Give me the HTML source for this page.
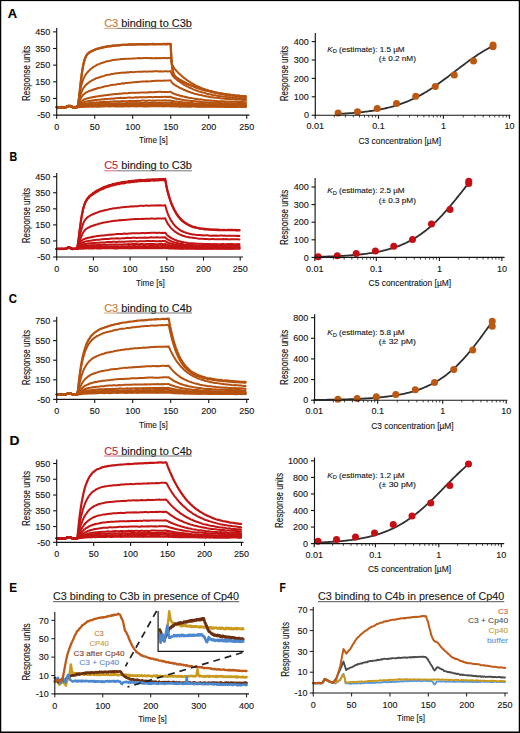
<!DOCTYPE html>
<html><head><meta charset="utf-8"><style>
html,body{margin:0;padding:0;background:#fff;}
body{width:520px;height:733px;overflow:hidden;font-family:"Liberation Sans", sans-serif;}
svg{display:block;}
text{stroke-width:0.12px;}
</style></head><body>
<svg width="520" height="733" viewBox="0 0 520 733" font-family='"Liberation Sans", sans-serif'>
<rect x="0" y="0" width="520" height="733" fill="#fff"/>
<path d="M56.70,107.21 L58.22,107.15 L59.74,107.33 L61.26,107.12 L62.78,107.29 L64.30,107.23 L65.82,107.12 L66.20,107.05 L66.58,106.66 L66.96,106.60 L67.34,106.28 L67.72,106.13 L68.10,106.12 L68.48,106.17 L68.86,105.86 L69.24,105.88 L69.62,106.04 L70.00,106.21 L70.38,106.18 L70.76,106.24 L71.14,106.61 L71.52,106.46 L71.90,106.96 L72.28,106.97 L72.66,107.15 L73.04,107.14 L73.42,107.21 L74.94,107.39 L76.46,107.16 L77.98,105.89 L78.36,103.58 L78.74,100.59 L79.12,97.41 L79.50,93.79 L79.88,90.26 L80.26,86.80 L80.64,83.54 L81.02,80.16 L81.40,77.02 L81.78,74.23 L82.16,71.52 L82.54,69.05 L82.92,67.04 L83.30,65.04 L83.68,63.13 L84.06,61.71 L84.44,60.33 L84.82,59.27 L85.20,58.18 L85.58,57.11 L85.96,56.57 L86.34,55.56 L86.72,55.06 L87.10,54.65 L87.48,53.96 L87.86,53.67 L88.24,53.13 L88.62,53.02 L89.00,52.75 L89.38,52.40 L89.76,52.25 L90.14,51.81 L90.52,51.72 L90.90,51.47 L91.28,51.26 L91.66,51.02 L92.04,50.98 L92.42,50.84 L92.80,50.50 L93.18,50.40 L93.56,50.02 L93.94,50.10 L94.32,49.92 L94.70,49.90 L95.08,49.70 L95.46,49.36 L95.84,49.27 L96.22,49.24 L96.60,48.87 L98.12,48.55 L99.64,48.00 L101.16,47.59 L102.68,47.21 L104.20,47.14 L105.72,46.62 L107.24,46.40 L108.76,46.21 L110.28,46.16 L111.80,45.68 L113.32,45.64 L114.84,45.51 L116.36,45.49 L117.88,45.33 L119.40,45.23 L120.92,44.91 L122.44,44.86 L123.96,44.75 L125.48,44.86 L127.00,44.82 L128.52,44.46 L130.04,44.41 L131.56,44.38 L133.08,44.33 L134.60,44.38 L136.12,44.38 L137.64,44.22 L139.16,44.10 L140.68,44.22 L142.20,44.17 L143.72,44.22 L145.24,44.34 L146.76,44.22 L148.28,44.14 L149.80,44.16 L151.32,44.17 L152.84,43.93 L154.36,44.22 L155.88,44.17 L157.40,44.19 L158.92,44.16 L160.44,44.00 L161.96,44.00 L163.48,43.89 L165.00,44.07 L166.52,43.86 L168.04,43.86 L169.56,43.90 L169.94,43.89 L170.32,43.95 L170.70,43.84 L171.08,52.79 L171.46,59.28 L171.84,63.90 L172.22,67.35 L172.60,69.70 L172.98,71.82 L173.36,73.10 L173.74,73.98 L174.12,74.83 L174.50,75.52 L174.88,76.06 L175.26,76.42 L175.64,77.08 L176.02,77.48 L176.40,77.61 L176.78,77.91 L177.16,78.04 L177.54,78.31 L177.92,78.66 L178.30,78.87 L178.68,79.32 L179.06,79.31 L179.44,79.50 L179.82,80.06 L180.20,80.13 L180.58,80.21 L180.96,80.57 L181.34,80.60 L181.72,80.99 L182.10,81.37 L182.48,81.53 L182.86,81.68 L183.24,81.72 L183.62,81.96 L184.00,82.09 L184.38,82.50 L184.76,82.60 L185.14,82.88 L185.52,82.91 L185.90,83.06 L186.28,83.46 L186.66,83.70 L187.04,83.83 L187.42,83.99 L187.80,84.17 L188.18,84.32 L188.56,84.31 L188.94,84.58 L189.32,84.69 L189.70,84.74 L191.22,85.39 L192.74,86.09 L194.26,86.68 L195.78,87.40 L197.30,88.03 L198.82,88.36 L200.34,89.02 L201.86,89.51 L203.38,89.95 L204.90,90.16 L206.42,90.52 L207.94,90.91 L209.46,91.27 L210.98,91.63 L212.50,92.12 L214.02,92.54 L215.54,92.83 L217.06,93.00 L218.58,93.34 L220.10,93.66 L221.62,93.66 L223.14,94.12 L224.66,94.44 L226.18,94.62 L227.70,94.82 L229.22,94.93 L230.74,95.02 L232.26,95.42 L233.78,95.44 L235.30,95.78 L236.82,96.00 L238.34,95.95 L239.86,96.10 L241.38,96.44 L242.90,96.49 L244.42,96.42 L245.94,96.53" fill="none" stroke="#b5520f" stroke-width="2.2" stroke-linejoin="round" stroke-linecap="round"/>
<path d="M56.70,106.82 L58.22,107.09 L59.74,107.05 L61.26,106.81 L62.78,107.06 L64.30,107.11 L65.82,107.00 L66.20,106.66 L66.58,106.51 L66.96,106.16 L67.34,105.93 L67.72,106.12 L68.10,105.87 L68.48,105.73 L68.86,105.82 L69.24,105.62 L69.62,105.80 L70.00,105.84 L70.38,105.71 L70.76,105.86 L71.14,106.03 L71.52,106.20 L71.90,106.53 L72.28,106.63 L72.66,106.91 L73.04,106.81 L73.42,107.09 L74.94,106.89 L76.46,106.93 L77.98,105.57 L78.36,103.37 L78.74,100.33 L79.12,97.29 L79.50,93.72 L79.88,90.23 L80.26,86.74 L80.64,83.16 L81.02,80.05 L81.40,76.88 L81.78,73.95 L82.16,71.60 L82.54,68.97 L82.92,66.91 L83.30,65.05 L83.68,63.26 L84.06,61.65 L84.44,60.37 L84.82,59.20 L85.20,58.25 L85.58,57.11 L85.96,56.48 L86.34,55.68 L86.72,55.09 L87.10,54.74 L87.48,54.18 L87.86,53.78 L88.24,53.48 L88.62,53.20 L89.00,52.73 L89.38,52.51 L89.76,52.22 L90.14,51.98 L90.52,51.82 L90.90,51.52 L91.28,51.35 L91.66,51.14 L92.04,51.12 L92.42,50.86 L92.80,50.76 L93.18,50.61 L93.56,50.21 L93.94,50.16 L94.32,50.15 L94.70,49.97 L95.08,49.57 L95.46,49.43 L95.84,49.41 L96.22,49.15 L96.60,49.08 L98.12,48.54 L99.64,48.32 L101.16,47.97 L102.68,47.65 L104.20,47.06 L105.72,46.98 L107.24,46.69 L108.76,46.27 L110.28,46.32 L111.80,46.15 L113.32,45.71 L114.84,45.81 L116.36,45.47 L117.88,45.37 L119.40,45.43 L120.92,45.27 L122.44,44.93 L123.96,44.94 L125.48,44.89 L127.00,44.76 L128.52,44.64 L130.04,44.63 L131.56,44.72 L133.08,44.42 L134.60,44.57 L136.12,44.49 L137.64,44.30 L139.16,44.38 L140.68,44.45 L142.20,44.39 L143.72,44.20 L145.24,44.51 L146.76,44.42 L148.28,44.47 L149.80,44.14 L151.32,44.19 L152.84,44.09 L154.36,44.35 L155.88,44.15 L157.40,44.09 L158.92,44.19 L160.44,44.36 L161.96,44.32 L163.48,44.11 L165.00,44.06 L166.52,44.33 L168.04,44.20 L169.56,44.25 L169.94,44.03 L170.32,44.01 L170.70,44.24 L171.08,53.04 L171.46,59.30 L171.84,64.21 L172.22,67.45 L172.60,69.95 L172.98,71.50 L173.36,73.14 L173.74,73.90 L174.12,75.00 L174.50,75.50 L174.88,75.99 L175.26,76.52 L175.64,77.05 L176.02,77.16 L176.40,77.43 L176.78,77.87 L177.16,78.04 L177.54,78.26 L177.92,78.54 L178.30,78.74 L178.68,79.04 L179.06,79.32 L179.44,79.54 L179.82,79.94 L180.20,79.99 L180.58,80.29 L180.96,80.39 L181.34,80.67 L181.72,80.76 L182.10,81.06 L182.48,81.18 L182.86,81.64 L183.24,81.78 L183.62,81.85 L184.00,82.15 L184.38,82.51 L184.76,82.41 L185.14,82.85 L185.52,82.90 L185.90,83.11 L186.28,83.42 L186.66,83.45 L187.04,83.67 L187.42,83.91 L187.80,84.19 L188.18,84.14 L188.56,84.49 L188.94,84.61 L189.32,84.75 L189.70,84.84 L191.22,85.47 L192.74,85.98 L194.26,86.60 L195.78,87.14 L197.30,87.92 L198.82,88.26 L200.34,88.72 L201.86,89.16 L203.38,89.88 L204.90,90.32 L206.42,90.66 L207.94,90.91 L209.46,91.27 L210.98,91.64 L212.50,92.04 L214.02,92.26 L215.54,92.67 L217.06,92.90 L218.58,93.44 L220.10,93.71 L221.62,93.82 L223.14,93.95 L224.66,94.45 L226.18,94.44 L227.70,94.67 L229.22,94.75 L230.74,95.08 L232.26,95.30 L233.78,95.49 L235.30,95.55 L236.82,95.82 L238.34,95.80 L239.86,96.04 L241.38,96.12 L242.90,96.37 L244.42,96.37 L245.94,96.48" fill="none" stroke="#b5520f" stroke-width="2.2" stroke-linejoin="round" stroke-linecap="round"/>
<path d="M56.70,107.20 L58.22,107.18 L59.74,107.31 L61.26,107.29 L62.78,107.37 L64.30,107.33 L65.82,107.35 L66.20,107.19 L66.58,106.79 L66.96,106.56 L67.34,106.61 L67.72,106.15 L68.10,106.23 L68.48,106.10 L68.86,105.83 L69.24,106.10 L69.62,106.14 L70.00,106.10 L70.38,106.23 L70.76,106.39 L71.14,106.31 L71.52,106.63 L71.90,106.83 L72.28,107.17 L72.66,107.38 L73.04,107.39 L73.42,107.31 L74.94,107.42 L76.46,107.34 L77.98,104.93 L78.36,102.07 L78.74,99.35 L79.12,96.85 L79.50,94.56 L79.88,92.27 L80.26,90.51 L80.64,88.55 L81.02,86.88 L81.40,85.34 L81.78,83.94 L82.16,82.59 L82.54,81.24 L82.92,80.45 L83.30,79.45 L83.68,78.46 L84.06,77.64 L84.44,76.92 L84.82,75.99 L85.20,75.57 L85.58,74.78 L85.96,74.14 L86.34,73.66 L86.72,73.32 L87.10,72.64 L87.48,72.37 L87.86,72.02 L88.24,71.43 L88.62,70.99 L89.00,70.64 L89.38,70.35 L89.76,70.02 L90.14,69.63 L90.52,69.31 L90.90,68.79 L91.28,68.51 L91.66,68.25 L92.04,68.14 L92.42,67.70 L92.80,67.52 L93.18,67.06 L93.56,66.82 L93.94,66.65 L94.32,66.56 L94.70,66.33 L95.08,66.10 L95.46,65.74 L95.84,65.61 L96.22,65.38 L96.60,65.18 L98.12,64.30 L99.64,63.90 L101.16,63.05 L102.68,62.79 L104.20,62.29 L105.72,61.52 L107.24,61.29 L108.76,61.07 L110.28,60.81 L111.80,60.35 L113.32,60.03 L114.84,59.78 L116.36,59.85 L117.88,59.40 L119.40,59.38 L120.92,59.07 L122.44,59.08 L123.96,59.12 L125.48,58.72 L127.00,58.87 L128.52,58.68 L130.04,58.74 L131.56,58.61 L133.08,58.38 L134.60,58.56 L136.12,58.37 L137.64,58.16 L139.16,58.11 L140.68,58.25 L142.20,58.21 L143.72,58.12 L145.24,58.04 L146.76,58.09 L148.28,58.06 L149.80,58.23 L151.32,57.92 L152.84,58.17 L154.36,58.19 L155.88,57.92 L157.40,58.20 L158.92,58.11 L160.44,58.17 L161.96,57.95 L163.48,57.97 L165.00,57.97 L166.52,58.18 L168.04,58.03 L169.56,57.94 L169.94,57.97 L170.32,57.91 L170.70,57.83 L171.08,60.10 L171.46,62.09 L171.84,63.25 L172.22,64.59 L172.60,65.25 L172.98,66.03 L173.36,66.80 L173.74,67.30 L174.12,67.92 L174.50,68.65 L174.88,69.12 L175.26,69.56 L175.64,69.95 L176.02,70.49 L176.40,70.93 L176.78,71.20 L177.16,71.67 L177.54,71.83 L177.92,72.47 L178.30,72.75 L178.68,73.24 L179.06,73.57 L179.44,73.81 L179.82,74.08 L180.20,74.76 L180.58,74.82 L180.96,75.29 L181.34,75.58 L181.72,75.90 L182.10,76.39 L182.48,76.80 L182.86,76.86 L183.24,77.32 L183.62,77.50 L184.00,77.90 L184.38,78.14 L184.76,78.36 L185.14,78.65 L185.52,78.95 L185.90,79.49 L186.28,79.62 L186.66,79.80 L187.04,80.31 L187.42,80.61 L187.80,80.68 L188.18,80.83 L188.56,81.10 L188.94,81.32 L189.32,81.66 L189.70,81.81 L191.22,82.80 L192.74,83.70 L194.26,84.64 L195.78,85.54 L197.30,86.24 L198.82,86.81 L200.34,87.47 L201.86,88.13 L203.38,88.66 L204.90,89.19 L206.42,89.61 L207.94,90.17 L209.46,90.88 L210.98,91.01 L212.50,91.55 L214.02,91.98 L215.54,92.42 L217.06,92.53 L218.58,92.87 L220.10,93.16 L221.62,93.50 L223.14,93.78 L224.66,94.22 L226.18,94.41 L227.70,94.65 L229.22,94.55 L230.74,94.75 L232.26,95.18 L233.78,95.42 L235.30,95.44 L236.82,95.63 L238.34,95.57 L239.86,95.85 L241.38,96.17 L242.90,96.26 L244.42,96.38 L245.94,96.53" fill="none" stroke="#b5520f" stroke-width="2.0" stroke-linejoin="round" stroke-linecap="round"/>
<path d="M56.70,107.18 L58.22,107.13 L59.74,107.15 L61.26,107.28 L62.78,107.34 L64.30,107.43 L65.82,107.35 L66.20,107.10 L66.58,106.93 L66.96,106.61 L67.34,106.46 L67.72,106.11 L68.10,106.25 L68.48,105.96 L68.86,106.15 L69.24,106.03 L69.62,105.92 L70.00,105.92 L70.38,106.06 L70.76,106.33 L71.14,106.51 L71.52,106.49 L71.90,106.68 L72.28,107.06 L72.66,107.30 L73.04,107.23 L73.42,107.18 L74.94,107.31 L76.46,107.10 L77.98,105.58 L78.36,103.82 L78.74,102.20 L79.12,100.38 L79.50,98.85 L79.88,97.22 L80.26,95.76 L80.64,94.51 L81.02,93.61 L81.40,92.47 L81.78,91.37 L82.16,90.40 L82.54,89.77 L82.92,89.11 L83.30,88.35 L83.68,87.68 L84.06,87.26 L84.44,86.83 L84.82,86.09 L85.20,85.56 L85.58,85.25 L85.96,84.88 L86.34,84.60 L86.72,84.06 L87.10,83.94 L87.48,83.60 L87.86,83.20 L88.24,82.80 L88.62,82.79 L89.00,82.28 L89.38,82.20 L89.76,81.73 L90.14,81.48 L90.52,81.43 L90.90,81.03 L91.28,81.04 L91.66,80.66 L92.04,80.33 L92.42,80.14 L92.80,80.00 L93.18,79.89 L93.56,79.80 L93.94,79.32 L94.32,79.23 L94.70,78.98 L95.08,79.08 L95.46,78.61 L95.84,78.41 L96.22,78.25 L96.60,78.21 L98.12,77.79 L99.64,77.23 L101.16,76.67 L102.68,76.30 L104.20,75.86 L105.72,75.25 L107.24,74.85 L108.76,74.80 L110.28,74.44 L111.80,73.91 L113.32,73.89 L114.84,73.56 L116.36,73.36 L117.88,73.16 L119.40,72.93 L120.92,72.71 L122.44,72.67 L123.96,72.56 L125.48,72.66 L127.00,72.25 L128.52,72.45 L130.04,72.09 L131.56,72.06 L133.08,72.15 L134.60,72.08 L136.12,71.88 L137.64,71.68 L139.16,71.78 L140.68,71.69 L142.20,71.85 L143.72,71.54 L145.24,71.57 L146.76,71.73 L148.28,71.38 L149.80,71.49 L151.32,71.61 L152.84,71.57 L154.36,71.29 L155.88,71.27 L157.40,71.26 L158.92,71.55 L160.44,71.30 L161.96,71.46 L163.48,71.50 L165.00,71.29 L166.52,71.25 L168.04,71.49 L169.56,71.36 L169.94,71.23 L170.32,71.39 L170.70,71.24 L171.08,72.46 L171.46,73.33 L171.84,74.39 L172.22,75.11 L172.60,75.58 L172.98,76.19 L173.36,76.32 L173.74,76.81 L174.12,77.29 L174.50,77.83 L174.88,78.18 L175.26,78.32 L175.64,78.60 L176.02,78.99 L176.40,79.33 L176.78,79.79 L177.16,79.83 L177.54,80.35 L177.92,80.62 L178.30,80.94 L178.68,81.20 L179.06,81.42 L179.44,81.59 L179.82,81.86 L180.20,82.14 L180.58,82.55 L180.96,82.56 L181.34,82.86 L181.72,83.31 L182.10,83.37 L182.48,83.55 L182.86,83.78 L183.24,84.20 L183.62,84.35 L184.00,84.81 L184.38,85.01 L184.76,85.27 L185.14,85.22 L185.52,85.37 L185.90,85.59 L186.28,85.94 L186.66,86.23 L187.04,86.33 L187.42,86.46 L187.80,86.72 L188.18,86.99 L188.56,87.20 L188.94,87.41 L189.32,87.63 L189.70,87.75 L191.22,88.26 L192.74,89.18 L194.26,89.61 L195.78,90.30 L197.30,90.78 L198.82,91.43 L200.34,91.73 L201.86,92.21 L203.38,92.65 L204.90,93.02 L206.42,93.67 L207.94,93.93 L209.46,94.18 L210.98,94.53 L212.50,95.04 L214.02,95.16 L215.54,95.33 L217.06,95.79 L218.58,95.97 L220.10,96.32 L221.62,96.21 L223.14,96.54 L224.66,96.86 L226.18,97.04 L227.70,97.23 L229.22,97.08 L230.74,97.32 L232.26,97.39 L233.78,97.55 L235.30,97.95 L236.82,97.93 L238.34,98.16 L239.86,98.07 L241.38,98.34 L242.90,98.28 L244.42,98.30 L245.94,98.57" fill="none" stroke="#b5520f" stroke-width="2.0" stroke-linejoin="round" stroke-linecap="round"/>
<path d="M56.70,107.44 L58.22,107.13 L59.74,107.31 L61.26,107.32 L62.78,107.17 L64.30,107.23 L65.82,107.15 L66.20,106.94 L66.58,106.74 L66.96,106.66 L67.34,106.49 L67.72,106.17 L68.10,105.97 L68.48,105.99 L68.86,106.06 L69.24,105.86 L69.62,105.93 L70.00,105.95 L70.38,106.26 L70.76,106.30 L71.14,106.28 L71.52,106.48 L71.90,106.79 L72.28,107.07 L72.66,107.33 L73.04,107.13 L73.42,107.15 L74.94,107.35 L76.46,107.24 L77.98,106.12 L78.36,104.89 L78.74,103.90 L79.12,102.51 L79.50,101.51 L79.88,100.43 L80.26,99.53 L80.64,98.86 L81.02,98.15 L81.40,97.23 L81.78,96.56 L82.16,96.19 L82.54,95.49 L82.92,94.97 L83.30,94.87 L83.68,94.32 L84.06,94.12 L84.44,93.66 L84.82,93.54 L85.20,93.12 L85.58,92.76 L85.96,92.47 L86.34,92.44 L86.72,92.27 L87.10,92.17 L87.48,91.68 L87.86,91.70 L88.24,91.43 L88.62,91.31 L89.00,91.02 L89.38,90.92 L89.76,90.85 L90.14,90.85 L90.52,90.41 L90.90,90.41 L91.28,90.38 L91.66,90.30 L92.04,89.89 L92.42,89.74 L92.80,89.90 L93.18,89.79 L93.56,89.48 L93.94,89.21 L94.32,89.40 L94.70,89.09 L95.08,89.16 L95.46,88.94 L95.84,88.90 L96.22,88.54 L96.60,88.66 L98.12,88.02 L99.64,87.68 L101.16,87.44 L102.68,87.07 L104.20,86.48 L105.72,86.15 L107.24,85.90 L108.76,85.64 L110.28,85.30 L111.80,84.93 L113.32,84.71 L114.84,84.64 L116.36,84.46 L117.88,83.93 L119.40,83.90 L120.92,83.77 L122.44,83.31 L123.96,83.42 L125.48,82.98 L127.00,82.99 L128.52,82.81 L130.04,82.69 L131.56,82.43 L133.08,82.33 L134.60,82.26 L136.12,82.08 L137.64,82.05 L139.16,81.86 L140.68,81.75 L142.20,81.50 L143.72,81.62 L145.24,81.48 L146.76,81.30 L148.28,81.41 L149.80,81.33 L151.32,81.14 L152.84,80.97 L154.36,81.01 L155.88,80.81 L157.40,80.76 L158.92,80.81 L160.44,80.63 L161.96,80.71 L163.48,80.68 L165.00,80.46 L166.52,80.63 L168.04,80.39 L169.56,80.58 L169.94,80.59 L170.32,80.48 L170.70,80.31 L171.08,81.22 L171.46,81.79 L171.84,82.50 L172.22,82.65 L172.60,83.29 L172.98,83.68 L173.36,83.90 L173.74,84.23 L174.12,84.28 L174.50,84.83 L174.88,84.91 L175.26,85.33 L175.64,85.55 L176.02,85.52 L176.40,85.97 L176.78,86.25 L177.16,86.16 L177.54,86.49 L177.92,86.85 L178.30,86.84 L178.68,87.32 L179.06,87.30 L179.44,87.70 L179.82,87.65 L180.20,87.98 L180.58,88.32 L180.96,88.26 L181.34,88.46 L181.72,88.74 L182.10,88.85 L182.48,88.93 L182.86,89.16 L183.24,89.32 L183.62,89.77 L184.00,89.85 L184.38,90.09 L184.76,90.00 L185.14,90.38 L185.52,90.30 L185.90,90.60 L186.28,90.79 L186.66,90.85 L187.04,91.18 L187.42,91.21 L187.80,91.37 L188.18,91.62 L188.56,91.48 L188.94,91.94 L189.32,91.95 L189.70,92.00 L191.22,92.66 L192.74,92.96 L194.26,93.68 L195.78,93.96 L197.30,94.29 L198.82,94.82 L200.34,95.07 L201.86,95.32 L203.38,95.84 L204.90,95.89 L206.42,96.46 L207.94,96.52 L209.46,96.91 L210.98,97.27 L212.50,97.35 L214.02,97.59 L215.54,97.67 L217.06,97.74 L218.58,97.93 L220.10,98.14 L221.62,98.46 L223.14,98.54 L224.66,98.71 L226.18,98.98 L227.70,98.83 L229.22,98.98 L230.74,99.24 L232.26,99.11 L233.78,99.20 L235.30,99.42 L236.82,99.42 L238.34,99.59 L239.86,99.62 L241.38,99.82 L242.90,99.89 L244.42,99.81 L245.94,100.02" fill="none" stroke="#b5520f" stroke-width="2.0" stroke-linejoin="round" stroke-linecap="round"/>
<path d="M56.70,107.27 L58.22,107.14 L59.74,107.43 L61.26,107.18 L62.78,107.15 L64.30,107.13 L65.82,107.32 L66.20,107.18 L66.58,106.93 L66.96,106.59 L67.34,106.35 L67.72,106.10 L68.10,106.20 L68.48,106.08 L68.86,105.94 L69.24,106.03 L69.62,105.97 L70.00,106.21 L70.38,106.23 L70.76,106.19 L71.14,106.58 L71.52,106.46 L71.90,106.84 L72.28,107.02 L72.66,107.18 L73.04,107.12 L73.42,107.38 L74.94,107.10 L76.46,107.29 L77.98,106.81 L78.36,105.81 L78.74,105.12 L79.12,104.60 L79.50,103.93 L79.88,103.40 L80.26,102.93 L80.64,102.22 L81.02,101.83 L81.40,101.43 L81.78,100.98 L82.16,100.96 L82.54,100.63 L82.92,100.35 L83.30,99.85 L83.68,99.93 L84.06,99.70 L84.44,99.42 L84.82,99.35 L85.20,99.09 L85.58,98.86 L85.96,98.68 L86.34,98.60 L86.72,98.41 L87.10,98.40 L87.48,98.44 L87.86,98.32 L88.24,98.27 L88.62,98.13 L89.00,97.88 L89.38,97.89 L89.76,97.76 L90.14,97.80 L90.52,97.62 L90.90,97.45 L91.28,97.50 L91.66,97.54 L92.04,97.20 L92.42,97.36 L92.80,96.97 L93.18,96.99 L93.56,96.91 L93.94,97.02 L94.32,97.02 L94.70,96.88 L95.08,96.66 L95.46,96.79 L95.84,96.53 L96.22,96.43 L96.60,96.61 L98.12,96.26 L99.64,96.04 L101.16,95.81 L102.68,95.70 L104.20,95.32 L105.72,95.26 L107.24,95.02 L108.76,94.90 L110.28,94.58 L111.80,94.53 L113.32,94.32 L114.84,94.08 L116.36,93.91 L117.88,93.93 L119.40,93.61 L120.92,93.79 L122.44,93.40 L123.96,93.25 L125.48,93.18 L127.00,93.38 L128.52,93.08 L130.04,92.92 L131.56,92.79 L133.08,92.72 L134.60,92.88 L136.12,92.79 L137.64,92.74 L139.16,92.69 L140.68,92.39 L142.20,92.52 L143.72,92.38 L145.24,92.49 L146.76,92.44 L148.28,92.42 L149.80,92.08 L151.32,92.32 L152.84,92.30 L154.36,92.27 L155.88,91.93 L157.40,91.93 L158.92,91.86 L160.44,91.80 L161.96,92.06 L163.48,92.02 L165.00,91.93 L166.52,91.97 L168.04,91.88 L169.56,91.73 L169.94,91.66 L170.32,91.65 L170.70,91.88 L171.08,92.06 L171.46,92.41 L171.84,92.71 L172.22,92.79 L172.60,93.07 L172.98,93.26 L173.36,93.58 L173.74,93.61 L174.12,93.74 L174.50,94.11 L174.88,94.08 L175.26,94.33 L175.64,94.38 L176.02,94.29 L176.40,94.55 L176.78,94.68 L177.16,94.92 L177.54,94.89 L177.92,95.13 L178.30,95.18 L178.68,95.18 L179.06,95.52 L179.44,95.35 L179.82,95.72 L180.20,95.59 L180.58,95.63 L180.96,95.80 L181.34,96.11 L181.72,96.28 L182.10,96.03 L182.48,96.30 L182.86,96.39 L183.24,96.59 L183.62,96.47 L184.00,96.67 L184.38,96.70 L184.76,96.96 L185.14,96.84 L185.52,97.17 L185.90,97.02 L186.28,97.08 L186.66,97.33 L187.04,97.34 L187.42,97.28 L187.80,97.55 L188.18,97.42 L188.56,97.75 L188.94,97.79 L189.32,97.90 L189.70,97.91 L191.22,98.09 L192.74,98.37 L194.26,98.61 L195.78,99.02 L197.30,98.95 L198.82,99.44 L200.34,99.32 L201.86,99.57 L203.38,99.76 L204.90,100.15 L206.42,100.16 L207.94,100.26 L209.46,100.58 L210.98,100.47 L212.50,100.67 L214.02,100.81 L215.54,100.99 L217.06,101.09 L218.58,101.15 L220.10,101.13 L221.62,101.20 L223.14,101.22 L224.66,101.54 L226.18,101.55 L227.70,101.64 L229.22,101.50 L230.74,101.65 L232.26,101.83 L233.78,101.81 L235.30,101.69 L236.82,101.86 L238.34,102.06 L239.86,101.86 L241.38,101.88 L242.90,101.96 L244.42,102.14 L245.94,102.22" fill="none" stroke="#b5520f" stroke-width="2.0" stroke-linejoin="round" stroke-linecap="round"/>
<path d="M56.70,107.15 L58.22,107.15 L59.74,107.18 L61.26,107.21 L62.78,107.28 L64.30,107.15 L65.82,107.21 L66.20,106.94 L66.58,107.00 L66.96,106.71 L67.34,106.30 L67.72,106.45 L68.10,106.01 L68.48,106.01 L68.86,106.17 L69.24,106.08 L69.62,106.08 L70.00,106.03 L70.38,106.04 L70.76,106.33 L71.14,106.30 L71.52,106.52 L71.90,106.79 L72.28,106.88 L72.66,107.24 L73.04,107.38 L73.42,107.34 L74.94,107.28 L76.46,107.32 L77.98,106.67 L78.36,106.03 L78.74,105.72 L79.12,105.23 L79.50,104.96 L79.88,104.68 L80.26,104.19 L80.64,103.96 L81.02,103.76 L81.40,103.41 L81.78,103.12 L82.16,103.10 L82.54,102.97 L82.92,102.77 L83.30,102.59 L83.68,102.50 L84.06,102.30 L84.44,102.16 L84.82,101.97 L85.20,101.81 L85.58,101.82 L85.96,101.53 L86.34,101.55 L86.72,101.60 L87.10,101.49 L87.48,101.38 L87.86,101.16 L88.24,101.15 L88.62,101.09 L89.00,101.08 L89.38,100.93 L89.76,100.97 L90.14,100.99 L90.52,100.66 L90.90,100.77 L91.28,100.76 L91.66,100.56 L92.04,100.54 L92.42,100.66 L92.80,100.27 L93.18,100.40 L93.56,100.21 L93.94,100.39 L94.32,100.39 L94.70,100.19 L95.08,100.00 L95.46,100.12 L95.84,100.06 L96.22,100.08 L96.60,99.96 L98.12,99.83 L99.64,99.74 L101.16,99.48 L102.68,99.29 L104.20,99.34 L105.72,98.95 L107.24,98.99 L108.76,98.77 L110.28,98.79 L111.80,98.45 L113.32,98.66 L114.84,98.33 L116.36,98.13 L117.88,98.12 L119.40,98.08 L120.92,97.86 L122.44,97.93 L123.96,97.86 L125.48,97.89 L127.00,97.70 L128.52,97.61 L130.04,97.54 L131.56,97.67 L133.08,97.68 L134.60,97.49 L136.12,97.33 L137.64,97.49 L139.16,97.30 L140.68,97.19 L142.20,97.12 L143.72,97.32 L145.24,97.29 L146.76,97.20 L148.28,97.10 L149.80,97.11 L151.32,96.96 L152.84,97.19 L154.36,96.95 L155.88,97.03 L157.40,97.07 L158.92,97.04 L160.44,96.90 L161.96,96.81 L163.48,96.88 L165.00,96.71 L166.52,96.95 L168.04,96.76 L169.56,96.92 L169.94,96.71 L170.32,96.74 L170.70,96.70 L171.08,97.01 L171.46,97.13 L171.84,97.24 L172.22,97.65 L172.60,97.62 L172.98,97.72 L173.36,97.85 L173.74,98.02 L174.12,98.10 L174.50,98.27 L174.88,98.37 L175.26,98.35 L175.64,98.63 L176.02,98.69 L176.40,98.48 L176.78,98.84 L177.16,98.95 L177.54,98.98 L177.92,98.83 L178.30,99.15 L178.68,99.15 L179.06,99.00 L179.44,99.07 L179.82,99.48 L180.20,99.44 L180.58,99.36 L180.96,99.38 L181.34,99.46 L181.72,99.55 L182.10,99.81 L182.48,99.72 L182.86,99.71 L183.24,100.05 L183.62,100.07 L184.00,99.90 L184.38,100.22 L184.76,100.18 L185.14,100.29 L185.52,100.31 L185.90,100.45 L186.28,100.46 L186.66,100.53 L187.04,100.35 L187.42,100.59 L187.80,100.58 L188.18,100.70 L188.56,100.64 L188.94,100.85 L189.32,100.78 L189.70,100.73 L191.22,100.90 L192.74,101.04 L194.26,101.32 L195.78,101.32 L197.30,101.61 L198.82,101.63 L200.34,101.88 L201.86,102.00 L203.38,102.13 L204.90,102.36 L206.42,102.15 L207.94,102.54 L209.46,102.50 L210.98,102.61 L212.50,102.73 L214.02,102.87 L215.54,102.77 L217.06,102.85 L218.58,103.11 L220.10,102.85 L221.62,103.11 L223.14,103.16 L224.66,102.99 L226.18,103.24 L227.70,103.31 L229.22,103.44 L230.74,103.26 L232.26,103.53 L233.78,103.40 L235.30,103.42 L236.82,103.60 L238.34,103.32 L239.86,103.59 L241.38,103.58 L242.90,103.50 L244.42,103.71 L245.94,103.56" fill="none" stroke="#b5520f" stroke-width="2.0" stroke-linejoin="round" stroke-linecap="round"/>
<path d="M56.70,107.27 L58.22,107.28 L59.74,107.37 L61.26,107.17 L62.78,107.25 L64.30,107.25 L65.82,107.29 L66.20,107.17 L66.58,106.76 L66.96,106.74 L67.34,106.40 L67.72,106.28 L68.10,106.07 L68.48,106.06 L68.86,106.17 L69.24,106.03 L69.62,106.10 L70.00,105.99 L70.38,106.08 L70.76,106.21 L71.14,106.47 L71.52,106.67 L71.90,106.93 L72.28,106.88 L72.66,107.36 L73.04,107.41 L73.42,107.29 L74.94,107.11 L76.46,107.20 L77.98,106.71 L78.36,106.44 L78.74,106.39 L79.12,106.00 L79.50,105.77 L79.88,105.59 L80.26,105.43 L80.64,105.14 L81.02,104.97 L81.40,104.82 L81.78,104.71 L82.16,104.54 L82.54,104.45 L82.92,104.17 L83.30,104.24 L83.68,104.07 L84.06,104.09 L84.44,103.77 L84.82,103.72 L85.20,103.60 L85.58,103.79 L85.96,103.78 L86.34,103.63 L86.72,103.47 L87.10,103.57 L87.48,103.51 L87.86,103.38 L88.24,103.22 L88.62,103.19 L89.00,103.19 L89.38,103.10 L89.76,103.10 L90.14,103.14 L90.52,103.20 L90.90,102.85 L91.28,102.99 L91.66,102.77 L92.04,102.76 L92.42,102.97 L92.80,102.85 L93.18,102.94 L93.56,102.74 L93.94,102.55 L94.32,102.65 L94.70,102.70 L95.08,102.79 L95.46,102.77 L95.84,102.56 L96.22,102.51 L96.60,102.37 L98.12,102.45 L99.64,102.19 L101.16,102.07 L102.68,101.92 L104.20,101.83 L105.72,101.99 L107.24,101.70 L108.76,101.93 L110.28,101.54 L111.80,101.75 L113.32,101.42 L114.84,101.32 L116.36,101.51 L117.88,101.28 L119.40,101.40 L120.92,101.15 L122.44,101.05 L123.96,101.27 L125.48,101.20 L127.00,101.21 L128.52,101.12 L130.04,100.85 L131.56,101.01 L133.08,101.01 L134.60,100.88 L136.12,101.02 L137.64,100.75 L139.16,100.97 L140.68,100.86 L142.20,100.58 L143.72,100.56 L145.24,100.76 L146.76,100.80 L148.28,100.51 L149.80,100.58 L151.32,100.71 L152.84,100.49 L154.36,100.72 L155.88,100.57 L157.40,100.40 L158.92,100.49 L160.44,100.55 L161.96,100.49 L163.48,100.57 L165.00,100.36 L166.52,100.58 L168.04,100.42 L169.56,100.51 L169.94,100.50 L170.32,100.42 L170.70,100.41 L171.08,100.71 L171.46,100.90 L171.84,100.96 L172.22,100.97 L172.60,100.96 L172.98,100.95 L173.36,101.34 L173.74,101.31 L174.12,101.42 L174.50,101.30 L174.88,101.45 L175.26,101.64 L175.64,101.64 L176.02,101.61 L176.40,101.56 L176.78,101.65 L177.16,101.86 L177.54,101.73 L177.92,101.89 L178.30,101.90 L178.68,102.05 L179.06,102.07 L179.44,101.92 L179.82,101.87 L180.20,102.00 L180.58,102.10 L180.96,102.20 L181.34,102.33 L181.72,102.39 L182.10,102.13 L182.48,102.45 L182.86,102.49 L183.24,102.54 L183.62,102.48 L184.00,102.41 L184.38,102.65 L184.76,102.67 L185.14,102.66 L185.52,102.78 L185.90,102.61 L186.28,102.55 L186.66,102.75 L187.04,102.87 L187.42,102.69 L187.80,102.92 L188.18,103.02 L188.56,102.80 L188.94,102.96 L189.32,103.02 L189.70,102.97 L191.22,102.99 L192.74,103.12 L194.26,103.40 L195.78,103.51 L197.30,103.48 L198.82,103.43 L200.34,103.77 L201.86,103.83 L203.38,103.70 L204.90,103.90 L206.42,104.07 L207.94,104.13 L209.46,104.05 L210.98,104.09 L212.50,104.18 L214.02,104.08 L215.54,104.13 L217.06,104.16 L218.58,104.39 L220.10,104.30 L221.62,104.41 L223.14,104.38 L224.66,104.46 L226.18,104.35 L227.70,104.34 L229.22,104.71 L230.74,104.51 L232.26,104.44 L233.78,104.65 L235.30,104.72 L236.82,104.51 L238.34,104.69 L239.86,104.62 L241.38,104.70 L242.90,104.53 L244.42,104.55 L245.94,104.91" fill="none" stroke="#b5520f" stroke-width="2.0" stroke-linejoin="round" stroke-linecap="round"/>
<path d="M56.70,107.41 L58.22,107.27 L59.74,107.30 L61.26,107.19 L62.78,107.38 L64.30,107.25 L65.82,107.44 L66.20,107.15 L66.58,106.95 L66.96,106.79 L67.34,106.35 L67.72,106.11 L68.10,106.04 L68.48,105.94 L68.86,105.84 L69.24,105.81 L69.62,106.02 L70.00,106.19 L70.38,106.13 L70.76,106.44 L71.14,106.59 L71.52,106.47 L71.90,106.87 L72.28,107.01 L72.66,107.14 L73.04,107.44 L73.42,107.19 L74.94,107.30 L76.46,107.33 L77.98,107.19 L78.36,106.86 L78.74,106.56 L79.12,106.39 L79.50,106.12 L79.88,106.27 L80.26,106.14 L80.64,105.74 L81.02,105.56 L81.40,105.54 L81.78,105.48 L82.16,105.60 L82.54,105.52 L82.92,105.42 L83.30,105.07 L83.68,105.28 L84.06,105.19 L84.44,105.11 L84.82,105.19 L85.20,104.80 L85.58,104.79 L85.96,104.97 L86.34,104.99 L86.72,104.86 L87.10,104.69 L87.48,104.76 L87.86,104.79 L88.24,104.52 L88.62,104.57 L89.00,104.51 L89.38,104.44 L89.76,104.54 L90.14,104.40 L90.52,104.40 L90.90,104.34 L91.28,104.50 L91.66,104.24 L92.04,104.47 L92.42,104.26 L92.80,104.18 L93.18,104.48 L93.56,104.20 L93.94,104.44 L94.32,104.39 L94.70,104.38 L95.08,104.09 L95.46,104.18 L95.84,104.03 L96.22,104.31 L96.60,104.26 L98.12,104.11 L99.64,103.98 L101.16,103.87 L102.68,103.98 L104.20,103.80 L105.72,103.80 L107.24,103.57 L108.76,103.55 L110.28,103.44 L111.80,103.63 L113.32,103.53 L114.84,103.34 L116.36,103.56 L117.88,103.30 L119.40,103.32 L120.92,103.19 L122.44,103.20 L123.96,103.38 L125.48,103.16 L127.00,103.08 L128.52,103.17 L130.04,103.08 L131.56,103.27 L133.08,102.96 L134.60,103.25 L136.12,102.90 L137.64,103.18 L139.16,103.08 L140.68,102.89 L142.20,102.97 L143.72,102.89 L145.24,102.86 L146.76,102.83 L148.28,102.87 L149.80,103.08 L151.32,103.07 L152.84,103.04 L154.36,102.73 L155.88,102.79 L157.40,102.99 L158.92,102.68 L160.44,102.91 L161.96,102.75 L163.48,102.99 L165.00,102.63 L166.52,102.91 L168.04,102.73 L169.56,102.65 L169.94,102.60 L170.32,102.90 L170.70,102.79 L171.08,102.77 L171.46,102.95 L171.84,103.19 L172.22,103.00 L172.60,103.18 L172.98,103.07 L173.36,103.13 L173.74,103.38 L174.12,103.40 L174.50,103.25 L174.88,103.24 L175.26,103.28 L175.64,103.50 L176.02,103.49 L176.40,103.45 L176.78,103.45 L177.16,103.63 L177.54,103.70 L177.92,103.76 L178.30,103.71 L178.68,103.60 L179.06,103.58 L179.44,103.85 L179.82,103.76 L180.20,103.90 L180.58,103.69 L180.96,103.98 L181.34,103.84 L181.72,104.05 L182.10,104.08 L182.48,103.97 L182.86,103.82 L183.24,104.17 L183.62,104.04 L184.00,104.20 L184.38,104.01 L184.76,104.00 L185.14,104.26 L185.52,104.11 L185.90,104.06 L186.28,104.15 L186.66,104.26 L187.04,104.06 L187.42,104.27 L187.80,104.26 L188.18,104.31 L188.56,104.19 L188.94,104.42 L189.32,104.47 L189.70,104.51 L191.22,104.39 L192.74,104.59 L194.26,104.54 L195.78,104.73 L197.30,104.54 L198.82,104.89 L200.34,104.96 L201.86,104.85 L203.38,104.90 L204.90,104.95 L206.42,104.99 L207.94,104.84 L209.46,105.21 L210.98,104.98 L212.50,105.00 L214.02,105.00 L215.54,105.08 L217.06,105.31 L218.58,105.05 L220.10,105.09 L221.62,105.33 L223.14,105.17 L224.66,105.13 L226.18,105.35 L227.70,105.36 L229.22,105.36 L230.74,105.44 L232.26,105.24 L233.78,105.53 L235.30,105.48 L236.82,105.25 L238.34,105.29 L239.86,105.44 L241.38,105.45 L242.90,105.38 L244.42,105.33 L245.94,105.44" fill="none" stroke="#b5520f" stroke-width="2.0" stroke-linejoin="round" stroke-linecap="round"/>
<path d="M56.70,107.14 L58.22,107.31 L59.74,107.40 L61.26,107.15 L62.78,107.30 L64.30,107.36 L65.82,107.15 L66.20,107.17 L66.58,106.99 L66.96,106.58 L67.34,106.41 L67.72,106.40 L68.10,106.16 L68.48,106.02 L68.86,106.15 L69.24,106.07 L69.62,105.94 L70.00,105.96 L70.38,106.09 L70.76,106.26 L71.14,106.61 L71.52,106.73 L71.90,106.98 L72.28,107.16 L72.66,107.40 L73.04,107.11 L73.42,107.28 L74.94,107.44 L76.46,107.43 L77.98,107.02 L78.36,106.93 L78.74,106.87 L79.12,106.65 L79.50,106.60 L79.88,106.34 L80.26,106.38 L80.64,106.32 L81.02,106.07 L81.40,106.05 L81.78,106.28 L82.16,106.16 L82.54,106.16 L82.92,106.01 L83.30,106.03 L83.68,106.01 L84.06,105.97 L84.44,105.63 L84.82,105.82 L85.20,105.65 L85.58,105.77 L85.96,105.59 L86.34,105.66 L86.72,105.78 L87.10,105.64 L87.48,105.49 L87.86,105.56 L88.24,105.51 L88.62,105.67 L89.00,105.42 L89.38,105.40 L89.76,105.51 L90.14,105.30 L90.52,105.45 L90.90,105.57 L91.28,105.39 L91.66,105.29 L92.04,105.34 L92.42,105.35 L92.80,105.20 L93.18,105.17 L93.56,105.16 L93.94,105.20 L94.32,105.23 L94.70,105.17 L95.08,105.14 L95.46,105.07 L95.84,105.23 L96.22,105.32 L96.60,105.22 L98.12,105.16 L99.64,105.14 L101.16,104.94 L102.68,105.08 L104.20,104.95 L105.72,104.94 L107.24,104.93 L108.76,104.84 L110.28,104.75 L111.80,104.70 L113.32,104.66 L114.84,104.74 L116.36,104.67 L117.88,104.71 L119.40,104.48 L120.92,104.58 L122.44,104.75 L123.96,104.50 L125.48,104.59 L127.00,104.55 L128.52,104.46 L130.04,104.70 L131.56,104.43 L133.08,104.59 L134.60,104.35 L136.12,104.31 L137.64,104.58 L139.16,104.41 L140.68,104.27 L142.20,104.37 L143.72,104.38 L145.24,104.48 L146.76,104.24 L148.28,104.27 L149.80,104.53 L151.32,104.44 L152.84,104.22 L154.36,104.28 L155.88,104.28 L157.40,104.39 L158.92,104.36 L160.44,104.44 L161.96,104.42 L163.48,104.31 L165.00,104.38 L166.52,104.38 L168.04,104.38 L169.56,104.27 L169.94,104.38 L170.32,104.35 L170.70,104.43 L171.08,104.21 L171.46,104.54 L171.84,104.27 L172.22,104.58 L172.60,104.55 L172.98,104.55 L173.36,104.75 L173.74,104.63 L174.12,104.60 L174.50,104.76 L174.88,104.81 L175.26,104.74 L175.64,104.68 L176.02,104.73 L176.40,104.75 L176.78,104.87 L177.16,104.73 L177.54,104.79 L177.92,104.86 L178.30,104.82 L178.68,104.82 L179.06,105.00 L179.44,105.04 L179.82,104.94 L180.20,104.93 L180.58,104.86 L180.96,104.92 L181.34,104.88 L181.72,105.05 L182.10,105.07 L182.48,104.90 L182.86,105.22 L183.24,105.02 L183.62,105.22 L184.00,105.24 L184.38,105.29 L184.76,105.04 L185.14,105.13 L185.52,105.32 L185.90,105.01 L186.28,105.04 L186.66,105.24 L187.04,105.23 L187.42,105.39 L187.80,105.35 L188.18,105.28 L188.56,105.46 L188.94,105.30 L189.32,105.31 L189.70,105.38 L191.22,105.32 L192.74,105.35 L194.26,105.48 L195.78,105.43 L197.30,105.68 L198.82,105.62 L200.34,105.60 L201.86,105.47 L203.38,105.60 L204.90,105.64 L206.42,105.72 L207.94,105.75 L209.46,105.88 L210.98,105.93 L212.50,105.78 L214.02,105.78 L215.54,105.87 L217.06,106.02 L218.58,105.80 L220.10,105.88 L221.62,106.00 L223.14,105.78 L224.66,105.84 L226.18,106.09 L227.70,106.05 L229.22,105.95 L230.74,105.81 L232.26,106.10 L233.78,106.04 L235.30,106.09 L236.82,106.16 L238.34,106.13 L239.86,105.97 L241.38,105.88 L242.90,105.94 L244.42,106.02 L245.94,106.02" fill="none" stroke="#b5520f" stroke-width="2.0" stroke-linejoin="round" stroke-linecap="round"/>
<path d="M56.70,107.16 L58.22,107.16 L59.74,107.32 L61.26,107.31 L62.78,107.22 L64.30,107.45 L65.82,107.32 L66.20,106.88 L66.58,106.80 L66.96,106.73 L67.34,106.37 L67.72,106.35 L68.10,105.97 L68.48,105.98 L68.86,106.12 L69.24,106.01 L69.62,106.06 L70.00,105.94 L70.38,106.15 L70.76,106.30 L71.14,106.36 L71.52,106.68 L71.90,106.84 L72.28,107.23 L72.66,107.30 L73.04,107.24 L73.42,107.14 L74.94,107.15 L76.46,107.37 L77.98,107.03 L78.36,106.94 L78.74,106.88 L79.12,106.93 L79.50,106.97 L79.88,106.84 L80.26,106.85 L80.64,106.53 L81.02,106.47 L81.40,106.70 L81.78,106.50 L82.16,106.61 L82.54,106.45 L82.92,106.35 L83.30,106.36 L83.68,106.27 L84.06,106.54 L84.44,106.40 L84.82,106.30 L85.20,106.31 L85.58,106.27 L85.96,106.14 L86.34,106.42 L86.72,106.30 L87.10,106.42 L87.48,106.22 L87.86,106.27 L88.24,106.12 L88.62,106.03 L89.00,106.34 L89.38,106.30 L89.76,106.10 L90.14,106.29 L90.52,106.25 L90.90,106.06 L91.28,106.16 L91.66,106.28 L92.04,106.10 L92.42,106.25 L92.80,105.99 L93.18,106.03 L93.56,106.14 L93.94,105.95 L94.32,105.98 L94.70,106.17 L95.08,106.02 L95.46,106.13 L95.84,105.92 L96.22,105.89 L96.60,105.95 L98.12,105.85 L99.64,106.11 L101.16,105.84 L102.68,105.91 L104.20,105.72 L105.72,105.85 L107.24,105.78 L108.76,105.76 L110.28,105.62 L111.80,105.62 L113.32,105.86 L114.84,105.67 L116.36,105.61 L117.88,105.58 L119.40,105.60 L120.92,105.57 L122.44,105.48 L123.96,105.70 L125.48,105.57 L127.00,105.49 L128.52,105.68 L130.04,105.45 L131.56,105.50 L133.08,105.69 L134.60,105.43 L136.12,105.54 L137.64,105.67 L139.16,105.65 L140.68,105.41 L142.20,105.47 L143.72,105.60 L145.24,105.47 L146.76,105.67 L148.28,105.40 L149.80,105.66 L151.32,105.49 L152.84,105.39 L154.36,105.46 L155.88,105.34 L157.40,105.55 L158.92,105.38 L160.44,105.61 L161.96,105.49 L163.48,105.41 L165.00,105.36 L166.52,105.49 L168.04,105.34 L169.56,105.58 L169.94,105.31 L170.32,105.45 L170.70,105.46 L171.08,105.40 L171.46,105.62 L171.84,105.51 L172.22,105.63 L172.60,105.62 L172.98,105.55 L173.36,105.59 L173.74,105.50 L174.12,105.55 L174.50,105.81 L174.88,105.63 L175.26,105.77 L175.64,105.58 L176.02,105.76 L176.40,105.70 L176.78,105.76 L177.16,105.70 L177.54,105.63 L177.92,105.73 L178.30,105.71 L178.68,105.69 L179.06,105.91 L179.44,105.77 L179.82,105.82 L180.20,106.02 L180.58,105.98 L180.96,106.03 L181.34,106.03 L181.72,105.78 L182.10,105.84 L182.48,105.77 L182.86,106.01 L183.24,106.01 L183.62,105.91 L184.00,105.94 L184.38,106.04 L184.76,106.06 L185.14,105.91 L185.52,106.14 L185.90,105.97 L186.28,106.07 L186.66,105.92 L187.04,105.91 L187.42,106.20 L187.80,106.15 L188.18,106.15 L188.56,105.91 L188.94,105.92 L189.32,105.97 L189.70,105.99 L191.22,106.06 L192.74,106.12 L194.26,106.02 L195.78,106.14 L197.30,106.28 L198.82,106.14 L200.34,106.40 L201.86,106.32 L203.38,106.39 L204.90,106.24 L206.42,106.32 L207.94,106.43 L209.46,106.32 L210.98,106.21 L212.50,106.52 L214.02,106.51 L215.54,106.35 L217.06,106.27 L218.58,106.57 L220.10,106.49 L221.62,106.30 L223.14,106.38 L224.66,106.34 L226.18,106.59 L227.70,106.39 L229.22,106.65 L230.74,106.60 L232.26,106.37 L233.78,106.59 L235.30,106.49 L236.82,106.62 L238.34,106.65 L239.86,106.46 L241.38,106.40 L242.90,106.71 L244.42,106.52 L245.94,106.71" fill="none" stroke="#b5520f" stroke-width="2.0" stroke-linejoin="round" stroke-linecap="round"/>
<path d="M56.70,107.34 L58.22,107.36 L59.74,107.39 L61.26,107.32 L62.78,107.26 L64.30,107.11 L65.82,107.35 L66.20,107.02 L66.58,106.83 L66.96,106.78 L67.34,106.31 L67.72,106.37 L68.10,105.98 L68.48,106.13 L68.86,106.10 L69.24,105.89 L69.62,106.01 L70.00,106.22 L70.38,106.20 L70.76,106.29 L71.14,106.35 L71.52,106.47 L71.90,106.78 L72.28,107.02 L72.66,107.17 L73.04,107.21 L73.42,107.14 L74.94,107.35 L76.46,107.34 L77.98,107.12 L78.36,107.08 L78.74,107.13 L79.12,107.06 L79.50,107.20 L79.88,106.96 L80.26,106.91 L80.64,107.09 L81.02,106.80 L81.40,106.93 L81.78,106.83 L82.16,106.98 L82.54,106.87 L82.92,106.93 L83.30,106.70 L83.68,106.87 L84.06,106.83 L84.44,106.77 L84.82,106.87 L85.20,106.88 L85.58,106.61 L85.96,106.67 L86.34,106.68 L86.72,106.62 L87.10,106.56 L87.48,106.63 L87.86,106.59 L88.24,106.77 L88.62,106.67 L89.00,106.54 L89.38,106.61 L89.76,106.66 L90.14,106.61 L90.52,106.54 L90.90,106.50 L91.28,106.47 L91.66,106.82 L92.04,106.72 L92.42,106.48 L92.80,106.70 L93.18,106.79 L93.56,106.64 L93.94,106.47 L94.32,106.60 L94.70,106.58 L95.08,106.48 L95.46,106.61 L95.84,106.41 L96.22,106.73 L96.60,106.63 L98.12,106.61 L99.64,106.70 L101.16,106.59 L102.68,106.43 L104.20,106.41 L105.72,106.36 L107.24,106.31 L108.76,106.57 L110.28,106.58 L111.80,106.37 L113.32,106.32 L114.84,106.48 L116.36,106.54 L117.88,106.56 L119.40,106.28 L120.92,106.50 L122.44,106.51 L123.96,106.47 L125.48,106.31 L127.00,106.26 L128.52,106.48 L130.04,106.29 L131.56,106.30 L133.08,106.36 L134.60,106.29 L136.12,106.46 L137.64,106.24 L139.16,106.16 L140.68,106.35 L142.20,106.37 L143.72,106.43 L145.24,106.39 L146.76,106.46 L148.28,106.47 L149.80,106.30 L151.32,106.30 L152.84,106.18 L154.36,106.22 L155.88,106.32 L157.40,106.14 L158.92,106.36 L160.44,106.17 L161.96,106.27 L163.48,106.45 L165.00,106.13 L166.52,106.11 L168.04,106.26 L169.56,106.17 L169.94,106.36 L170.32,106.10 L170.70,106.40 L171.08,106.43 L171.46,106.42 L171.84,106.31 L172.22,106.27 L172.60,106.42 L172.98,106.38 L173.36,106.35 L173.74,106.33 L174.12,106.38 L174.50,106.47 L174.88,106.54 L175.26,106.57 L175.64,106.31 L176.02,106.37 L176.40,106.43 L176.78,106.48 L177.16,106.41 L177.54,106.36 L177.92,106.33 L178.30,106.42 L178.68,106.48 L179.06,106.67 L179.44,106.65 L179.82,106.64 L180.20,106.69 L180.58,106.69 L180.96,106.57 L181.34,106.65 L181.72,106.38 L182.10,106.61 L182.48,106.59 L182.86,106.49 L183.24,106.59 L183.62,106.74 L184.00,106.57 L184.38,106.64 L184.76,106.52 L185.14,106.54 L185.52,106.74 L185.90,106.43 L186.28,106.50 L186.66,106.68 L187.04,106.60 L187.42,106.47 L187.80,106.69 L188.18,106.59 L188.56,106.67 L188.94,106.61 L189.32,106.66 L189.70,106.67 L191.22,106.63 L192.74,106.55 L194.26,106.58 L195.78,106.85 L197.30,106.74 L198.82,106.60 L200.34,106.88 L201.86,106.67 L203.38,106.63 L204.90,106.79 L206.42,106.70 L207.94,106.80 L209.46,106.83 L210.98,106.72 L212.50,106.85 L214.02,106.69 L215.54,106.84 L217.06,106.88 L218.58,106.70 L220.10,106.82 L221.62,106.71 L223.14,106.84 L224.66,107.00 L226.18,106.89 L227.70,106.95 L229.22,106.97 L230.74,106.75 L232.26,107.06 L233.78,106.97 L235.30,106.75 L236.82,107.02 L238.34,106.86 L239.86,106.78 L241.38,107.07 L242.90,106.93 L244.42,107.01 L245.94,106.78" fill="none" stroke="#b5520f" stroke-width="2.0" stroke-linejoin="round" stroke-linecap="round"/>
<line x1="56.70" y1="28.00" x2="56.70" y2="115.70" stroke="#151515" stroke-width="1.15"/>
<line x1="56.10" y1="115.10" x2="249.50" y2="115.10" stroke="#151515" stroke-width="1.15"/>
<line x1="53.10" y1="115.10" x2="56.70" y2="115.10" stroke="#151515" stroke-width="1.1"/>
<text x="50.30" y="118.30" font-size="9.0" fill="#151515" stroke="#151515" text-anchor="end">-50</text>
<line x1="53.10" y1="98.45" x2="56.70" y2="98.45" stroke="#151515" stroke-width="1.1"/>
<text x="50.30" y="101.65" font-size="9.0" fill="#151515" stroke="#151515" text-anchor="end">50</text>
<line x1="53.10" y1="81.80" x2="56.70" y2="81.80" stroke="#151515" stroke-width="1.1"/>
<text x="50.30" y="85.00" font-size="9.0" fill="#151515" stroke="#151515" text-anchor="end">150</text>
<line x1="53.10" y1="65.15" x2="56.70" y2="65.15" stroke="#151515" stroke-width="1.1"/>
<text x="50.30" y="68.35" font-size="9.0" fill="#151515" stroke="#151515" text-anchor="end">250</text>
<line x1="53.10" y1="48.50" x2="56.70" y2="48.50" stroke="#151515" stroke-width="1.1"/>
<text x="50.30" y="51.70" font-size="9.0" fill="#151515" stroke="#151515" text-anchor="end">350</text>
<line x1="53.10" y1="31.85" x2="56.70" y2="31.85" stroke="#151515" stroke-width="1.1"/>
<text x="50.30" y="35.05" font-size="9.0" fill="#151515" stroke="#151515" text-anchor="end">450</text>
<line x1="56.70" y1="115.10" x2="56.70" y2="118.70" stroke="#151515" stroke-width="1.1"/>
<text x="56.70" y="129.60" font-size="9.0" fill="#151515" stroke="#151515" text-anchor="middle">0</text>
<line x1="94.70" y1="115.10" x2="94.70" y2="118.70" stroke="#151515" stroke-width="1.1"/>
<text x="94.70" y="129.60" font-size="9.0" fill="#151515" stroke="#151515" text-anchor="middle">50</text>
<line x1="132.70" y1="115.10" x2="132.70" y2="118.70" stroke="#151515" stroke-width="1.1"/>
<text x="132.70" y="129.60" font-size="9.0" fill="#151515" stroke="#151515" text-anchor="middle">100</text>
<line x1="170.70" y1="115.10" x2="170.70" y2="118.70" stroke="#151515" stroke-width="1.1"/>
<text x="170.70" y="129.60" font-size="9.0" fill="#151515" stroke="#151515" text-anchor="middle">150</text>
<line x1="208.70" y1="115.10" x2="208.70" y2="118.70" stroke="#151515" stroke-width="1.1"/>
<text x="208.70" y="129.60" font-size="9.0" fill="#151515" stroke="#151515" text-anchor="middle">200</text>
<line x1="246.70" y1="115.10" x2="246.70" y2="118.70" stroke="#151515" stroke-width="1.1"/>
<text x="246.70" y="129.60" font-size="9.0" fill="#151515" stroke="#151515" text-anchor="middle">250</text>
<text transform="translate(30.1,73.40) rotate(-90)" font-size="10.6" text-anchor="middle" fill="#151515" stroke="#151515" textLength="55.2" lengthAdjust="spacingAndGlyphs">Response units</text>
<text x="139.10" y="143.40" font-size="9.9" fill="#151515" stroke="#151515" textLength="28.8" lengthAdjust="spacingAndGlyphs">Time [s]</text>
<text x="104.2" y="27" font-size="10" fill="#151515" stroke="#151515" textLength="87.7" lengthAdjust="spacingAndGlyphs"><tspan fill="#c27a3e" stroke="#c27a3e">C3</tspan> binding to C3b</text>
<line x1="104.20" y1="28.40" x2="116.80" y2="28.40" stroke="#c27a3e" stroke-width="0.9" opacity="0.75"/>
<line x1="116.80" y1="28.40" x2="191.90" y2="28.40" stroke="#666" stroke-width="0.9"/>
<path d="M56.70,249.07 L58.17,248.81 L59.64,248.88 L61.10,248.92 L62.57,248.80 L64.04,249.00 L65.51,248.87 L65.88,248.67 L66.24,248.60 L66.61,248.29 L66.98,248.27 L67.34,248.02 L67.71,247.98 L68.08,247.77 L68.44,247.84 L68.81,247.80 L69.18,247.57 L69.55,247.84 L69.91,247.79 L70.28,248.07 L70.65,248.20 L71.01,248.44 L71.38,248.39 L71.75,248.70 L72.11,249.06 L72.48,249.13 L72.85,249.05 L74.32,248.81 L75.78,249.01 L77.25,247.55 L77.62,245.75 L77.99,243.46 L78.35,240.55 L78.72,238.00 L79.09,234.98 L79.45,231.87 L79.82,228.93 L80.19,226.18 L80.56,223.60 L80.92,220.92 L81.29,218.32 L81.66,216.02 L82.02,213.95 L82.39,212.27 L82.76,210.29 L83.12,208.82 L83.49,207.28 L83.86,206.11 L84.22,204.82 L84.59,203.67 L84.96,202.97 L85.33,201.99 L85.69,201.26 L86.06,200.60 L86.43,200.00 L86.79,199.08 L87.16,198.66 L87.53,198.09 L87.90,197.76 L88.26,197.46 L88.63,197.03 L89.00,196.37 L89.36,196.06 L89.73,195.94 L90.10,195.56 L90.46,195.13 L90.83,194.85 L91.20,194.44 L91.56,194.40 L91.93,193.95 L92.30,193.85 L92.67,193.48 L93.03,193.03 L93.40,192.86 L93.77,192.57 L94.13,192.56 L94.50,192.21 L94.87,191.78 L95.23,191.59 L96.70,190.76 L98.17,189.96 L99.64,189.23 L101.11,188.43 L102.58,187.75 L104.04,186.99 L105.51,186.61 L106.98,185.97 L108.45,185.35 L109.91,185.03 L111.38,184.78 L112.85,184.03 L114.32,183.68 L115.79,183.51 L117.25,183.03 L118.72,182.71 L120.19,182.50 L121.66,182.15 L123.13,182.00 L124.59,181.75 L126.06,181.69 L127.53,181.49 L129.00,180.96 L130.47,180.97 L131.94,180.88 L133.40,180.76 L134.87,180.58 L136.34,180.39 L137.81,180.27 L139.28,180.05 L140.74,179.91 L142.21,179.99 L143.68,179.93 L145.15,179.86 L146.62,179.69 L148.08,179.47 L149.55,179.57 L151.02,179.49 L152.49,179.35 L153.95,179.33 L155.42,179.18 L156.89,179.20 L158.36,179.10 L159.83,178.93 L161.30,178.99 L162.76,178.95 L164.23,179.15 L164.60,178.96 L164.97,178.91 L165.33,178.86 L165.70,181.38 L166.07,183.62 L166.43,185.50 L166.80,187.24 L167.17,189.19 L167.53,190.57 L167.90,192.01 L168.27,193.42 L168.63,194.62 L169.00,195.81 L169.37,196.97 L169.74,198.20 L170.10,199.30 L170.47,200.51 L170.84,201.47 L171.20,202.60 L171.57,203.33 L171.94,204.46 L172.31,205.22 L172.67,205.90 L173.04,206.76 L173.41,207.70 L173.77,208.61 L174.14,209.13 L174.51,210.00 L174.87,210.56 L175.24,211.39 L175.61,211.75 L175.97,212.52 L176.34,213.27 L176.71,213.63 L177.08,214.18 L177.44,214.64 L177.81,215.21 L178.18,215.76 L178.54,216.40 L178.91,216.70 L179.28,217.22 L179.64,217.58 L180.01,218.15 L180.38,218.66 L180.75,218.97 L181.11,219.19 L181.48,219.76 L181.85,220.19 L182.21,220.41 L182.58,220.55 L182.95,221.13 L183.31,221.47 L183.68,221.57 L185.15,222.60 L186.62,223.57 L188.09,224.52 L189.55,225.36 L191.02,225.90 L192.49,226.55 L193.96,226.77 L195.43,227.22 L196.89,227.73 L198.36,228.00 L199.83,228.19 L201.30,228.52 L202.77,228.60 L204.23,228.68 L205.70,228.96 L207.17,228.96 L208.64,229.29 L210.11,229.28 L211.57,229.43 L213.04,229.54 L214.51,229.49 L215.98,229.62 L217.45,229.51 L218.91,229.88 L220.38,229.79 L221.85,229.97 L223.32,229.67 L224.79,229.89 L226.25,229.96 L227.72,229.83 L229.19,229.76 L230.66,229.80 L232.13,229.81 L233.59,230.04 L235.06,229.81 L236.53,230.08 L238.00,229.94 L239.47,229.99" fill="none" stroke="#c31414" stroke-width="2.1" stroke-linejoin="round" stroke-linecap="round"/>
<path d="M56.70,249.00 L58.17,248.99 L59.64,249.03 L61.10,249.01 L62.57,248.91 L64.04,249.06 L65.51,248.88 L65.88,248.82 L66.24,248.62 L66.61,248.42 L66.98,248.07 L67.34,248.07 L67.71,248.02 L68.08,247.73 L68.44,247.61 L68.81,247.68 L69.18,247.85 L69.55,247.62 L69.91,247.67 L70.28,247.97 L70.65,248.19 L71.01,248.42 L71.38,248.48 L71.75,248.92 L72.11,248.87 L72.48,249.06 L72.85,248.82 L74.32,248.80 L75.78,248.84 L77.25,247.56 L77.62,245.80 L77.99,243.47 L78.35,240.72 L78.72,238.21 L79.09,235.12 L79.45,232.15 L79.82,229.29 L80.19,226.71 L80.56,224.10 L80.92,221.28 L81.29,218.85 L81.66,216.89 L82.02,214.64 L82.39,213.01 L82.76,211.11 L83.12,209.59 L83.49,208.06 L83.86,206.94 L84.22,205.66 L84.59,204.56 L84.96,203.83 L85.33,202.70 L85.69,202.15 L86.06,201.22 L86.43,200.80 L86.79,200.13 L87.16,199.77 L87.53,198.99 L87.90,198.72 L88.26,198.24 L88.63,198.02 L89.00,197.66 L89.36,197.19 L89.73,196.70 L90.10,196.38 L90.46,196.07 L90.83,195.83 L91.20,195.47 L91.56,195.17 L91.93,195.09 L92.30,194.78 L92.67,194.39 L93.03,194.38 L93.40,193.85 L93.77,193.73 L94.13,193.34 L94.50,193.35 L94.87,193.12 L95.23,192.67 L96.70,191.97 L98.17,191.18 L99.64,190.22 L101.11,189.52 L102.58,188.92 L104.04,188.44 L105.51,187.60 L106.98,187.25 L108.45,186.72 L109.91,186.20 L111.38,185.81 L112.85,185.52 L114.32,184.89 L115.79,184.78 L117.25,184.27 L118.72,184.11 L120.19,183.85 L121.66,183.34 L123.13,183.34 L124.59,183.15 L126.06,182.69 L127.53,182.39 L129.00,182.23 L130.47,182.36 L131.94,181.85 L133.40,182.03 L134.87,181.61 L136.34,181.69 L137.81,181.33 L139.28,181.24 L140.74,181.32 L142.21,181.01 L143.68,181.01 L145.15,181.13 L146.62,180.97 L148.08,180.96 L149.55,180.92 L151.02,180.51 L152.49,180.53 L153.95,180.67 L155.42,180.58 L156.89,180.29 L158.36,180.42 L159.83,180.27 L161.30,180.31 L162.76,180.15 L164.23,180.09 L164.60,180.43 L164.97,180.18 L165.33,180.37 L165.70,182.57 L166.07,184.86 L166.43,186.66 L166.80,188.51 L167.17,190.03 L167.53,191.72 L167.90,192.94 L168.27,194.49 L168.63,195.68 L169.00,196.76 L169.37,198.02 L169.74,199.19 L170.10,200.42 L170.47,201.26 L170.84,202.21 L171.20,203.45 L171.57,204.35 L171.94,205.20 L172.31,205.90 L172.67,206.71 L173.04,207.55 L173.41,208.26 L173.77,209.00 L174.14,209.90 L174.51,210.57 L174.87,211.30 L175.24,211.88 L175.61,212.39 L175.97,213.25 L176.34,213.82 L176.71,214.35 L177.08,214.91 L177.44,215.49 L177.81,216.11 L178.18,216.56 L178.54,216.99 L178.91,217.33 L179.28,217.75 L179.64,218.22 L180.01,218.83 L180.38,219.02 L180.75,219.41 L181.11,219.79 L181.48,220.06 L181.85,220.72 L182.21,220.70 L182.58,221.24 L182.95,221.67 L183.31,221.73 L183.68,222.15 L185.15,223.14 L186.62,224.03 L188.09,224.82 L189.55,225.50 L191.02,226.38 L192.49,226.89 L193.96,227.40 L195.43,227.49 L196.89,228.08 L198.36,228.25 L199.83,228.63 L201.30,228.82 L202.77,228.94 L204.23,229.35 L205.70,229.15 L207.17,229.55 L208.64,229.71 L210.11,229.68 L211.57,229.80 L213.04,230.02 L214.51,229.81 L215.98,230.01 L217.45,230.10 L218.91,230.01 L220.38,230.17 L221.85,230.09 L223.32,230.16 L224.79,230.22 L226.25,230.26 L227.72,230.15 L229.19,230.28 L230.66,230.26 L232.13,230.16 L233.59,230.31 L235.06,230.19 L236.53,230.43 L238.00,230.28 L239.47,230.38" fill="none" stroke="#c31414" stroke-width="2.1" stroke-linejoin="round" stroke-linecap="round"/>
<path d="M56.70,248.98 L58.17,248.96 L59.64,248.87 L61.10,248.84 L62.57,249.12 L64.04,248.98 L65.51,248.98 L65.88,248.75 L66.24,248.64 L66.61,248.23 L66.98,248.02 L67.34,248.09 L67.71,247.83 L68.08,247.80 L68.44,247.81 L68.81,247.81 L69.18,247.82 L69.55,247.58 L69.91,247.80 L70.28,248.09 L70.65,248.25 L71.01,248.18 L71.38,248.40 L71.75,248.65 L72.11,248.83 L72.48,248.92 L72.85,249.08 L74.32,248.98 L75.78,248.95 L77.25,248.03 L77.62,246.91 L77.99,245.64 L78.35,243.87 L78.72,242.01 L79.09,240.19 L79.45,238.47 L79.82,236.63 L80.19,234.64 L80.56,233.13 L80.92,231.40 L81.29,229.94 L81.66,228.42 L82.02,227.16 L82.39,225.95 L82.76,224.87 L83.12,223.74 L83.49,222.90 L83.86,222.22 L84.22,221.29 L84.59,220.67 L84.96,220.27 L85.33,219.57 L85.69,219.10 L86.06,218.63 L86.43,218.44 L86.79,217.81 L87.16,217.67 L87.53,217.44 L87.90,216.91 L88.26,216.72 L88.63,216.60 L89.00,216.30 L89.36,215.99 L89.73,215.65 L90.10,215.59 L90.46,215.36 L90.83,215.29 L91.20,214.95 L91.56,214.81 L91.93,214.72 L92.30,214.61 L92.67,214.28 L93.03,214.12 L93.40,214.03 L93.77,214.00 L94.13,213.58 L94.50,213.71 L94.87,213.47 L95.23,213.20 L96.70,212.75 L98.17,212.11 L99.64,211.53 L101.11,211.32 L102.58,210.76 L104.04,210.42 L105.51,210.05 L106.98,209.85 L108.45,209.48 L109.91,208.92 L111.38,208.85 L112.85,208.54 L114.32,208.30 L115.79,208.21 L117.25,207.85 L118.72,207.68 L120.19,207.65 L121.66,207.31 L123.13,207.17 L124.59,207.03 L126.06,207.01 L127.53,206.83 L129.00,206.73 L130.47,206.50 L131.94,206.26 L133.40,206.40 L134.87,206.26 L136.34,206.25 L137.81,206.18 L139.28,205.87 L140.74,205.84 L142.21,205.72 L143.68,205.93 L145.15,205.62 L146.62,205.56 L148.08,205.75 L149.55,205.64 L151.02,205.41 L152.49,205.60 L153.95,205.57 L155.42,205.46 L156.89,205.27 L158.36,205.47 L159.83,205.34 L161.30,205.38 L162.76,205.50 L164.23,205.42 L164.60,205.43 L164.97,205.16 L165.33,205.23 L165.70,206.97 L166.07,208.24 L166.43,209.89 L166.80,210.81 L167.17,211.89 L167.53,212.92 L167.90,213.84 L168.27,214.95 L168.63,215.69 L169.00,216.48 L169.37,217.22 L169.74,217.82 L170.10,218.61 L170.47,219.49 L170.84,220.12 L171.20,220.76 L171.57,221.14 L171.94,221.69 L172.31,222.18 L172.67,222.89 L173.04,223.34 L173.41,223.86 L173.77,224.33 L174.14,224.82 L174.51,225.17 L174.87,225.74 L175.24,225.92 L175.61,226.57 L175.97,226.80 L176.34,226.97 L176.71,227.41 L177.08,227.81 L177.44,228.08 L177.81,228.44 L178.18,228.64 L178.54,228.90 L178.91,229.36 L179.28,229.43 L179.64,229.83 L180.01,230.10 L180.38,230.25 L180.75,230.42 L181.11,230.81 L181.48,230.83 L181.85,231.18 L182.21,231.07 L182.58,231.39 L182.95,231.63 L183.31,231.59 L183.68,232.04 L185.15,232.33 L186.62,233.01 L188.09,233.28 L189.55,233.90 L191.02,234.07 L192.49,234.42 L193.96,234.53 L195.43,234.78 L196.89,234.94 L198.36,234.94 L199.83,235.03 L201.30,235.35 L202.77,235.19 L204.23,235.54 L205.70,235.34 L207.17,235.36 L208.64,235.40 L210.11,235.68 L211.57,235.78 L213.04,235.61 L214.51,235.72 L215.98,235.60 L217.45,235.85 L218.91,235.78 L220.38,235.61 L221.85,235.58 L223.32,235.82 L224.79,235.59 L226.25,235.88 L227.72,235.69 L229.19,235.68 L230.66,235.81 L232.13,235.72 L233.59,235.81 L235.06,235.66 L236.53,235.94 L238.00,235.73 L239.47,235.91" fill="none" stroke="#c31414" stroke-width="2.0" stroke-linejoin="round" stroke-linecap="round"/>
<path d="M56.70,248.84 L58.17,249.08 L59.64,249.14 L61.10,248.93 L62.57,248.80 L64.04,248.93 L65.51,249.02 L65.88,248.64 L66.24,248.54 L66.61,248.17 L66.98,248.12 L67.34,248.06 L67.71,247.82 L68.08,247.81 L68.44,247.55 L68.81,247.79 L69.18,247.55 L69.55,247.90 L69.91,248.02 L70.28,248.13 L70.65,248.14 L71.01,248.24 L71.38,248.47 L71.75,248.83 L72.11,248.97 L72.48,249.12 L72.85,248.82 L74.32,248.96 L75.78,249.10 L77.25,248.45 L77.62,247.62 L77.99,246.48 L78.35,245.42 L78.72,244.32 L79.09,243.37 L79.45,242.17 L79.82,240.77 L80.19,239.89 L80.56,238.47 L80.92,237.63 L81.29,236.78 L81.66,235.64 L82.02,235.00 L82.39,234.11 L82.76,233.17 L83.12,232.61 L83.49,232.05 L83.86,231.43 L84.22,231.11 L84.59,230.45 L84.96,230.26 L85.33,229.71 L85.69,229.28 L86.06,229.15 L86.43,228.69 L86.79,228.59 L87.16,228.42 L87.53,228.12 L87.90,227.86 L88.26,227.50 L88.63,227.48 L89.00,227.15 L89.36,227.17 L89.73,226.81 L90.10,226.81 L90.46,226.57 L90.83,226.42 L91.20,226.38 L91.56,226.06 L91.93,225.92 L92.30,226.06 L92.67,225.70 L93.03,225.75 L93.40,225.63 L93.77,225.36 L94.13,225.12 L94.50,224.98 L94.87,225.14 L95.23,224.75 L96.70,224.43 L98.17,224.03 L99.64,223.49 L101.11,223.25 L102.58,222.80 L104.04,222.61 L105.51,222.31 L106.98,221.98 L108.45,221.66 L109.91,221.50 L111.38,221.20 L112.85,220.96 L114.32,220.81 L115.79,220.86 L117.25,220.55 L118.72,220.54 L120.19,220.07 L121.66,220.27 L123.13,219.98 L124.59,219.97 L126.06,219.78 L127.53,219.72 L129.00,219.46 L130.47,219.55 L131.94,219.25 L133.40,219.22 L134.87,219.06 L136.34,219.12 L137.81,219.10 L139.28,218.96 L140.74,219.12 L142.21,218.78 L143.68,218.91 L145.15,218.74 L146.62,218.83 L148.08,218.86 L149.55,218.80 L151.02,218.53 L152.49,218.56 L153.95,218.66 L155.42,218.77 L156.89,218.41 L158.36,218.59 L159.83,218.60 L161.30,218.62 L162.76,218.43 L164.23,218.58 L164.60,218.45 L164.97,218.61 L165.33,218.28 L165.70,219.67 L166.07,220.39 L166.43,221.20 L166.80,221.82 L167.17,222.55 L167.53,223.35 L167.90,223.92 L168.27,224.29 L168.63,224.89 L169.00,225.32 L169.37,225.83 L169.74,226.30 L170.10,226.79 L170.47,227.46 L170.84,227.88 L171.20,228.21 L171.57,228.48 L171.94,228.86 L172.31,229.32 L172.67,229.72 L173.04,230.00 L173.41,230.28 L173.77,230.44 L174.14,230.89 L174.51,231.26 L174.87,231.52 L175.24,231.55 L175.61,232.03 L175.97,232.16 L176.34,232.33 L176.71,232.86 L177.08,232.98 L177.44,233.23 L177.81,233.22 L178.18,233.68 L178.54,233.92 L178.91,234.10 L179.28,234.22 L179.64,234.43 L180.01,234.60 L180.38,234.69 L180.75,234.79 L181.11,235.09 L181.48,235.22 L181.85,235.40 L182.21,235.33 L182.58,235.71 L182.95,235.68 L183.31,235.96 L183.68,235.78 L185.15,236.53 L186.62,236.86 L188.09,237.00 L189.55,237.50 L191.02,237.54 L192.49,237.75 L193.96,238.04 L195.43,238.12 L196.89,238.36 L198.36,238.64 L199.83,238.67 L201.30,238.77 L202.77,238.74 L204.23,238.96 L205.70,239.02 L207.17,239.04 L208.64,239.18 L210.11,239.18 L211.57,239.06 L213.04,238.98 L214.51,239.21 L215.98,239.30 L217.45,239.14 L218.91,239.25 L220.38,239.35 L221.85,239.35 L223.32,239.08 L224.79,239.26 L226.25,239.10 L227.72,239.14 L229.19,239.40 L230.66,239.27 L232.13,239.34 L233.59,239.29 L235.06,239.25 L236.53,239.21 L238.00,239.26 L239.47,239.44" fill="none" stroke="#c31414" stroke-width="2.0" stroke-linejoin="round" stroke-linecap="round"/>
<path d="M56.70,249.01 L58.17,248.90 L59.64,248.82 L61.10,248.89 L62.57,249.04 L64.04,248.95 L65.51,249.03 L65.88,248.85 L66.24,248.39 L66.61,248.39 L66.98,247.97 L67.34,248.09 L67.71,247.73 L68.08,247.67 L68.44,247.85 L68.81,247.62 L69.18,247.59 L69.55,247.89 L69.91,247.88 L70.28,248.12 L70.65,248.10 L71.01,248.32 L71.38,248.69 L71.75,248.75 L72.11,249.15 L72.48,248.86 L72.85,249.09 L74.32,248.85 L75.78,248.98 L77.25,247.52 L77.62,246.48 L77.99,245.79 L78.35,244.77 L78.72,244.15 L79.09,243.29 L79.45,242.75 L79.82,242.15 L80.19,241.86 L80.56,241.57 L80.92,241.08 L81.29,240.71 L81.66,240.62 L82.02,240.34 L82.39,240.02 L82.76,239.59 L83.12,239.59 L83.49,239.34 L83.86,239.35 L84.22,238.98 L84.59,238.94 L84.96,238.79 L85.33,238.57 L85.69,238.50 L86.06,238.44 L86.43,238.41 L86.79,238.15 L87.16,238.00 L87.53,238.13 L87.90,237.70 L88.26,237.89 L88.63,237.75 L89.00,237.62 L89.36,237.50 L89.73,237.52 L90.10,237.50 L90.46,237.36 L90.83,237.29 L91.20,236.96 L91.56,237.00 L91.93,236.86 L92.30,237.08 L92.67,237.00 L93.03,236.66 L93.40,236.76 L93.77,236.69 L94.13,236.43 L94.50,236.50 L94.87,236.56 L95.23,236.47 L96.70,236.11 L98.17,236.07 L99.64,235.70 L101.11,235.60 L102.58,235.38 L104.04,235.41 L105.51,235.13 L106.98,235.04 L108.45,234.85 L109.91,234.62 L111.38,234.70 L112.85,234.49 L114.32,234.38 L115.79,234.12 L117.25,233.99 L118.72,234.04 L120.19,234.05 L121.66,233.95 L123.13,233.72 L124.59,233.57 L126.06,233.64 L127.53,233.70 L129.00,233.38 L130.47,233.53 L131.94,233.28 L133.40,233.28 L134.87,233.14 L136.34,233.18 L137.81,233.17 L139.28,233.34 L140.74,233.30 L142.21,232.98 L143.68,233.00 L145.15,233.19 L146.62,232.89 L148.08,232.91 L149.55,232.93 L151.02,232.78 L152.49,232.82 L153.95,232.84 L155.42,232.82 L156.89,233.01 L158.36,232.74 L159.83,232.70 L161.30,232.94 L162.76,232.76 L164.23,232.88 L164.60,232.81 L164.97,232.85 L165.33,232.68 L165.70,233.19 L166.07,233.91 L166.43,234.24 L166.80,234.68 L167.17,235.08 L167.53,235.45 L167.90,235.60 L168.27,235.94 L168.63,236.43 L169.00,236.57 L169.37,236.75 L169.74,237.13 L170.10,237.24 L170.47,237.66 L170.84,237.62 L171.20,238.13 L171.57,238.24 L171.94,238.37 L172.31,238.78 L172.67,238.73 L173.04,238.90 L173.41,239.02 L173.77,239.36 L174.14,239.60 L174.51,239.73 L174.87,239.79 L175.24,240.08 L175.61,239.98 L175.97,240.19 L176.34,240.44 L176.71,240.69 L177.08,240.69 L177.44,240.83 L177.81,240.98 L178.18,240.96 L178.54,241.26 L178.91,241.29 L179.28,241.25 L179.64,241.37 L180.01,241.61 L180.38,241.54 L180.75,241.57 L181.11,241.90 L181.48,241.86 L181.85,241.93 L182.21,242.06 L182.58,242.22 L182.95,242.02 L183.31,242.16 L183.68,242.13 L185.15,242.50 L186.62,242.74 L188.09,243.05 L189.55,243.14 L191.02,243.25 L192.49,243.31 L193.96,243.48 L195.43,243.46 L196.89,243.75 L198.36,243.80 L199.83,243.87 L201.30,243.68 L202.77,243.91 L204.23,243.98 L205.70,243.92 L207.17,244.10 L208.64,244.12 L210.11,244.09 L211.57,244.14 L213.04,244.09 L214.51,244.19 L215.98,243.93 L217.45,244.15 L218.91,244.16 L220.38,244.14 L221.85,244.02 L223.32,243.95 L224.79,244.15 L226.25,244.24 L227.72,244.04 L229.19,244.02 L230.66,244.03 L232.13,243.99 L233.59,244.20 L235.06,244.31 L236.53,244.25 L238.00,244.09 L239.47,244.21" fill="none" stroke="#c31414" stroke-width="2.0" stroke-linejoin="round" stroke-linecap="round"/>
<path d="M56.70,248.82 L58.17,249.09 L59.64,248.91 L61.10,248.79 L62.57,249.02 L64.04,248.84 L65.51,248.89 L65.88,248.59 L66.24,248.51 L66.61,248.34 L66.98,248.25 L67.34,247.81 L67.71,247.96 L68.08,247.61 L68.44,247.59 L68.81,247.72 L69.18,247.63 L69.55,247.69 L69.91,247.87 L70.28,247.87 L70.65,248.24 L71.01,248.22 L71.38,248.65 L71.75,248.86 L72.11,248.98 L72.48,248.80 L72.85,249.07 L74.32,248.80 L75.78,248.97 L77.25,248.04 L77.62,247.12 L77.99,246.64 L78.35,246.07 L78.72,245.48 L79.09,244.95 L79.45,244.58 L79.82,244.24 L80.19,243.79 L80.56,243.73 L80.92,243.52 L81.29,243.22 L81.66,243.07 L82.02,242.66 L82.39,242.72 L82.76,242.24 L83.12,242.24 L83.49,241.98 L83.86,241.98 L84.22,241.95 L84.59,241.85 L84.96,241.66 L85.33,241.53 L85.69,241.39 L86.06,241.38 L86.43,241.26 L86.79,241.15 L87.16,241.27 L87.53,241.12 L87.90,241.03 L88.26,240.88 L88.63,241.00 L89.00,240.75 L89.36,240.72 L89.73,240.77 L90.10,240.76 L90.46,240.81 L90.83,240.67 L91.20,240.69 L91.56,240.63 L91.93,240.51 L92.30,240.46 L92.67,240.18 L93.03,240.18 L93.40,240.06 L93.77,240.33 L94.13,240.23 L94.50,240.15 L94.87,239.98 L95.23,239.97 L96.70,239.74 L98.17,239.75 L99.64,239.74 L101.11,239.36 L102.58,239.14 L104.04,239.06 L105.51,239.02 L106.98,239.11 L108.45,238.97 L109.91,238.75 L111.38,238.54 L112.85,238.45 L114.32,238.39 L115.79,238.54 L117.25,238.36 L118.72,238.49 L120.19,238.40 L121.66,238.30 L123.13,238.13 L124.59,238.20 L126.06,237.90 L127.53,237.85 L129.00,237.97 L130.47,237.91 L131.94,237.76 L133.40,237.74 L134.87,237.62 L136.34,237.91 L137.81,237.81 L139.28,237.87 L140.74,237.85 L142.21,237.63 L143.68,237.71 L145.15,237.57 L146.62,237.70 L148.08,237.69 L149.55,237.42 L151.02,237.36 L152.49,237.41 L153.95,237.53 L155.42,237.44 L156.89,237.30 L158.36,237.58 L159.83,237.55 L161.30,237.42 L162.76,237.26 L164.23,237.55 L164.60,237.42 L164.97,237.25 L165.33,237.34 L165.70,237.87 L166.07,238.32 L166.43,238.50 L166.80,238.84 L167.17,238.96 L167.53,239.22 L167.90,239.69 L168.27,239.73 L168.63,239.84 L169.00,240.22 L169.37,240.25 L169.74,240.46 L170.10,240.73 L170.47,240.95 L170.84,241.14 L171.20,241.33 L171.57,241.38 L171.94,241.40 L172.31,241.78 L172.67,241.68 L173.04,241.96 L173.41,242.07 L173.77,242.29 L174.14,242.43 L174.51,242.38 L174.87,242.64 L175.24,242.76 L175.61,242.79 L175.97,242.77 L176.34,243.14 L176.71,243.13 L177.08,243.03 L177.44,243.18 L177.81,243.53 L178.18,243.34 L178.54,243.48 L178.91,243.70 L179.28,243.79 L179.64,243.79 L180.01,243.90 L180.38,243.71 L180.75,243.80 L181.11,244.18 L181.48,244.18 L181.85,243.96 L182.21,244.02 L182.58,244.14 L182.95,244.44 L183.31,244.24 L183.68,244.45 L185.15,244.72 L186.62,244.77 L188.09,245.01 L189.55,244.89 L191.02,244.95 L192.49,244.99 L193.96,245.34 L195.43,245.17 L196.89,245.54 L198.36,245.50 L199.83,245.35 L201.30,245.61 L202.77,245.41 L204.23,245.57 L205.70,245.45 L207.17,245.72 L208.64,245.77 L210.11,245.80 L211.57,245.48 L213.04,245.80 L214.51,245.71 L215.98,245.81 L217.45,245.70 L218.91,245.75 L220.38,245.75 L221.85,245.83 L223.32,245.57 L224.79,245.57 L226.25,245.75 L227.72,245.66 L229.19,245.70 L230.66,245.57 L232.13,245.83 L233.59,245.57 L235.06,245.87 L236.53,245.86 L238.00,245.74 L239.47,245.62" fill="none" stroke="#c31414" stroke-width="2.0" stroke-linejoin="round" stroke-linecap="round"/>
<path d="M56.70,249.02 L58.17,248.86 L59.64,248.94 L61.10,248.83 L62.57,249.14 L64.04,248.99 L65.51,248.92 L65.88,248.60 L66.24,248.61 L66.61,248.45 L66.98,248.26 L67.34,247.83 L67.71,247.80 L68.08,247.68 L68.44,247.78 L68.81,247.54 L69.18,247.73 L69.55,247.92 L69.91,247.94 L70.28,247.80 L70.65,247.98 L71.01,248.18 L71.38,248.59 L71.75,248.78 L72.11,248.98 L72.48,248.95 L72.85,248.94 L74.32,249.01 L75.78,249.02 L77.25,248.50 L77.62,247.90 L77.99,247.46 L78.35,247.09 L78.72,246.70 L79.09,246.34 L79.45,245.81 L79.82,245.80 L80.19,245.64 L80.56,245.29 L80.92,245.28 L81.29,244.87 L81.66,245.00 L82.02,244.69 L82.39,244.67 L82.76,244.40 L83.12,244.32 L83.49,244.25 L83.86,244.16 L84.22,244.00 L84.59,244.05 L84.96,244.18 L85.33,244.00 L85.69,244.04 L86.06,243.92 L86.43,243.90 L86.79,243.90 L87.16,243.76 L87.53,243.54 L87.90,243.49 L88.26,243.51 L88.63,243.32 L89.00,243.36 L89.36,243.55 L89.73,243.53 L90.10,243.27 L90.46,243.40 L90.83,243.36 L91.20,243.37 L91.56,243.30 L91.93,243.17 L92.30,242.98 L92.67,243.21 L93.03,242.99 L93.40,243.07 L93.77,242.95 L94.13,242.98 L94.50,243.11 L94.87,242.79 L95.23,242.89 L96.70,242.82 L98.17,242.68 L99.64,242.72 L101.11,242.44 L102.58,242.54 L104.04,242.38 L105.51,242.40 L106.98,242.01 L108.45,241.99 L109.91,241.95 L111.38,242.11 L112.85,241.74 L114.32,241.77 L115.79,241.88 L117.25,241.94 L118.72,241.60 L120.19,241.65 L121.66,241.70 L123.13,241.66 L124.59,241.65 L126.06,241.62 L127.53,241.41 L129.00,241.38 L130.47,241.27 L131.94,241.48 L133.40,241.28 L134.87,241.28 L136.34,241.51 L137.81,241.38 L139.28,241.34 L140.74,241.34 L142.21,241.30 L143.68,241.32 L145.15,241.17 L146.62,241.07 L148.08,241.05 L149.55,241.02 L151.02,241.14 L152.49,241.05 L153.95,241.02 L155.42,241.15 L156.89,241.31 L158.36,241.20 L159.83,241.05 L161.30,241.22 L162.76,241.00 L164.23,240.96 L164.60,241.03 L164.97,241.07 L165.33,241.17 L165.70,241.36 L166.07,241.71 L166.43,241.69 L166.80,242.19 L167.17,242.16 L167.53,242.51 L167.90,242.38 L168.27,242.81 L168.63,242.74 L169.00,243.10 L169.37,243.21 L169.74,243.29 L170.10,243.27 L170.47,243.29 L170.84,243.47 L171.20,243.84 L171.57,243.67 L171.94,243.95 L172.31,244.02 L172.67,244.14 L173.04,244.06 L173.41,244.14 L173.77,244.20 L174.14,244.60 L174.51,244.47 L174.87,244.64 L175.24,244.68 L175.61,244.63 L175.97,244.64 L176.34,244.69 L176.71,245.06 L177.08,244.86 L177.44,245.22 L177.81,245.06 L178.18,245.24 L178.54,245.09 L178.91,245.37 L179.28,245.23 L179.64,245.32 L180.01,245.42 L180.38,245.32 L180.75,245.41 L181.11,245.65 L181.48,245.51 L181.85,245.58 L182.21,245.76 L182.58,245.60 L182.95,245.62 L183.31,245.67 L183.68,245.76 L185.15,245.87 L186.62,246.08 L188.09,246.11 L189.55,246.33 L191.02,246.10 L192.49,246.38 L193.96,246.50 L195.43,246.33 L196.89,246.29 L198.36,246.47 L199.83,246.39 L201.30,246.54 L202.77,246.65 L204.23,246.45 L205.70,246.47 L207.17,246.62 L208.64,246.52 L210.11,246.55 L211.57,246.64 L213.04,246.53 L214.51,246.52 L215.98,246.63 L217.45,246.67 L218.91,246.85 L220.38,246.71 L221.85,246.54 L223.32,246.60 L224.79,246.79 L226.25,246.73 L227.72,246.84 L229.19,246.88 L230.66,246.84 L232.13,246.57 L233.59,246.87 L235.06,246.72 L236.53,246.62 L238.00,246.60 L239.47,246.85" fill="none" stroke="#c31414" stroke-width="2.0" stroke-linejoin="round" stroke-linecap="round"/>
<path d="M56.70,248.87 L58.17,248.82 L59.64,248.89 L61.10,249.12 L62.57,248.96 L64.04,249.05 L65.51,248.82 L65.88,248.73 L66.24,248.46 L66.61,248.21 L66.98,248.19 L67.34,247.92 L67.71,247.71 L68.08,247.92 L68.44,247.68 L68.81,247.55 L69.18,247.51 L69.55,247.80 L69.91,247.85 L70.28,247.80 L70.65,248.12 L71.01,248.41 L71.38,248.54 L71.75,248.65 L72.11,248.97 L72.48,249.01 L72.85,249.02 L74.32,248.84 L75.78,249.08 L77.25,248.74 L77.62,248.33 L77.99,248.07 L78.35,247.64 L78.72,247.60 L79.09,247.14 L79.45,246.98 L79.82,246.96 L80.19,246.93 L80.56,246.51 L80.92,246.45 L81.29,246.28 L81.66,246.34 L82.02,246.15 L82.39,246.09 L82.76,246.23 L83.12,246.11 L83.49,246.18 L83.86,245.93 L84.22,245.98 L84.59,245.70 L84.96,245.99 L85.33,245.69 L85.69,245.74 L86.06,245.72 L86.43,245.84 L86.79,245.65 L87.16,245.80 L87.53,245.63 L87.90,245.46 L88.26,245.65 L88.63,245.40 L89.00,245.66 L89.36,245.44 L89.73,245.33 L90.10,245.57 L90.46,245.32 L90.83,245.33 L91.20,245.28 L91.56,245.38 L91.93,245.12 L92.30,245.23 L92.67,245.13 L93.03,245.35 L93.40,245.03 L93.77,245.23 L94.13,245.09 L94.50,245.14 L94.87,245.16 L95.23,245.19 L96.70,244.92 L98.17,244.89 L99.64,244.78 L101.11,245.03 L102.58,244.68 L104.04,244.62 L105.51,244.71 L106.98,244.69 L108.45,244.76 L109.91,244.42 L111.38,244.44 L112.85,244.38 L114.32,244.50 L115.79,244.42 L117.25,244.38 L118.72,244.52 L120.19,244.41 L121.66,244.46 L123.13,244.47 L124.59,244.20 L126.06,244.42 L127.53,244.21 L129.00,244.06 L130.47,244.36 L131.94,244.05 L133.40,244.00 L134.87,244.08 L136.34,244.07 L137.81,244.30 L139.28,244.25 L140.74,244.08 L142.21,244.11 L143.68,244.21 L145.15,244.19 L146.62,244.12 L148.08,244.07 L149.55,243.91 L151.02,243.95 L152.49,244.10 L153.95,244.06 L155.42,244.13 L156.89,244.16 L158.36,244.18 L159.83,243.90 L161.30,243.85 L162.76,244.14 L164.23,244.02 L164.60,243.88 L164.97,244.06 L165.33,243.90 L165.70,244.07 L166.07,244.27 L166.43,244.47 L166.80,244.64 L167.17,244.54 L167.53,244.89 L167.90,244.94 L168.27,244.98 L168.63,245.15 L169.00,245.28 L169.37,245.08 L169.74,245.32 L170.10,245.47 L170.47,245.56 L170.84,245.60 L171.20,245.50 L171.57,245.85 L171.94,245.85 L172.31,245.71 L172.67,245.84 L173.04,246.09 L173.41,245.88 L173.77,246.00 L174.14,246.25 L174.51,246.28 L174.87,246.09 L175.24,246.31 L175.61,246.22 L175.97,246.38 L176.34,246.45 L176.71,246.26 L177.08,246.34 L177.44,246.37 L177.81,246.43 L178.18,246.38 L178.54,246.45 L178.91,246.58 L179.28,246.61 L179.64,246.52 L180.01,246.73 L180.38,246.89 L180.75,246.79 L181.11,246.73 L181.48,246.88 L181.85,246.81 L182.21,246.74 L182.58,246.87 L182.95,246.73 L183.31,246.99 L183.68,246.82 L185.15,246.97 L186.62,247.25 L188.09,247.24 L189.55,247.31 L191.02,247.29 L192.49,247.32 L193.96,247.38 L195.43,247.50 L196.89,247.25 L198.36,247.48 L199.83,247.33 L201.30,247.33 L202.77,247.55 L204.23,247.48 L205.70,247.58 L207.17,247.60 L208.64,247.50 L210.11,247.37 L211.57,247.31 L213.04,247.50 L214.51,247.58 L215.98,247.42 L217.45,247.35 L218.91,247.33 L220.38,247.39 L221.85,247.58 L223.32,247.33 L224.79,247.42 L226.25,247.43 L227.72,247.59 L229.19,247.69 L230.66,247.34 L232.13,247.38 L233.59,247.68 L235.06,247.69 L236.53,247.39 L238.00,247.46 L239.47,247.53" fill="none" stroke="#c31414" stroke-width="2.0" stroke-linejoin="round" stroke-linecap="round"/>
<path d="M56.70,248.91 L58.17,248.94 L59.64,248.96 L61.10,248.88 L62.57,248.81 L64.04,248.82 L65.51,248.85 L65.88,248.60 L66.24,248.57 L66.61,248.39 L66.98,248.05 L67.34,248.08 L67.71,247.93 L68.08,247.69 L68.44,247.69 L68.81,247.56 L69.18,247.84 L69.55,247.77 L69.91,247.68 L70.28,247.85 L70.65,248.20 L71.01,248.28 L71.38,248.60 L71.75,248.65 L72.11,249.08 L72.48,249.08 L72.85,248.82 L74.32,249.00 L75.78,248.86 L77.25,248.82 L77.62,248.66 L77.99,248.48 L78.35,248.13 L78.72,247.94 L79.09,248.03 L79.45,247.89 L79.82,247.65 L80.19,247.59 L80.56,247.66 L80.92,247.42 L81.29,247.55 L81.66,247.36 L82.02,247.32 L82.39,247.34 L82.76,247.34 L83.12,247.37 L83.49,247.09 L83.86,247.31 L84.22,247.10 L84.59,247.10 L84.96,247.20 L85.33,247.19 L85.69,247.14 L86.06,247.23 L86.43,246.96 L86.79,246.97 L87.16,247.08 L87.53,246.92 L87.90,246.87 L88.26,246.88 L88.63,247.06 L89.00,247.06 L89.36,247.01 L89.73,247.08 L90.10,247.01 L90.46,246.82 L90.83,246.81 L91.20,246.94 L91.56,246.69 L91.93,246.87 L92.30,246.67 L92.67,246.65 L93.03,246.80 L93.40,246.66 L93.77,246.93 L94.13,246.90 L94.50,246.74 L94.87,246.63 L95.23,246.60 L96.70,246.69 L98.17,246.66 L99.64,246.57 L101.11,246.66 L102.58,246.56 L104.04,246.62 L105.51,246.35 L106.98,246.31 L108.45,246.40 L109.91,246.41 L111.38,246.31 L112.85,246.44 L114.32,246.26 L115.79,246.27 L117.25,246.31 L118.72,246.38 L120.19,246.39 L121.66,246.23 L123.13,246.24 L124.59,246.40 L126.06,246.39 L127.53,246.27 L129.00,246.07 L130.47,246.19 L131.94,246.24 L133.40,246.11 L134.87,246.01 L136.34,246.34 L137.81,246.31 L139.28,246.02 L140.74,246.14 L142.21,246.18 L143.68,246.06 L145.15,245.97 L146.62,246.21 L148.08,246.22 L149.55,246.09 L151.02,245.96 L152.49,246.07 L153.95,245.96 L155.42,246.27 L156.89,245.93 L158.36,246.02 L159.83,246.19 L161.30,245.95 L162.76,245.94 L164.23,245.93 L164.60,245.96 L164.97,246.09 L165.33,246.20 L165.70,246.06 L166.07,246.14 L166.43,246.43 L166.80,246.38 L167.17,246.41 L167.53,246.39 L167.90,246.49 L168.27,246.80 L168.63,246.54 L169.00,246.64 L169.37,246.86 L169.74,246.96 L170.10,247.00 L170.47,246.89 L170.84,247.10 L171.20,247.01 L171.57,246.93 L171.94,247.03 L172.31,247.15 L172.67,247.19 L173.04,247.00 L173.41,247.06 L173.77,247.36 L174.14,247.08 L174.51,247.36 L174.87,247.22 L175.24,247.21 L175.61,247.24 L175.97,247.34 L176.34,247.55 L176.71,247.27 L177.08,247.54 L177.44,247.37 L177.81,247.34 L178.18,247.56 L178.54,247.44 L178.91,247.40 L179.28,247.50 L179.64,247.66 L180.01,247.69 L180.38,247.60 L180.75,247.41 L181.11,247.70 L181.48,247.66 L181.85,247.78 L182.21,247.81 L182.58,247.59 L182.95,247.79 L183.31,247.80 L183.68,247.61 L185.15,247.68 L186.62,247.72 L188.09,247.75 L189.55,247.78 L191.02,247.71 L192.49,247.77 L193.96,248.04 L195.43,247.87 L196.89,247.97 L198.36,248.07 L199.83,248.03 L201.30,247.86 L202.77,248.11 L204.23,248.07 L205.70,248.14 L207.17,248.05 L208.64,248.07 L210.11,248.09 L211.57,247.90 L213.04,248.04 L214.51,247.95 L215.98,248.11 L217.45,247.86 L218.91,248.01 L220.38,247.94 L221.85,248.11 L223.32,247.94 L224.79,248.12 L226.25,248.13 L227.72,248.14 L229.19,247.87 L230.66,248.16 L232.13,248.09 L233.59,248.07 L235.06,248.06 L236.53,247.84 L238.00,248.14 L239.47,248.02" fill="none" stroke="#c31414" stroke-width="2.0" stroke-linejoin="round" stroke-linecap="round"/>
<path d="M56.70,248.95 L58.17,248.91 L59.64,249.07 L61.10,249.07 L62.57,249.10 L64.04,248.87 L65.51,248.91 L65.88,248.65 L66.24,248.38 L66.61,248.26 L66.98,247.96 L67.34,248.08 L67.71,247.75 L68.08,247.59 L68.44,247.53 L68.81,247.76 L69.18,247.58 L69.55,247.73 L69.91,247.81 L70.28,248.08 L70.65,248.30 L71.01,248.25 L71.38,248.57 L71.75,248.89 L72.11,248.96 L72.48,249.11 L72.85,249.05 L74.32,248.90 L75.78,249.10 L77.25,248.87 L77.62,248.59 L77.99,248.67 L78.35,248.67 L78.72,248.49 L79.09,248.41 L79.45,248.33 L79.82,248.45 L80.19,248.32 L80.56,248.12 L80.92,248.14 L81.29,248.11 L81.66,248.29 L82.02,248.17 L82.39,247.94 L82.76,248.21 L83.12,247.87 L83.49,248.05 L83.86,247.98 L84.22,248.06 L84.59,247.95 L84.96,247.81 L85.33,247.95 L85.69,248.05 L86.06,248.02 L86.43,247.86 L86.79,247.80 L87.16,247.98 L87.53,247.99 L87.90,247.77 L88.26,248.00 L88.63,248.03 L89.00,247.82 L89.36,247.79 L89.73,247.90 L90.10,247.97 L90.46,247.71 L90.83,247.73 L91.20,247.74 L91.56,247.87 L91.93,247.67 L92.30,247.79 L92.67,247.77 L93.03,247.82 L93.40,247.63 L93.77,247.92 L94.13,247.92 L94.50,247.76 L94.87,247.84 L95.23,247.61 L96.70,247.85 L98.17,247.70 L99.64,247.76 L101.11,247.78 L102.58,247.58 L104.04,247.76 L105.51,247.49 L106.98,247.41 L108.45,247.57 L109.91,247.70 L111.38,247.68 L112.85,247.69 L114.32,247.52 L115.79,247.66 L117.25,247.52 L118.72,247.36 L120.19,247.53 L121.66,247.58 L123.13,247.44 L124.59,247.49 L126.06,247.36 L127.53,247.36 L129.00,247.41 L130.47,247.44 L131.94,247.42 L133.40,247.28 L134.87,247.24 L136.34,247.36 L137.81,247.49 L139.28,247.50 L140.74,247.31 L142.21,247.31 L143.68,247.40 L145.15,247.28 L146.62,247.43 L148.08,247.53 L149.55,247.28 L151.02,247.41 L152.49,247.46 L153.95,247.47 L155.42,247.45 L156.89,247.45 L158.36,247.29 L159.83,247.49 L161.30,247.52 L162.76,247.21 L164.23,247.52 L164.60,247.34 L164.97,247.22 L165.33,247.21 L165.70,247.53 L166.07,247.53 L166.43,247.38 L166.80,247.54 L167.17,247.64 L167.53,247.80 L167.90,247.59 L168.27,247.78 L168.63,247.62 L169.00,247.63 L169.37,247.64 L169.74,247.76 L170.10,247.86 L170.47,247.77 L170.84,247.74 L171.20,247.78 L171.57,247.75 L171.94,247.81 L172.31,247.88 L172.67,247.96 L173.04,247.87 L173.41,247.99 L173.77,247.99 L174.14,248.20 L174.51,248.04 L174.87,248.22 L175.24,248.07 L175.61,247.98 L175.97,248.14 L176.34,247.99 L176.71,248.01 L177.08,247.99 L177.44,248.23 L177.81,248.33 L178.18,248.14 L178.54,248.14 L178.91,248.17 L179.28,248.15 L179.64,248.29 L180.01,248.19 L180.38,248.11 L180.75,248.38 L181.11,248.28 L181.48,248.08 L181.85,248.39 L182.21,248.36 L182.58,248.23 L182.95,248.34 L183.31,248.45 L183.68,248.27 L185.15,248.30 L186.62,248.28 L188.09,248.39 L189.55,248.44 L191.02,248.48 L192.49,248.57 L193.96,248.29 L195.43,248.38 L196.89,248.56 L198.36,248.55 L199.83,248.48 L201.30,248.52 L202.77,248.40 L204.23,248.62 L205.70,248.48 L207.17,248.43 L208.64,248.36 L210.11,248.33 L211.57,248.62 L213.04,248.59 L214.51,248.31 L215.98,248.42 L217.45,248.47 L218.91,248.48 L220.38,248.43 L221.85,248.63 L223.32,248.43 L224.79,248.50 L226.25,248.64 L227.72,248.54 L229.19,248.48 L230.66,248.43 L232.13,248.45 L233.59,248.53 L235.06,248.59 L236.53,248.40 L238.00,248.44 L239.47,248.45" fill="none" stroke="#c31414" stroke-width="2.0" stroke-linejoin="round" stroke-linecap="round"/>
<path d="M56.70,248.92 L58.17,249.12 L59.64,248.98 L61.10,248.89 L62.57,248.91 L64.04,249.09 L65.51,248.85 L65.88,248.81 L66.24,248.35 L66.61,248.21 L66.98,247.98 L67.34,248.08 L67.71,247.72 L68.08,247.65 L68.44,247.53 L68.81,247.58 L69.18,247.77 L69.55,247.83 L69.91,247.99 L70.28,248.14 L70.65,248.15 L71.01,248.47 L71.38,248.38 L71.75,248.90 L72.11,248.95 L72.48,248.86 L72.85,249.06 L74.32,249.10 L75.78,248.93 L77.25,248.76 L77.62,248.99 L77.99,248.90 L78.35,248.80 L78.72,248.90 L79.09,248.53 L79.45,248.51 L79.82,248.50 L80.19,248.44 L80.56,248.67 L80.92,248.63 L81.29,248.42 L81.66,248.43 L82.02,248.42 L82.39,248.56 L82.76,248.58 L83.12,248.67 L83.49,248.44 L83.86,248.66 L84.22,248.45 L84.59,248.43 L84.96,248.37 L85.33,248.36 L85.69,248.62 L86.06,248.62 L86.43,248.51 L86.79,248.32 L87.16,248.31 L87.53,248.30 L87.90,248.37 L88.26,248.50 L88.63,248.25 L89.00,248.42 L89.36,248.47 L89.73,248.23 L90.10,248.37 L90.46,248.50 L90.83,248.41 L91.20,248.37 L91.56,248.52 L91.93,248.41 L92.30,248.31 L92.67,248.33 L93.03,248.53 L93.40,248.49 L93.77,248.51 L94.13,248.38 L94.50,248.23 L94.87,248.23 L95.23,248.31 L96.70,248.41 L98.17,248.15 L99.64,248.43 L101.11,248.41 L102.58,248.30 L104.04,248.11 L105.51,248.39 L106.98,248.24 L108.45,248.33 L109.91,248.29 L111.38,248.34 L112.85,248.22 L114.32,248.41 L115.79,248.40 L117.25,248.39 L118.72,248.27 L120.19,248.16 L121.66,248.18 L123.13,248.13 L124.59,248.36 L126.06,248.32 L127.53,248.31 L129.00,248.32 L130.47,248.38 L131.94,248.27 L133.40,248.13 L134.87,248.29 L136.34,248.11 L137.81,248.23 L139.28,248.06 L140.74,248.31 L142.21,248.18 L143.68,248.10 L145.15,248.33 L146.62,248.03 L148.08,248.33 L149.55,248.27 L151.02,248.05 L152.49,248.27 L153.95,248.20 L155.42,248.32 L156.89,248.20 L158.36,248.14 L159.83,248.33 L161.30,248.02 L162.76,248.27 L164.23,248.02 L164.60,248.09 L164.97,248.03 L165.33,248.30 L165.70,248.17 L166.07,248.30 L166.43,248.15 L166.80,248.33 L167.17,248.32 L167.53,248.14 L167.90,248.29 L168.27,248.39 L168.63,248.22 L169.00,248.39 L169.37,248.26 L169.74,248.31 L170.10,248.51 L170.47,248.53 L170.84,248.56 L171.20,248.37 L171.57,248.43 L171.94,248.52 L172.31,248.51 L172.67,248.41 L173.04,248.56 L173.41,248.41 L173.77,248.61 L174.14,248.44 L174.51,248.32 L174.87,248.56 L175.24,248.35 L175.61,248.54 L175.97,248.33 L176.34,248.67 L176.71,248.51 L177.08,248.59 L177.44,248.37 L177.81,248.56 L178.18,248.47 L178.54,248.43 L178.91,248.64 L179.28,248.36 L179.64,248.53 L180.01,248.39 L180.38,248.67 L180.75,248.69 L181.11,248.38 L181.48,248.54 L181.85,248.54 L182.21,248.64 L182.58,248.64 L182.95,248.51 L183.31,248.72 L183.68,248.46 L185.15,248.45 L186.62,248.70 L188.09,248.46 L189.55,248.49 L191.02,248.61 L192.49,248.56 L193.96,248.50 L195.43,248.78 L196.89,248.62 L198.36,248.73 L199.83,248.54 L201.30,248.78 L202.77,248.54 L204.23,248.78 L205.70,248.68 L207.17,248.81 L208.64,248.74 L210.11,248.69 L211.57,248.66 L213.04,248.77 L214.51,248.62 L215.98,248.50 L217.45,248.79 L218.91,248.76 L220.38,248.71 L221.85,248.73 L223.32,248.55 L224.79,248.63 L226.25,248.76 L227.72,248.81 L229.19,248.80 L230.66,248.53 L232.13,248.71 L233.59,248.67 L235.06,248.61 L236.53,248.53 L238.00,248.52 L239.47,248.64" fill="none" stroke="#c31414" stroke-width="2.0" stroke-linejoin="round" stroke-linecap="round"/>
<line x1="56.70" y1="173.00" x2="56.70" y2="257.60" stroke="#151515" stroke-width="1.15"/>
<line x1="56.10" y1="257.00" x2="243.00" y2="257.00" stroke="#151515" stroke-width="1.15"/>
<line x1="53.10" y1="257.00" x2="56.70" y2="257.00" stroke="#151515" stroke-width="1.1"/>
<text x="50.30" y="260.20" font-size="9.0" fill="#151515" stroke="#151515" text-anchor="end">-50</text>
<line x1="53.10" y1="240.94" x2="56.70" y2="240.94" stroke="#151515" stroke-width="1.1"/>
<text x="50.30" y="244.14" font-size="9.0" fill="#151515" stroke="#151515" text-anchor="end">50</text>
<line x1="53.10" y1="224.88" x2="56.70" y2="224.88" stroke="#151515" stroke-width="1.1"/>
<text x="50.30" y="228.08" font-size="9.0" fill="#151515" stroke="#151515" text-anchor="end">150</text>
<line x1="53.10" y1="208.82" x2="56.70" y2="208.82" stroke="#151515" stroke-width="1.1"/>
<text x="50.30" y="212.02" font-size="9.0" fill="#151515" stroke="#151515" text-anchor="end">250</text>
<line x1="53.10" y1="192.76" x2="56.70" y2="192.76" stroke="#151515" stroke-width="1.1"/>
<text x="50.30" y="195.96" font-size="9.0" fill="#151515" stroke="#151515" text-anchor="end">350</text>
<line x1="53.10" y1="176.70" x2="56.70" y2="176.70" stroke="#151515" stroke-width="1.1"/>
<text x="50.30" y="179.90" font-size="9.0" fill="#151515" stroke="#151515" text-anchor="end">450</text>
<line x1="56.70" y1="257.00" x2="56.70" y2="260.60" stroke="#151515" stroke-width="1.1"/>
<text x="56.70" y="271.50" font-size="9.0" fill="#151515" stroke="#151515" text-anchor="middle">0</text>
<line x1="93.40" y1="257.00" x2="93.40" y2="260.60" stroke="#151515" stroke-width="1.1"/>
<text x="93.40" y="271.50" font-size="9.0" fill="#151515" stroke="#151515" text-anchor="middle">50</text>
<line x1="130.10" y1="257.00" x2="130.10" y2="260.60" stroke="#151515" stroke-width="1.1"/>
<text x="130.10" y="271.50" font-size="9.0" fill="#151515" stroke="#151515" text-anchor="middle">100</text>
<line x1="166.80" y1="257.00" x2="166.80" y2="260.60" stroke="#151515" stroke-width="1.1"/>
<text x="166.80" y="271.50" font-size="9.0" fill="#151515" stroke="#151515" text-anchor="middle">150</text>
<line x1="203.50" y1="257.00" x2="203.50" y2="260.60" stroke="#151515" stroke-width="1.1"/>
<text x="203.50" y="271.50" font-size="9.0" fill="#151515" stroke="#151515" text-anchor="middle">200</text>
<line x1="240.20" y1="257.00" x2="240.20" y2="260.60" stroke="#151515" stroke-width="1.1"/>
<text x="240.20" y="271.50" font-size="9.0" fill="#151515" stroke="#151515" text-anchor="middle">250</text>
<text transform="translate(30.1,215.60) rotate(-90)" font-size="10.6" text-anchor="middle" fill="#151515" stroke="#151515" textLength="55.2" lengthAdjust="spacingAndGlyphs">Response units</text>
<text x="136.10" y="285.60" font-size="9.9" fill="#151515" stroke="#151515" textLength="28.8" lengthAdjust="spacingAndGlyphs">Time [s]</text>
<text x="104.2" y="169.4" font-size="10" fill="#151515" stroke="#151515" textLength="87.7" lengthAdjust="spacingAndGlyphs"><tspan fill="#c0283c" stroke="#c0283c">C5</tspan> binding to C3b</text>
<line x1="104.20" y1="170.80" x2="116.80" y2="170.80" stroke="#c0283c" stroke-width="0.9" opacity="0.75"/>
<line x1="116.80" y1="170.80" x2="191.90" y2="170.80" stroke="#666" stroke-width="0.9"/>
<path d="M56.70,394.50 L58.22,394.42 L59.74,394.45 L61.26,394.52 L62.78,394.59 L64.30,394.53 L65.82,394.38 L66.20,394.41 L66.58,394.01 L66.96,394.02 L67.34,393.84 L67.72,393.37 L68.10,393.40 L68.48,393.45 L68.86,393.18 L69.24,393.22 L69.62,393.15 L70.00,393.11 L70.38,393.27 L70.76,393.37 L71.14,393.59 L71.52,393.90 L71.90,394.08 L72.28,394.44 L72.66,394.57 L73.04,394.45 L73.42,394.66 L74.94,394.55 L76.46,394.52 L77.98,390.45 L78.36,386.49 L78.74,382.75 L79.12,379.46 L79.50,376.20 L79.88,373.49 L80.26,370.49 L80.64,368.19 L81.02,365.46 L81.40,363.21 L81.78,361.31 L82.16,359.23 L82.54,357.51 L82.92,355.66 L83.30,354.32 L83.68,352.76 L84.06,351.36 L84.44,350.13 L84.82,348.91 L85.20,347.64 L85.58,346.56 L85.96,345.28 L86.34,344.33 L86.72,343.56 L87.10,342.90 L87.48,341.86 L87.86,341.19 L88.24,340.27 L88.62,339.74 L89.00,339.27 L89.38,338.55 L89.76,338.06 L90.14,337.22 L90.52,336.77 L90.90,336.27 L91.28,336.04 L91.66,335.34 L92.04,335.21 L92.42,334.57 L92.80,334.41 L93.18,333.91 L93.56,333.49 L93.94,333.38 L94.32,332.86 L94.70,332.65 L95.08,332.13 L95.46,332.12 L95.84,331.90 L96.22,331.32 L96.60,331.30 L98.12,330.20 L99.64,329.34 L101.16,328.69 L102.68,328.14 L104.20,327.66 L105.72,327.13 L107.24,326.63 L108.76,326.03 L110.28,325.61 L111.80,325.03 L113.32,324.85 L114.84,324.42 L116.36,324.02 L117.88,323.89 L119.40,323.35 L120.92,323.02 L122.44,322.76 L123.96,322.49 L125.48,322.41 L127.00,322.25 L128.52,321.80 L130.04,321.71 L131.56,321.53 L133.08,321.34 L134.60,321.10 L136.12,320.98 L137.64,320.62 L139.16,320.48 L140.68,320.46 L142.20,320.26 L143.72,320.31 L145.24,319.99 L146.76,320.08 L148.28,319.76 L149.80,319.59 L151.32,319.63 L152.84,319.50 L154.36,319.38 L155.88,319.45 L157.40,319.17 L158.92,319.25 L160.44,319.23 L161.96,319.02 L163.48,318.96 L165.00,319.05 L166.52,318.87 L168.04,318.66 L168.42,318.60 L168.80,319.02 L169.18,321.19 L169.56,323.10 L169.94,325.24 L170.32,327.02 L170.70,328.77 L171.08,330.58 L171.46,332.40 L171.84,333.76 L172.22,335.28 L172.60,336.84 L172.98,338.29 L173.36,339.89 L173.74,341.17 L174.12,342.36 L174.50,343.52 L174.88,344.69 L175.26,345.88 L175.64,347.27 L176.02,348.28 L176.40,349.15 L176.78,350.33 L177.16,351.10 L177.54,352.21 L177.92,353.05 L178.30,353.85 L178.68,354.92 L179.06,355.73 L179.44,356.45 L179.82,357.09 L180.20,358.00 L180.58,358.63 L180.96,359.40 L181.34,359.86 L181.72,360.79 L182.10,361.09 L182.48,361.76 L182.86,362.40 L183.24,362.89 L183.62,363.39 L184.00,364.13 L184.38,364.74 L184.76,364.99 L185.14,365.44 L185.52,366.04 L185.90,366.32 L186.28,366.81 L186.66,367.32 L187.04,367.63 L187.42,367.91 L187.80,368.26 L189.32,369.80 L190.84,371.17 L192.36,372.21 L193.88,372.85 L195.40,373.83 L196.92,374.56 L198.44,375.11 L199.96,375.87 L201.48,376.33 L203.00,376.91 L204.52,377.15 L206.04,377.77 L207.56,378.08 L209.08,378.28 L210.60,378.45 L212.12,378.84 L213.64,378.97 L215.16,379.40 L216.68,379.62 L218.20,379.78 L219.72,380.11 L221.24,379.95 L222.76,380.36 L224.28,380.55 L225.80,380.45 L227.32,380.67 L228.84,380.71 L230.36,381.03 L231.88,381.21 L233.40,381.19 L234.92,381.43 L236.44,381.43 L237.96,381.66 L239.48,381.61 L241.00,381.96 L242.52,381.86 L244.04,381.80 L245.56,381.92" fill="none" stroke="#b5520f" stroke-width="2.2" stroke-linejoin="round" stroke-linecap="round"/>
<path d="M56.70,394.58 L58.22,394.63 L59.74,394.55 L61.26,394.38 L62.78,394.63 L64.30,394.58 L65.82,394.36 L66.20,394.23 L66.58,394.12 L66.96,393.67 L67.34,393.50 L67.72,393.45 L68.10,393.51 L68.48,393.46 L68.86,393.15 L69.24,393.35 L69.62,393.32 L70.00,393.41 L70.38,393.41 L70.76,393.67 L71.14,393.72 L71.52,394.01 L71.90,394.08 L72.28,394.17 L72.66,394.51 L73.04,394.49 L73.42,394.44 L74.94,394.45 L76.46,394.50 L77.98,390.70 L78.36,386.99 L78.74,383.68 L79.12,380.65 L79.50,377.76 L79.88,375.02 L80.26,372.59 L80.64,370.06 L81.02,367.99 L81.40,365.84 L81.78,364.10 L82.16,362.28 L82.54,360.63 L82.92,358.96 L83.30,357.39 L83.68,356.26 L84.06,354.82 L84.44,353.56 L84.82,352.39 L85.20,351.36 L85.58,350.47 L85.96,349.57 L86.34,348.56 L86.72,347.82 L87.10,346.85 L87.48,346.19 L87.86,345.46 L88.24,344.78 L88.62,344.18 L89.00,343.73 L89.38,343.16 L89.76,342.45 L90.14,341.96 L90.52,341.68 L90.90,341.18 L91.28,340.76 L91.66,340.34 L92.04,339.97 L92.42,339.45 L92.80,339.02 L93.18,338.79 L93.56,338.35 L93.94,338.37 L94.32,337.92 L94.70,337.69 L95.08,337.52 L95.46,337.20 L95.84,336.75 L96.22,336.54 L96.60,336.23 L98.12,335.62 L99.64,334.85 L101.16,334.09 L102.68,333.45 L104.20,332.87 L105.72,332.45 L107.24,332.07 L108.76,331.71 L110.28,331.30 L111.80,330.93 L113.32,330.43 L114.84,330.09 L116.36,329.74 L117.88,329.68 L119.40,329.12 L120.92,328.85 L122.44,328.64 L123.96,328.63 L125.48,328.38 L127.00,327.98 L128.52,327.96 L130.04,327.78 L131.56,327.43 L133.08,327.17 L134.60,327.21 L136.12,326.91 L137.64,326.67 L139.16,326.80 L140.68,326.50 L142.20,326.36 L143.72,326.30 L145.24,326.06 L146.76,325.87 L148.28,325.89 L149.80,325.79 L151.32,325.56 L152.84,325.60 L154.36,325.65 L155.88,325.42 L157.40,325.46 L158.92,325.37 L160.44,325.14 L161.96,325.01 L163.48,325.18 L165.00,325.10 L166.52,324.93 L168.04,324.84 L168.42,325.06 L168.80,325.46 L169.18,327.11 L169.56,329.07 L169.94,330.83 L170.32,332.44 L170.70,333.98 L171.08,335.66 L171.46,337.30 L171.84,338.76 L172.22,340.15 L172.60,341.38 L172.98,342.73 L173.36,344.04 L173.74,345.31 L174.12,346.47 L174.50,347.81 L174.88,348.63 L175.26,350.01 L175.64,350.77 L176.02,351.98 L176.40,352.72 L176.78,353.77 L177.16,354.58 L177.54,355.32 L177.92,356.42 L178.30,357.23 L178.68,357.81 L179.06,358.74 L179.44,359.35 L179.82,360.23 L180.20,360.57 L180.58,361.34 L180.96,361.91 L181.34,362.66 L181.72,363.30 L182.10,363.89 L182.48,364.33 L182.86,364.80 L183.24,365.46 L183.62,365.70 L184.00,366.23 L184.38,366.87 L184.76,367.20 L185.14,367.83 L185.52,367.92 L185.90,368.46 L186.28,368.76 L186.66,369.06 L187.04,369.46 L187.42,369.81 L187.80,370.25 L189.32,371.53 L190.84,372.66 L192.36,373.55 L193.88,374.56 L195.40,375.25 L196.92,376.09 L198.44,376.40 L199.96,377.06 L201.48,377.53 L203.00,377.92 L204.52,378.48 L206.04,378.60 L207.56,379.16 L209.08,379.27 L210.60,379.53 L212.12,379.87 L213.64,380.08 L215.16,380.19 L216.68,380.32 L218.20,380.82 L219.72,380.78 L221.24,380.85 L222.76,381.20 L224.28,381.30 L225.80,381.36 L227.32,381.49 L228.84,381.80 L230.36,381.74 L231.88,381.88 L233.40,382.19 L234.92,382.08 L236.44,382.20 L237.96,382.21 L239.48,382.48 L241.00,382.58 L242.52,382.59 L244.04,382.66 L245.56,382.68" fill="none" stroke="#b5520f" stroke-width="2.0" stroke-linejoin="round" stroke-linecap="round"/>
<path d="M56.70,394.60 L58.22,394.48 L59.74,394.62 L61.26,394.45 L62.78,394.58 L64.30,394.33 L65.82,394.40 L66.20,394.44 L66.58,394.12 L66.96,393.91 L67.34,393.66 L67.72,393.49 L68.10,393.27 L68.48,393.16 L68.86,393.27 L69.24,393.27 L69.62,393.13 L70.00,393.33 L70.38,393.24 L70.76,393.54 L71.14,393.55 L71.52,393.85 L71.90,393.99 L72.28,394.29 L72.66,394.37 L73.04,394.49 L73.42,394.54 L74.94,394.37 L76.46,394.43 L77.98,392.14 L78.36,389.83 L78.74,387.74 L79.12,385.83 L79.50,383.91 L79.88,382.06 L80.26,380.53 L80.64,379.16 L81.02,377.65 L81.40,376.39 L81.78,375.01 L82.16,373.88 L82.54,372.98 L82.92,371.90 L83.30,370.88 L83.68,369.78 L84.06,369.11 L84.44,368.10 L84.82,367.67 L85.20,366.98 L85.58,366.22 L85.96,365.42 L86.34,365.04 L86.72,364.23 L87.10,363.93 L87.48,363.32 L87.86,362.66 L88.24,362.52 L88.62,361.92 L89.00,361.65 L89.38,361.21 L89.76,360.78 L90.14,360.55 L90.52,359.97 L90.90,359.90 L91.28,359.39 L91.66,358.99 L92.04,358.82 L92.42,358.45 L92.80,358.19 L93.18,358.14 L93.56,357.72 L93.94,357.50 L94.32,357.33 L94.70,357.11 L95.08,357.13 L95.46,356.93 L95.84,356.72 L96.22,356.58 L96.60,356.20 L98.12,355.66 L99.64,354.87 L101.16,354.56 L102.68,354.03 L104.20,353.55 L105.72,352.95 L107.24,352.51 L108.76,352.44 L110.28,351.97 L111.80,351.67 L113.32,351.45 L114.84,350.91 L116.36,350.84 L117.88,350.49 L119.40,350.37 L120.92,350.02 L122.44,349.70 L123.96,349.77 L125.48,349.33 L127.00,349.30 L128.52,349.16 L130.04,348.78 L131.56,348.78 L133.08,348.51 L134.60,348.31 L136.12,348.16 L137.64,348.30 L139.16,347.96 L140.68,347.89 L142.20,347.77 L143.72,347.49 L145.24,347.65 L146.76,347.55 L148.28,347.51 L149.80,347.23 L151.32,347.09 L152.84,347.06 L154.36,347.12 L155.88,347.02 L157.40,346.87 L158.92,346.84 L160.44,346.65 L161.96,346.86 L163.48,346.64 L165.00,346.60 L166.52,346.65 L168.04,346.39 L168.42,346.57 L168.80,346.61 L169.18,347.65 L169.56,348.25 L169.94,349.15 L170.32,350.10 L170.70,350.84 L171.08,351.58 L171.46,352.42 L171.84,353.03 L172.22,353.84 L172.60,354.39 L172.98,355.37 L173.36,355.85 L173.74,356.72 L174.12,357.26 L174.50,357.91 L174.88,358.53 L175.26,358.95 L175.64,359.78 L176.02,360.17 L176.40,360.94 L176.78,361.46 L177.16,361.95 L177.54,362.53 L177.92,362.90 L178.30,363.48 L178.68,364.07 L179.06,364.27 L179.44,364.70 L179.82,365.27 L180.20,365.75 L180.58,366.05 L180.96,366.50 L181.34,367.15 L181.72,367.38 L182.10,367.69 L182.48,368.09 L182.86,368.60 L183.24,368.83 L183.62,369.30 L184.00,369.67 L184.38,369.98 L184.76,370.34 L185.14,370.79 L185.52,370.82 L185.90,371.46 L186.28,371.50 L186.66,371.75 L187.04,372.30 L187.42,372.52 L187.80,372.79 L189.32,373.73 L190.84,374.91 L192.36,375.63 L193.88,376.59 L195.40,377.16 L196.92,377.97 L198.44,378.63 L199.96,379.11 L201.48,379.68 L203.00,380.02 L204.52,380.68 L206.04,381.12 L207.56,381.31 L209.08,381.81 L210.60,382.21 L212.12,382.29 L213.64,382.84 L215.16,383.12 L216.68,383.07 L218.20,383.37 L219.72,383.53 L221.24,383.79 L222.76,383.92 L224.28,384.24 L225.80,384.32 L227.32,384.49 L228.84,384.70 L230.36,384.80 L231.88,385.09 L233.40,385.19 L234.92,385.08 L236.44,385.24 L237.96,385.26 L239.48,385.48 L241.00,385.50 L242.52,385.80 L244.04,385.92 L245.56,386.08" fill="none" stroke="#b5520f" stroke-width="2.0" stroke-linejoin="round" stroke-linecap="round"/>
<path d="M56.70,394.40 L58.22,394.33 L59.74,394.59 L61.26,394.47 L62.78,394.66 L64.30,394.46 L65.82,394.43 L66.20,394.12 L66.58,394.22 L66.96,393.85 L67.34,393.64 L67.72,393.48 L68.10,393.47 L68.48,393.40 L68.86,393.21 L69.24,393.08 L69.62,393.19 L70.00,393.42 L70.38,393.34 L70.76,393.56 L71.14,393.69 L71.52,393.84 L71.90,394.08 L72.28,394.18 L72.66,394.52 L73.04,394.63 L73.42,394.35 L74.94,394.45 L76.46,394.64 L77.98,393.34 L78.36,391.75 L78.74,390.80 L79.12,389.72 L79.50,388.77 L79.88,387.68 L80.26,386.66 L80.64,385.88 L81.02,385.24 L81.40,384.50 L81.78,383.62 L82.16,383.12 L82.54,382.51 L82.92,381.93 L83.30,381.16 L83.68,380.79 L84.06,380.27 L84.44,379.90 L84.82,379.38 L85.20,378.89 L85.58,378.70 L85.96,378.19 L86.34,378.02 L86.72,377.52 L87.10,377.29 L87.48,377.09 L87.86,376.55 L88.24,376.50 L88.62,376.01 L89.00,376.07 L89.38,375.51 L89.76,375.53 L90.14,375.19 L90.52,374.91 L90.90,374.79 L91.28,374.64 L91.66,374.43 L92.04,374.15 L92.42,374.12 L92.80,373.88 L93.18,373.96 L93.56,373.60 L93.94,373.47 L94.32,373.25 L94.70,373.38 L95.08,373.01 L95.46,373.00 L95.84,372.94 L96.22,372.66 L96.60,372.67 L98.12,372.06 L99.64,371.60 L101.16,371.21 L102.68,371.01 L104.20,370.86 L105.72,370.32 L107.24,370.14 L108.76,370.00 L110.28,369.58 L111.80,369.31 L113.32,369.23 L114.84,368.99 L116.36,368.99 L117.88,368.79 L119.40,368.38 L120.92,368.33 L122.44,368.12 L123.96,367.84 L125.48,367.84 L127.00,367.88 L128.52,367.53 L130.04,367.51 L131.56,367.44 L133.08,367.10 L134.60,367.31 L136.12,366.91 L137.64,366.89 L139.16,366.95 L140.68,366.61 L142.20,366.66 L143.72,366.49 L145.24,366.55 L146.76,366.31 L148.28,366.29 L149.80,366.26 L151.32,366.15 L152.84,366.09 L154.36,366.07 L155.88,366.14 L157.40,365.95 L158.92,366.15 L160.44,365.96 L161.96,365.86 L163.48,365.82 L165.00,365.99 L166.52,365.67 L168.04,365.89 L168.42,365.65 L168.80,366.05 L169.18,366.36 L169.56,366.93 L169.94,367.50 L170.32,367.70 L170.70,368.15 L171.08,368.82 L171.46,369.23 L171.84,369.70 L172.22,369.96 L172.60,370.45 L172.98,370.74 L173.36,371.22 L173.74,371.54 L174.12,372.02 L174.50,372.28 L174.88,372.63 L175.26,373.11 L175.64,373.25 L176.02,373.84 L176.40,374.05 L176.78,374.27 L177.16,374.53 L177.54,374.98 L177.92,375.27 L178.30,375.64 L178.68,375.79 L179.06,376.08 L179.44,376.52 L179.82,376.56 L180.20,377.07 L180.58,377.29 L180.96,377.57 L181.34,377.79 L181.72,377.77 L182.10,378.20 L182.48,378.35 L182.86,378.42 L183.24,378.92 L183.62,379.00 L184.00,379.27 L184.38,379.37 L184.76,379.40 L185.14,379.87 L185.52,379.80 L185.90,380.02 L186.28,380.32 L186.66,380.34 L187.04,380.61 L187.42,380.87 L187.80,380.81 L189.32,381.62 L190.84,381.98 L192.36,382.63 L193.88,383.16 L195.40,383.61 L196.92,383.77 L198.44,384.19 L199.96,384.80 L201.48,384.90 L203.00,385.19 L204.52,385.44 L206.04,385.79 L207.56,386.03 L209.08,386.21 L210.60,386.31 L212.12,386.55 L213.64,386.69 L215.16,386.73 L216.68,387.14 L218.20,387.28 L219.72,387.34 L221.24,387.53 L222.76,387.45 L224.28,387.69 L225.80,387.57 L227.32,387.84 L228.84,387.91 L230.36,388.07 L231.88,388.11 L233.40,388.20 L234.92,388.05 L236.44,388.30 L237.96,388.25 L239.48,388.25 L241.00,388.32 L242.52,388.53 L244.04,388.60 L245.56,388.65" fill="none" stroke="#b5520f" stroke-width="2.0" stroke-linejoin="round" stroke-linecap="round"/>
<path d="M56.70,394.56 L58.22,394.38 L59.74,394.38 L61.26,394.52 L62.78,394.40 L64.30,394.44 L65.82,394.36 L66.20,394.15 L66.58,394.13 L66.96,393.75 L67.34,393.79 L67.72,393.44 L68.10,393.50 L68.48,393.21 L68.86,393.14 L69.24,393.16 L69.62,393.04 L70.00,393.26 L70.38,393.33 L70.76,393.33 L71.14,393.79 L71.52,393.81 L71.90,393.88 L72.28,394.44 L72.66,394.40 L73.04,394.41 L73.42,394.33 L74.94,394.36 L76.46,394.58 L77.98,393.78 L78.36,393.06 L78.74,392.31 L79.12,391.71 L79.50,391.39 L79.88,390.63 L80.26,390.35 L80.64,389.83 L81.02,389.11 L81.40,388.95 L81.78,388.26 L82.16,388.13 L82.54,387.82 L82.92,387.44 L83.30,387.07 L83.68,386.87 L84.06,386.35 L84.44,386.23 L84.82,385.88 L85.20,385.69 L85.58,385.38 L85.96,385.36 L86.34,385.10 L86.72,384.98 L87.10,384.74 L87.48,384.55 L87.86,384.50 L88.24,384.30 L88.62,384.05 L89.00,383.82 L89.38,383.89 L89.76,383.56 L90.14,383.33 L90.52,383.29 L90.90,383.30 L91.28,383.26 L91.66,383.05 L92.04,382.95 L92.42,382.94 L92.80,382.78 L93.18,382.57 L93.56,382.48 L93.94,382.49 L94.32,382.24 L94.70,382.08 L95.08,382.18 L95.46,382.17 L95.84,381.89 L96.22,381.97 L96.60,381.97 L98.12,381.41 L99.64,381.15 L101.16,381.04 L102.68,380.77 L104.20,380.79 L105.72,380.61 L107.24,380.23 L108.76,380.19 L110.28,379.97 L111.80,379.66 L113.32,379.80 L114.84,379.38 L116.36,379.22 L117.88,379.23 L119.40,378.96 L120.92,379.02 L122.44,378.89 L123.96,378.99 L125.48,378.70 L127.00,378.77 L128.52,378.66 L130.04,378.51 L131.56,378.31 L133.08,378.26 L134.60,378.26 L136.12,378.16 L137.64,378.18 L139.16,378.07 L140.68,377.95 L142.20,378.00 L143.72,378.09 L145.24,377.75 L146.76,377.76 L148.28,377.60 L149.80,377.58 L151.32,377.53 L152.84,377.62 L154.36,377.74 L155.88,377.65 L157.40,377.72 L158.92,377.64 L160.44,377.52 L161.96,377.49 L163.48,377.26 L165.00,377.37 L166.52,377.30 L168.04,377.40 L168.42,377.20 L168.80,377.42 L169.18,377.65 L169.56,377.98 L169.94,378.22 L170.32,378.39 L170.70,378.88 L171.08,379.16 L171.46,379.34 L171.84,379.41 L172.22,379.82 L172.60,380.15 L172.98,380.42 L173.36,380.57 L173.74,380.53 L174.12,381.04 L174.50,381.17 L174.88,381.23 L175.26,381.66 L175.64,381.82 L176.02,382.04 L176.40,381.99 L176.78,382.29 L177.16,382.40 L177.54,382.54 L177.92,382.87 L178.30,382.99 L178.68,383.04 L179.06,383.28 L179.44,383.57 L179.82,383.59 L180.20,383.86 L180.58,383.88 L180.96,384.17 L181.34,383.96 L181.72,384.25 L182.10,384.41 L182.48,384.60 L182.86,384.82 L183.24,384.81 L183.62,384.88 L184.00,385.05 L184.38,385.13 L184.76,385.30 L185.14,385.50 L185.52,385.27 L185.90,385.48 L186.28,385.78 L186.66,385.59 L187.04,385.95 L187.42,385.77 L187.80,386.09 L189.32,386.49 L190.84,386.61 L192.36,386.96 L193.88,387.17 L195.40,387.59 L196.92,387.75 L198.44,387.99 L199.96,388.08 L201.48,388.35 L203.00,388.64 L204.52,388.73 L206.04,388.93 L207.56,388.80 L209.08,389.02 L210.60,389.08 L212.12,389.17 L213.64,389.43 L215.16,389.29 L216.68,389.51 L218.20,389.66 L219.72,389.79 L221.24,389.53 L222.76,389.68 L224.28,389.82 L225.80,390.03 L227.32,389.81 L228.84,390.10 L230.36,389.98 L231.88,390.08 L233.40,390.26 L234.92,389.99 L236.44,390.12 L237.96,390.09 L239.48,390.12 L241.00,390.21 L242.52,390.38 L244.04,390.37 L245.56,390.23" fill="none" stroke="#b5520f" stroke-width="2.0" stroke-linejoin="round" stroke-linecap="round"/>
<path d="M56.70,394.61 L58.22,394.50 L59.74,394.37 L61.26,394.62 L62.78,394.62 L64.30,394.40 L65.82,394.66 L66.20,394.39 L66.58,393.96 L66.96,393.67 L67.34,393.80 L67.72,393.62 L68.10,393.23 L68.48,393.37 L68.86,393.32 L69.24,393.25 L69.62,393.34 L70.00,393.45 L70.38,393.31 L70.76,393.62 L71.14,393.82 L71.52,393.78 L71.90,394.12 L72.28,394.34 L72.66,394.63 L73.04,394.52 L73.42,394.42 L74.94,394.41 L76.46,394.52 L77.98,393.91 L78.36,393.75 L78.74,393.36 L79.12,392.75 L79.50,392.56 L79.88,392.23 L80.26,391.72 L80.64,391.66 L81.02,391.38 L81.40,390.96 L81.78,390.64 L82.16,390.48 L82.54,390.44 L82.92,390.13 L83.30,390.06 L83.68,389.65 L84.06,389.45 L84.44,389.38 L84.82,389.42 L85.20,389.01 L85.58,388.84 L85.96,388.95 L86.34,388.59 L86.72,388.68 L87.10,388.35 L87.48,388.30 L87.86,388.35 L88.24,388.33 L88.62,388.07 L89.00,387.99 L89.38,387.75 L89.76,387.78 L90.14,387.66 L90.52,387.78 L90.90,387.68 L91.28,387.64 L91.66,387.48 L92.04,387.47 L92.42,387.20 L92.80,387.23 L93.18,387.14 L93.56,387.08 L93.94,387.19 L94.32,386.94 L94.70,386.93 L95.08,386.86 L95.46,387.02 L95.84,386.89 L96.22,386.79 L96.60,386.71 L98.12,386.73 L99.64,386.58 L101.16,386.26 L102.68,386.16 L104.20,386.15 L105.72,385.81 L107.24,385.70 L108.76,385.54 L110.28,385.59 L111.80,385.59 L113.32,385.29 L114.84,385.30 L116.36,385.43 L117.88,385.17 L119.40,385.06 L120.92,385.16 L122.44,385.12 L123.96,384.87 L125.48,384.72 L127.00,384.85 L128.52,384.84 L130.04,384.86 L131.56,384.71 L133.08,384.54 L134.60,384.58 L136.12,384.45 L137.64,384.47 L139.16,384.44 L140.68,384.57 L142.20,384.53 L143.72,384.51 L145.24,384.32 L146.76,384.47 L148.28,384.14 L149.80,384.40 L151.32,384.27 L152.84,384.33 L154.36,384.14 L155.88,384.33 L157.40,383.96 L158.92,384.24 L160.44,384.21 L161.96,384.04 L163.48,384.18 L165.00,383.95 L166.52,384.13 L168.04,384.01 L168.42,383.98 L168.80,383.94 L169.18,384.33 L169.56,384.48 L169.94,384.41 L170.32,384.89 L170.70,384.78 L171.08,384.99 L171.46,385.15 L171.84,385.36 L172.22,385.61 L172.60,385.77 L172.98,385.80 L173.36,385.84 L173.74,385.87 L174.12,385.99 L174.50,386.27 L174.88,386.42 L175.26,386.49 L175.64,386.80 L176.02,386.70 L176.40,386.79 L176.78,386.93 L177.16,386.94 L177.54,387.32 L177.92,387.30 L178.30,387.38 L178.68,387.43 L179.06,387.46 L179.44,387.58 L179.82,387.73 L180.20,387.80 L180.58,388.08 L180.96,388.01 L181.34,387.97 L181.72,387.99 L182.10,388.11 L182.48,388.25 L182.86,388.48 L183.24,388.59 L183.62,388.43 L184.00,388.70 L184.38,388.64 L184.76,388.74 L185.14,388.81 L185.52,388.69 L185.90,388.76 L186.28,389.04 L186.66,389.11 L187.04,389.06 L187.42,389.31 L187.80,389.33 L189.32,389.35 L190.84,389.46 L192.36,389.81 L193.88,390.01 L195.40,390.00 L196.92,390.07 L198.44,390.35 L199.96,390.31 L201.48,390.66 L203.00,390.72 L204.52,390.69 L206.04,390.83 L207.56,390.83 L209.08,390.88 L210.60,390.95 L212.12,391.23 L213.64,391.16 L215.16,391.31 L216.68,391.22 L218.20,391.43 L219.72,391.40 L221.24,391.46 L222.76,391.41 L224.28,391.50 L225.80,391.40 L227.32,391.71 L228.84,391.63 L230.36,391.61 L231.88,391.67 L233.40,391.51 L234.92,391.61 L236.44,391.60 L237.96,391.84 L239.48,391.56 L241.00,391.73 L242.52,391.91 L244.04,391.89 L245.56,391.89" fill="none" stroke="#b5520f" stroke-width="2.0" stroke-linejoin="round" stroke-linecap="round"/>
<path d="M56.70,394.43 L58.22,394.40 L59.74,394.57 L61.26,394.43 L62.78,394.58 L64.30,394.45 L65.82,394.59 L66.20,394.30 L66.58,394.17 L66.96,394.02 L67.34,393.62 L67.72,393.68 L68.10,393.20 L68.48,393.41 L68.86,393.05 L69.24,393.22 L69.62,393.18 L70.00,393.38 L70.38,393.31 L70.76,393.40 L71.14,393.77 L71.52,393.87 L71.90,394.15 L72.28,394.27 L72.66,394.33 L73.04,394.60 L73.42,394.40 L74.94,394.49 L76.46,394.32 L77.98,394.13 L78.36,394.01 L78.74,393.79 L79.12,393.51 L79.50,393.22 L79.88,393.12 L80.26,392.90 L80.64,392.55 L81.02,392.50 L81.40,392.36 L81.78,392.26 L82.16,391.92 L82.54,391.83 L82.92,391.71 L83.30,391.50 L83.68,391.48 L84.06,391.51 L84.44,391.36 L84.82,391.11 L85.20,391.22 L85.58,390.91 L85.96,391.06 L86.34,390.76 L86.72,390.67 L87.10,390.66 L87.48,390.68 L87.86,390.53 L88.24,390.69 L88.62,390.65 L89.00,390.36 L89.38,390.47 L89.76,390.40 L90.14,390.30 L90.52,390.14 L90.90,390.35 L91.28,390.30 L91.66,389.92 L92.04,389.99 L92.42,389.95 L92.80,389.87 L93.18,389.91 L93.56,390.05 L93.94,389.70 L94.32,389.95 L94.70,389.73 L95.08,389.59 L95.46,389.88 L95.84,389.62 L96.22,389.57 L96.60,389.51 L98.12,389.49 L99.64,389.30 L101.16,389.23 L102.68,389.18 L104.20,389.22 L105.72,389.09 L107.24,388.98 L108.76,388.99 L110.28,389.02 L111.80,388.94 L113.32,388.75 L114.84,388.91 L116.36,388.81 L117.88,388.68 L119.40,388.61 L120.92,388.52 L122.44,388.41 L123.96,388.64 L125.48,388.50 L127.00,388.28 L128.52,388.55 L130.04,388.51 L131.56,388.17 L133.08,388.38 L134.60,388.19 L136.12,388.27 L137.64,388.35 L139.16,388.16 L140.68,388.19 L142.20,388.23 L143.72,388.04 L145.24,388.18 L146.76,388.09 L148.28,388.27 L149.80,387.97 L151.32,388.14 L152.84,387.88 L154.36,387.95 L155.88,387.88 L157.40,387.88 L158.92,388.01 L160.44,387.87 L161.96,388.08 L163.48,387.82 L165.00,388.00 L166.52,388.08 L168.04,387.80 L168.42,387.83 L168.80,388.05 L169.18,388.05 L169.56,388.32 L169.94,388.21 L170.32,388.33 L170.70,388.63 L171.08,388.50 L171.46,388.82 L171.84,388.88 L172.22,388.72 L172.60,388.93 L172.98,389.15 L173.36,388.94 L173.74,389.28 L174.12,389.33 L174.50,389.40 L174.88,389.42 L175.26,389.31 L175.64,389.69 L176.02,389.46 L176.40,389.77 L176.78,389.81 L177.16,389.73 L177.54,389.93 L177.92,389.89 L178.30,390.07 L178.68,389.88 L179.06,390.25 L179.44,390.11 L179.82,390.32 L180.20,390.25 L180.58,390.43 L180.96,390.30 L181.34,390.43 L181.72,390.30 L182.10,390.51 L182.48,390.41 L182.86,390.74 L183.24,390.71 L183.62,390.67 L184.00,390.91 L184.38,390.94 L184.76,390.98 L185.14,390.71 L185.52,390.97 L185.90,391.02 L186.28,391.01 L186.66,390.84 L187.04,391.20 L187.42,391.06 L187.80,391.15 L189.32,391.36 L190.84,391.28 L192.36,391.30 L193.88,391.72 L195.40,391.57 L196.92,391.57 L198.44,391.68 L199.96,392.06 L201.48,392.04 L203.00,391.90 L204.52,391.94 L206.04,392.26 L207.56,392.22 L209.08,392.23 L210.60,392.11 L212.12,392.25 L213.64,392.48 L215.16,392.17 L216.68,392.35 L218.20,392.25 L219.72,392.61 L221.24,392.31 L222.76,392.64 L224.28,392.62 L225.80,392.60 L227.32,392.37 L228.84,392.63 L230.36,392.57 L231.88,392.59 L233.40,392.48 L234.92,392.62 L236.44,392.74 L237.96,392.51 L239.48,392.79 L241.00,392.64 L242.52,392.60 L244.04,392.60 L245.56,392.69" fill="none" stroke="#b5520f" stroke-width="2.0" stroke-linejoin="round" stroke-linecap="round"/>
<path d="M56.70,394.55 L58.22,394.53 L59.74,394.64 L61.26,394.50 L62.78,394.50 L64.30,394.68 L65.82,394.40 L66.20,394.10 L66.58,393.99 L66.96,393.78 L67.34,393.53 L67.72,393.47 L68.10,393.21 L68.48,393.43 L68.86,393.21 L69.24,393.34 L69.62,393.29 L70.00,393.36 L70.38,393.47 L70.76,393.43 L71.14,393.75 L71.52,393.74 L71.90,394.08 L72.28,394.31 L72.66,394.60 L73.04,394.38 L73.42,394.44 L74.94,394.62 L76.46,394.61 L77.98,394.48 L78.36,393.98 L78.74,393.84 L79.12,393.65 L79.50,393.72 L79.88,393.58 L80.26,393.42 L80.64,393.34 L81.02,393.13 L81.40,393.03 L81.78,393.06 L82.16,392.86 L82.54,392.77 L82.92,392.66 L83.30,392.54 L83.68,392.56 L84.06,392.42 L84.44,392.19 L84.82,392.23 L85.20,392.16 L85.58,392.11 L85.96,392.10 L86.34,391.97 L86.72,391.93 L87.10,391.90 L87.48,391.83 L87.86,392.00 L88.24,391.64 L88.62,391.57 L89.00,391.79 L89.38,391.63 L89.76,391.62 L90.14,391.63 L90.52,391.52 L90.90,391.44 L91.28,391.33 L91.66,391.61 L92.04,391.61 L92.42,391.34 L92.80,391.38 L93.18,391.30 L93.56,391.18 L93.94,391.46 L94.32,391.42 L94.70,391.18 L95.08,391.16 L95.46,391.30 L95.84,391.32 L96.22,391.18 L96.60,391.13 L98.12,391.00 L99.64,391.13 L101.16,391.09 L102.68,391.03 L104.20,390.71 L105.72,390.84 L107.24,390.93 L108.76,390.79 L110.28,390.65 L111.80,390.50 L113.32,390.43 L114.84,390.64 L116.36,390.37 L117.88,390.60 L119.40,390.52 L120.92,390.42 L122.44,390.55 L123.96,390.54 L125.48,390.40 L127.00,390.19 L128.52,390.34 L130.04,390.26 L131.56,390.18 L133.08,390.40 L134.60,390.31 L136.12,390.08 L137.64,390.10 L139.16,390.13 L140.68,390.19 L142.20,390.09 L143.72,390.12 L145.24,390.24 L146.76,390.00 L148.28,390.18 L149.80,390.03 L151.32,390.24 L152.84,390.23 L154.36,390.00 L155.88,390.09 L157.40,389.90 L158.92,390.00 L160.44,390.07 L161.96,390.07 L163.48,389.96 L165.00,389.84 L166.52,389.87 L168.04,390.02 L168.42,389.87 L168.80,389.94 L169.18,390.12 L169.56,390.30 L169.94,390.23 L170.32,390.20 L170.70,390.39 L171.08,390.34 L171.46,390.59 L171.84,390.43 L172.22,390.52 L172.60,390.65 L172.98,390.87 L173.36,390.66 L173.74,390.73 L174.12,390.76 L174.50,390.84 L174.88,390.94 L175.26,391.01 L175.64,391.19 L176.02,391.11 L176.40,391.18 L176.78,391.20 L177.16,391.38 L177.54,391.47 L177.92,391.34 L178.30,391.56 L178.68,391.36 L179.06,391.66 L179.44,391.54 L179.82,391.63 L180.20,391.56 L180.58,391.56 L180.96,391.55 L181.34,391.85 L181.72,391.69 L182.10,391.85 L182.48,391.80 L182.86,391.85 L183.24,391.77 L183.62,391.79 L184.00,391.87 L184.38,392.03 L184.76,392.01 L185.14,391.84 L185.52,392.12 L185.90,392.05 L186.28,391.94 L186.66,392.03 L187.04,392.04 L187.42,392.29 L187.80,392.21 L189.32,392.22 L190.84,392.27 L192.36,392.36 L193.88,392.43 L195.40,392.51 L196.92,392.73 L198.44,392.78 L199.96,392.80 L201.48,392.91 L203.00,392.87 L204.52,392.71 L206.04,392.72 L207.56,392.80 L209.08,392.86 L210.60,392.99 L212.12,393.12 L213.64,393.06 L215.16,393.02 L216.68,392.98 L218.20,393.26 L219.72,393.20 L221.24,393.07 L222.76,392.98 L224.28,393.33 L225.80,393.08 L227.32,393.31 L228.84,393.06 L230.36,393.26 L231.88,393.16 L233.40,393.37 L234.92,393.16 L236.44,393.10 L237.96,393.15 L239.48,393.37 L241.00,393.44 L242.52,393.33 L244.04,393.35 L245.56,393.21" fill="none" stroke="#b5520f" stroke-width="2.0" stroke-linejoin="round" stroke-linecap="round"/>
<path d="M56.70,394.42 L58.22,394.35 L59.74,394.67 L61.26,394.34 L62.78,394.54 L64.30,394.45 L65.82,394.39 L66.20,394.25 L66.58,394.21 L66.96,393.76 L67.34,393.54 L67.72,393.55 L68.10,393.43 L68.48,393.28 L68.86,393.10 L69.24,393.33 L69.62,393.08 L70.00,393.16 L70.38,393.28 L70.76,393.51 L71.14,393.66 L71.52,393.87 L71.90,394.14 L72.28,394.42 L72.66,394.49 L73.04,394.34 L73.42,394.62 L74.94,394.33 L76.46,394.43 L77.98,394.24 L78.36,394.29 L78.74,394.24 L79.12,393.90 L79.50,393.86 L79.88,393.97 L80.26,393.83 L80.64,393.54 L81.02,393.67 L81.40,393.63 L81.78,393.43 L82.16,393.27 L82.54,393.39 L82.92,393.21 L83.30,393.09 L83.68,393.05 L84.06,393.09 L84.44,392.95 L84.82,392.99 L85.20,393.01 L85.58,392.98 L85.96,392.88 L86.34,392.99 L86.72,392.70 L87.10,392.76 L87.48,392.94 L87.86,392.89 L88.24,392.88 L88.62,392.80 L89.00,392.69 L89.38,392.76 L89.76,392.66 L90.14,392.47 L90.52,392.50 L90.90,392.42 L91.28,392.68 L91.66,392.46 L92.04,392.48 L92.42,392.51 L92.80,392.33 L93.18,392.53 L93.56,392.55 L93.94,392.53 L94.32,392.55 L94.70,392.33 L95.08,392.25 L95.46,392.46 L95.84,392.42 L96.22,392.29 L96.60,392.27 L98.12,392.15 L99.64,392.35 L101.16,392.18 L102.68,392.27 L104.20,392.06 L105.72,392.02 L107.24,392.06 L108.76,392.12 L110.28,392.14 L111.80,391.92 L113.32,392.02 L114.84,391.89 L116.36,392.04 L117.88,391.98 L119.40,391.89 L120.92,391.80 L122.44,391.75 L123.96,391.95 L125.48,391.91 L127.00,391.71 L128.52,391.62 L130.04,391.64 L131.56,391.91 L133.08,391.56 L134.60,391.83 L136.12,391.72 L137.64,391.71 L139.16,391.70 L140.68,391.64 L142.20,391.69 L143.72,391.51 L145.24,391.80 L146.76,391.50 L148.28,391.50 L149.80,391.69 L151.32,391.67 L152.84,391.72 L154.36,391.67 L155.88,391.75 L157.40,391.43 L158.92,391.41 L160.44,391.49 L161.96,391.68 L163.48,391.45 L165.00,391.58 L166.52,391.66 L168.04,391.44 L168.42,391.57 L168.80,391.71 L169.18,391.71 L169.56,391.63 L169.94,391.70 L170.32,391.67 L170.70,391.96 L171.08,391.94 L171.46,391.94 L171.84,391.85 L172.22,392.04 L172.60,391.99 L172.98,392.14 L173.36,392.02 L173.74,392.24 L174.12,392.20 L174.50,392.15 L174.88,392.22 L175.26,392.34 L175.64,392.28 L176.02,392.46 L176.40,392.15 L176.78,392.50 L177.16,392.46 L177.54,392.41 L177.92,392.57 L178.30,392.34 L178.68,392.43 L179.06,392.59 L179.44,392.66 L179.82,392.52 L180.20,392.77 L180.58,392.67 L180.96,392.47 L181.34,392.52 L181.72,392.53 L182.10,392.73 L182.48,392.66 L182.86,392.66 L183.24,392.74 L183.62,392.63 L184.00,392.95 L184.38,392.94 L184.76,392.86 L185.14,392.83 L185.52,392.80 L185.90,392.92 L186.28,392.85 L186.66,393.09 L187.04,393.10 L187.42,393.03 L187.80,393.08 L189.32,392.87 L190.84,392.94 L192.36,393.07 L193.88,393.03 L195.40,393.18 L196.92,393.42 L198.44,393.40 L199.96,393.47 L201.48,393.24 L203.00,393.26 L204.52,393.22 L206.04,393.33 L207.56,393.27 L209.08,393.46 L210.60,393.39 L212.12,393.55 L213.64,393.52 L215.16,393.55 L216.68,393.45 L218.20,393.62 L219.72,393.62 L221.24,393.64 L222.76,393.56 L224.28,393.57 L225.80,393.51 L227.32,393.43 L228.84,393.59 L230.36,393.65 L231.88,393.51 L233.40,393.76 L234.92,393.77 L236.44,393.77 L237.96,393.76 L239.48,393.65 L241.00,393.54 L242.52,393.58 L244.04,393.75 L245.56,393.84" fill="none" stroke="#b5520f" stroke-width="2.0" stroke-linejoin="round" stroke-linecap="round"/>
<path d="M56.70,394.36 L58.22,394.32 L59.74,394.45 L61.26,394.45 L62.78,394.54 L64.30,394.36 L65.82,394.62 L66.20,394.22 L66.58,394.20 L66.96,393.79 L67.34,393.59 L67.72,393.39 L68.10,393.54 L68.48,393.31 L68.86,393.34 L69.24,393.04 L69.62,393.24 L70.00,393.36 L70.38,393.55 L70.76,393.66 L71.14,393.52 L71.52,393.80 L71.90,394.23 L72.28,394.29 L72.66,394.66 L73.04,394.41 L73.42,394.33 L74.94,394.66 L76.46,394.41 L77.98,394.45 L78.36,394.30 L78.74,394.31 L79.12,394.38 L79.50,394.32 L79.88,394.24 L80.26,393.97 L80.64,394.12 L81.02,393.79 L81.40,393.89 L81.78,394.04 L82.16,393.75 L82.54,393.75 L82.92,393.80 L83.30,393.64 L83.68,393.78 L84.06,393.73 L84.44,393.50 L84.82,393.77 L85.20,393.44 L85.58,393.64 L85.96,393.50 L86.34,393.40 L86.72,393.36 L87.10,393.67 L87.48,393.58 L87.86,393.44 L88.24,393.55 L88.62,393.59 L89.00,393.56 L89.38,393.40 L89.76,393.30 L90.14,393.37 L90.52,393.53 L90.90,393.42 L91.28,393.39 L91.66,393.44 L92.04,393.27 L92.42,393.32 L92.80,393.41 L93.18,393.17 L93.56,393.39 L93.94,393.08 L94.32,393.26 L94.70,393.26 L95.08,393.10 L95.46,393.37 L95.84,393.19 L96.22,393.09 L96.60,393.16 L98.12,393.20 L99.64,393.12 L101.16,392.94 L102.68,392.95 L104.20,393.15 L105.72,392.92 L107.24,392.95 L108.76,393.13 L110.28,393.13 L111.80,393.12 L113.32,392.85 L114.84,392.78 L116.36,393.04 L117.88,392.97 L119.40,392.87 L120.92,392.74 L122.44,392.87 L123.96,392.79 L125.48,392.91 L127.00,393.04 L128.52,392.76 L130.04,392.70 L131.56,392.91 L133.08,392.70 L134.60,392.73 L136.12,392.80 L137.64,392.99 L139.16,392.75 L140.68,392.74 L142.20,392.79 L143.72,392.67 L145.24,392.75 L146.76,392.86 L148.28,392.72 L149.80,392.88 L151.32,392.66 L152.84,392.62 L154.36,392.81 L155.88,392.74 L157.40,392.91 L158.92,392.61 L160.44,392.84 L161.96,392.81 L163.48,392.70 L165.00,392.61 L166.52,392.78 L168.04,392.83 L168.42,392.73 L168.80,392.73 L169.18,392.84 L169.56,392.84 L169.94,392.80 L170.32,392.74 L170.70,392.87 L171.08,392.92 L171.46,393.07 L171.84,393.13 L172.22,393.00 L172.60,392.94 L172.98,392.92 L173.36,393.09 L173.74,393.15 L174.12,393.00 L174.50,393.18 L174.88,393.31 L175.26,393.11 L175.64,393.32 L176.02,393.16 L176.40,393.26 L176.78,393.35 L177.16,393.13 L177.54,393.20 L177.92,393.45 L178.30,393.13 L178.68,393.23 L179.06,393.31 L179.44,393.42 L179.82,393.40 L180.20,393.52 L180.58,393.44 L180.96,393.21 L181.34,393.25 L181.72,393.25 L182.10,393.41 L182.48,393.27 L182.86,393.46 L183.24,393.52 L183.62,393.37 L184.00,393.62 L184.38,393.47 L184.76,393.68 L185.14,393.47 L185.52,393.58 L185.90,393.56 L186.28,393.47 L186.66,393.66 L187.04,393.40 L187.42,393.49 L187.80,393.53 L189.32,393.76 L190.84,393.66 L192.36,393.52 L193.88,393.64 L195.40,393.78 L196.92,393.87 L198.44,393.64 L199.96,393.90 L201.48,393.78 L203.00,393.84 L204.52,393.82 L206.04,393.84 L207.56,394.05 L209.08,394.04 L210.60,394.05 L212.12,393.99 L213.64,393.99 L215.16,393.80 L216.68,393.77 L218.20,394.06 L219.72,394.01 L221.24,394.00 L222.76,393.89 L224.28,393.88 L225.80,394.12 L227.32,393.99 L228.84,393.81 L230.36,393.93 L231.88,393.94 L233.40,393.84 L234.92,394.17 L236.44,394.15 L237.96,394.12 L239.48,393.83 L241.00,393.98 L242.52,393.87 L244.04,394.10 L245.56,394.13" fill="none" stroke="#b5520f" stroke-width="2.0" stroke-linejoin="round" stroke-linecap="round"/>
<line x1="56.70" y1="316.70" x2="56.70" y2="400.00" stroke="#151515" stroke-width="1.15"/>
<line x1="56.10" y1="399.40" x2="249.00" y2="399.40" stroke="#151515" stroke-width="1.15"/>
<line x1="53.10" y1="399.40" x2="56.70" y2="399.40" stroke="#151515" stroke-width="1.1"/>
<text x="50.30" y="402.60" font-size="9.0" fill="#151515" stroke="#151515" text-anchor="end">-50</text>
<line x1="53.10" y1="379.80" x2="56.70" y2="379.80" stroke="#151515" stroke-width="1.1"/>
<text x="50.30" y="383.00" font-size="9.0" fill="#151515" stroke="#151515" text-anchor="end">150</text>
<line x1="53.10" y1="360.20" x2="56.70" y2="360.20" stroke="#151515" stroke-width="1.1"/>
<text x="50.30" y="363.40" font-size="9.0" fill="#151515" stroke="#151515" text-anchor="end">350</text>
<line x1="53.10" y1="340.60" x2="56.70" y2="340.60" stroke="#151515" stroke-width="1.1"/>
<text x="50.30" y="343.80" font-size="9.0" fill="#151515" stroke="#151515" text-anchor="end">550</text>
<line x1="53.10" y1="321.00" x2="56.70" y2="321.00" stroke="#151515" stroke-width="1.1"/>
<text x="50.30" y="324.20" font-size="9.0" fill="#151515" stroke="#151515" text-anchor="end">750</text>
<line x1="56.70" y1="399.40" x2="56.70" y2="403.00" stroke="#151515" stroke-width="1.1"/>
<text x="56.70" y="413.90" font-size="9.0" fill="#151515" stroke="#151515" text-anchor="middle">0</text>
<line x1="94.70" y1="399.40" x2="94.70" y2="403.00" stroke="#151515" stroke-width="1.1"/>
<text x="94.70" y="413.90" font-size="9.0" fill="#151515" stroke="#151515" text-anchor="middle">50</text>
<line x1="132.70" y1="399.40" x2="132.70" y2="403.00" stroke="#151515" stroke-width="1.1"/>
<text x="132.70" y="413.90" font-size="9.0" fill="#151515" stroke="#151515" text-anchor="middle">100</text>
<line x1="170.70" y1="399.40" x2="170.70" y2="403.00" stroke="#151515" stroke-width="1.1"/>
<text x="170.70" y="413.90" font-size="9.0" fill="#151515" stroke="#151515" text-anchor="middle">150</text>
<line x1="208.70" y1="399.40" x2="208.70" y2="403.00" stroke="#151515" stroke-width="1.1"/>
<text x="208.70" y="413.90" font-size="9.0" fill="#151515" stroke="#151515" text-anchor="middle">200</text>
<line x1="246.70" y1="399.40" x2="246.70" y2="403.00" stroke="#151515" stroke-width="1.1"/>
<text x="246.70" y="413.90" font-size="9.0" fill="#151515" stroke="#151515" text-anchor="middle">250</text>
<text transform="translate(30.1,357.70) rotate(-90)" font-size="10.6" text-anchor="middle" fill="#151515" stroke="#151515" textLength="55.2" lengthAdjust="spacingAndGlyphs">Response units</text>
<text x="139.00" y="427.60" font-size="9.9" fill="#151515" stroke="#151515" textLength="28.8" lengthAdjust="spacingAndGlyphs">Time [s]</text>
<text x="104.2" y="311.6" font-size="10" fill="#151515" stroke="#151515" textLength="87.7" lengthAdjust="spacingAndGlyphs"><tspan fill="#c27a3e" stroke="#c27a3e">C3</tspan> binding to C4b</text>
<line x1="104.20" y1="313.00" x2="116.80" y2="313.00" stroke="#c27a3e" stroke-width="0.9" opacity="0.75"/>
<line x1="116.80" y1="313.00" x2="191.90" y2="313.00" stroke="#666" stroke-width="0.9"/>
<path d="M56.70,538.46 L58.18,538.47 L59.66,538.22 L61.13,538.18 L62.61,538.21 L64.09,538.48 L65.57,538.48 L65.94,538.14 L66.31,537.82 L66.68,537.84 L67.05,537.39 L67.42,537.30 L67.78,537.05 L68.15,537.31 L68.52,537.05 L68.89,537.16 L69.26,537.19 L69.63,537.17 L70.00,537.41 L70.37,537.46 L70.74,537.68 L71.11,537.88 L71.48,537.76 L71.85,538.22 L72.22,538.26 L72.59,538.30 L72.96,538.30 L74.44,538.54 L75.91,538.20 L77.39,538.34 L77.76,534.02 L78.13,530.38 L78.50,526.48 L78.87,523.06 L79.24,519.70 L79.61,516.70 L79.98,513.64 L80.35,510.93 L80.72,508.47 L81.09,506.03 L81.46,503.82 L81.83,501.47 L82.20,499.65 L82.56,497.71 L82.93,495.86 L83.30,494.12 L83.67,492.60 L84.04,490.93 L84.41,489.53 L84.78,488.29 L85.15,486.98 L85.52,485.78 L85.89,484.91 L86.26,483.88 L86.63,482.85 L87.00,481.78 L87.37,481.10 L87.74,480.31 L88.11,479.46 L88.48,478.59 L88.85,478.02 L89.22,477.31 L89.59,476.65 L89.96,476.03 L90.32,475.74 L90.69,475.14 L91.06,474.75 L91.43,474.02 L91.80,473.61 L92.17,473.29 L92.54,472.74 L92.91,472.45 L93.28,472.19 L93.65,471.84 L94.02,471.68 L94.39,471.26 L94.76,471.00 L95.13,470.71 L95.50,470.53 L95.87,470.14 L97.34,469.15 L98.82,468.80 L100.30,468.16 L101.78,467.43 L103.26,467.01 L104.73,466.70 L106.21,466.55 L107.69,466.09 L109.17,465.81 L110.65,465.77 L112.12,465.40 L113.60,465.31 L115.08,465.19 L116.56,464.97 L118.04,464.76 L119.52,464.71 L120.99,464.58 L122.47,464.48 L123.95,464.40 L125.43,464.27 L126.91,464.15 L128.38,463.93 L129.86,464.13 L131.34,463.99 L132.82,463.81 L134.30,463.54 L135.77,463.54 L137.25,463.70 L138.73,463.45 L140.21,463.28 L141.69,463.43 L143.16,463.38 L144.64,463.03 L146.12,463.09 L147.60,463.05 L149.07,462.82 L150.55,462.83 L152.03,462.88 L153.51,462.83 L154.99,462.76 L156.47,462.70 L157.94,462.56 L159.42,462.39 L160.90,462.32 L162.38,462.57 L163.86,462.53 L165.33,462.49 L165.70,462.18 L166.07,462.42 L166.44,462.61 L166.81,463.69 L167.18,464.63 L167.55,465.85 L167.92,466.80 L168.29,467.75 L168.66,468.53 L169.03,469.65 L169.40,470.31 L169.77,471.31 L170.14,472.23 L170.51,472.93 L170.88,473.83 L171.25,474.57 L171.61,475.64 L171.98,476.23 L172.35,477.01 L172.72,477.84 L173.09,478.75 L173.46,479.50 L173.83,480.21 L174.20,481.07 L174.57,481.75 L174.94,482.27 L175.31,483.09 L175.68,483.65 L176.05,484.35 L176.42,484.99 L176.79,485.62 L177.16,486.36 L177.53,487.19 L177.90,487.74 L178.27,488.15 L178.63,488.80 L179.00,489.53 L179.37,490.10 L179.74,490.50 L180.11,491.09 L180.48,491.82 L180.85,492.39 L181.22,492.74 L181.59,493.52 L181.96,493.86 L182.33,494.50 L182.70,494.99 L183.07,495.42 L183.44,496.13 L183.81,496.42 L184.18,496.91 L184.55,497.42 L184.92,497.99 L186.39,499.82 L187.87,501.41 L189.35,502.89 L190.83,504.42 L192.31,505.77 L193.78,507.18 L195.26,508.39 L196.74,509.45 L198.22,510.32 L199.70,511.45 L201.17,512.34 L202.65,513.14 L204.13,514.16 L205.61,514.74 L207.09,515.64 L208.56,516.24 L210.04,516.85 L211.52,517.55 L213.00,518.12 L214.48,518.74 L215.95,519.24 L217.43,519.63 L218.91,519.88 L220.39,520.43 L221.87,520.75 L223.34,521.27 L224.82,521.43 L226.30,521.71 L227.78,521.89 L229.26,522.33 L230.73,522.61 L232.21,522.77 L233.69,522.93 L235.17,523.28 L236.65,523.33 L238.12,523.56 L239.60,523.83 L241.08,523.97" fill="none" stroke="#c31414" stroke-width="2.2" stroke-linejoin="round" stroke-linecap="round"/>
<path d="M56.70,538.36 L58.18,538.37 L59.66,538.32 L61.13,538.23 L62.61,538.19 L64.09,538.38 L65.57,538.53 L65.94,538.06 L66.31,537.86 L66.68,537.64 L67.05,537.61 L67.42,537.36 L67.78,537.34 L68.15,536.96 L68.52,536.95 L68.89,536.95 L69.26,537.03 L69.63,537.10 L70.00,537.19 L70.37,537.53 L70.74,537.50 L71.11,537.74 L71.48,538.08 L71.85,538.19 L72.22,538.39 L72.59,538.48 L72.96,538.30 L74.44,538.19 L75.91,538.52 L77.39,538.37 L77.76,535.67 L78.13,532.92 L78.50,530.72 L78.87,528.28 L79.24,526.19 L79.61,523.99 L79.98,522.25 L80.35,520.19 L80.72,518.39 L81.09,516.94 L81.46,515.12 L81.83,513.63 L82.20,512.29 L82.56,511.11 L82.93,509.52 L83.30,508.34 L83.67,507.40 L84.04,506.05 L84.41,505.14 L84.78,504.29 L85.15,503.34 L85.52,502.48 L85.89,501.40 L86.26,500.88 L86.63,499.94 L87.00,499.39 L87.37,498.58 L87.74,498.09 L88.11,497.33 L88.48,496.67 L88.85,496.08 L89.22,495.68 L89.59,495.02 L89.96,494.58 L90.32,494.39 L90.69,493.85 L91.06,493.55 L91.43,492.91 L91.80,492.66 L92.17,492.31 L92.54,491.84 L92.91,491.58 L93.28,491.52 L93.65,491.16 L94.02,490.81 L94.39,490.58 L94.76,490.43 L95.13,490.22 L95.50,489.87 L95.87,489.46 L97.34,488.99 L98.82,488.09 L100.30,487.58 L101.78,487.10 L103.26,486.85 L104.73,486.55 L106.21,486.22 L107.69,485.98 L109.17,485.64 L110.65,485.66 L112.12,485.42 L113.60,485.18 L115.08,485.23 L116.56,485.14 L118.04,485.01 L119.52,484.92 L120.99,484.49 L122.47,484.51 L123.95,484.44 L125.43,484.28 L126.91,484.37 L128.38,484.35 L129.86,484.00 L131.34,484.06 L132.82,484.15 L134.30,484.06 L135.77,483.83 L137.25,483.65 L138.73,483.71 L140.21,483.68 L141.69,483.72 L143.16,483.44 L144.64,483.42 L146.12,483.63 L147.60,483.23 L149.07,483.39 L150.55,483.16 L152.03,483.35 L153.51,483.19 L154.99,483.33 L156.47,483.03 L157.94,483.23 L159.42,482.95 L160.90,482.85 L162.38,482.83 L163.86,482.79 L165.33,482.87 L165.70,483.07 L166.07,482.84 L166.44,483.24 L166.81,483.68 L167.18,484.53 L167.55,485.21 L167.92,485.70 L168.29,486.52 L168.66,487.11 L169.03,487.70 L169.40,488.50 L169.77,489.06 L170.14,489.45 L170.51,490.04 L170.88,490.60 L171.25,491.25 L171.61,491.95 L171.98,492.63 L172.35,493.18 L172.72,493.68 L173.09,493.94 L173.46,494.71 L173.83,495.21 L174.20,495.62 L174.57,496.31 L174.94,496.66 L175.31,496.97 L175.68,497.49 L176.05,497.93 L176.42,498.57 L176.79,499.03 L177.16,499.56 L177.53,499.70 L177.90,500.14 L178.27,500.92 L178.63,501.09 L179.00,501.51 L179.37,502.14 L179.74,502.27 L180.11,502.92 L180.48,503.35 L180.85,503.62 L181.22,504.02 L181.59,504.18 L181.96,504.76 L182.33,505.13 L182.70,505.55 L183.07,505.81 L183.44,506.02 L183.81,506.40 L184.18,506.90 L184.55,507.02 L184.92,507.36 L186.39,508.68 L187.87,510.08 L189.35,511.11 L190.83,512.10 L192.31,513.32 L193.78,514.12 L195.26,514.88 L196.74,515.84 L198.22,516.73 L199.70,517.29 L201.17,518.01 L202.65,518.72 L204.13,519.48 L205.61,519.94 L207.09,520.32 L208.56,520.98 L210.04,521.38 L211.52,521.89 L213.00,522.40 L214.48,522.56 L215.95,523.12 L217.43,523.41 L218.91,523.85 L220.39,524.25 L221.87,524.42 L223.34,524.77 L224.82,524.91 L226.30,525.15 L227.78,525.48 L229.26,525.71 L230.73,525.81 L232.21,526.20 L233.69,526.29 L235.17,526.41 L236.65,526.54 L238.12,526.91 L239.60,527.08 L241.08,527.23" fill="none" stroke="#c31414" stroke-width="2.0" stroke-linejoin="round" stroke-linecap="round"/>
<path d="M56.70,538.27 L58.18,538.21 L59.66,538.41 L61.13,538.19 L62.61,538.49 L64.09,538.42 L65.57,538.30 L65.94,538.11 L66.31,537.98 L66.68,537.59 L67.05,537.48 L67.42,537.47 L67.78,537.30 L68.15,537.17 L68.52,536.94 L68.89,536.96 L69.26,536.99 L69.63,536.97 L70.00,537.28 L70.37,537.39 L70.74,537.68 L71.11,537.73 L71.48,538.07 L71.85,538.12 L72.22,538.37 L72.59,538.28 L72.96,538.35 L74.44,538.52 L75.91,538.36 L77.39,538.18 L77.76,536.60 L78.13,534.92 L78.50,533.53 L78.87,532.01 L79.24,530.60 L79.61,529.42 L79.98,528.09 L80.35,526.64 L80.72,525.46 L81.09,524.60 L81.46,523.52 L81.83,522.54 L82.20,521.53 L82.56,520.46 L82.93,519.74 L83.30,519.06 L83.67,518.19 L84.04,517.24 L84.41,516.56 L84.78,516.16 L85.15,515.38 L85.52,514.63 L85.89,514.23 L86.26,513.75 L86.63,513.19 L87.00,512.60 L87.37,512.17 L87.74,511.45 L88.11,511.14 L88.48,510.84 L88.85,510.27 L89.22,509.81 L89.59,509.70 L89.96,509.29 L90.32,508.70 L90.69,508.40 L91.06,508.27 L91.43,508.12 L91.80,507.72 L92.17,507.55 L92.54,507.01 L92.91,506.94 L93.28,506.56 L93.65,506.39 L94.02,506.11 L94.39,506.02 L94.76,505.67 L95.13,505.70 L95.50,505.52 L95.87,505.44 L97.34,504.77 L98.82,504.00 L100.30,503.84 L101.78,503.34 L103.26,503.15 L104.73,502.71 L106.21,502.31 L107.69,502.32 L109.17,501.94 L110.65,502.06 L112.12,501.75 L113.60,501.74 L115.08,501.47 L116.56,501.29 L118.04,501.31 L119.52,501.23 L120.99,501.05 L122.47,500.90 L123.95,500.87 L125.43,500.90 L126.91,500.65 L128.38,500.56 L129.86,500.61 L131.34,500.61 L132.82,500.34 L134.30,500.36 L135.77,500.56 L137.25,500.25 L138.73,500.38 L140.21,500.17 L141.69,500.04 L143.16,500.14 L144.64,500.23 L146.12,500.16 L147.60,499.85 L149.07,500.05 L150.55,499.98 L152.03,499.89 L153.51,499.92 L154.99,499.83 L156.47,499.68 L157.94,499.83 L159.42,499.59 L160.90,499.63 L162.38,499.79 L163.86,499.66 L165.33,499.61 L165.70,499.68 L166.07,499.59 L166.44,499.74 L166.81,500.26 L167.18,500.52 L167.55,501.09 L167.92,501.42 L168.29,502.20 L168.66,502.60 L169.03,502.93 L169.40,503.17 L169.77,503.83 L170.14,504.03 L170.51,504.62 L170.88,504.95 L171.25,505.32 L171.61,505.75 L171.98,505.96 L172.35,506.53 L172.72,506.79 L173.09,507.23 L173.46,507.61 L173.83,507.75 L174.20,508.15 L174.57,508.47 L174.94,508.70 L175.31,509.31 L175.68,509.57 L176.05,509.82 L176.42,510.15 L176.79,510.58 L177.16,510.59 L177.53,510.99 L177.90,511.41 L178.27,511.64 L178.63,511.92 L179.00,512.11 L179.37,512.38 L179.74,512.81 L180.11,512.97 L180.48,513.45 L180.85,513.69 L181.22,513.98 L181.59,513.98 L181.96,514.32 L182.33,514.42 L182.70,514.75 L183.07,514.89 L183.44,515.28 L183.81,515.67 L184.18,515.83 L184.55,515.91 L184.92,516.10 L186.39,517.20 L187.87,517.69 L189.35,518.73 L190.83,519.45 L192.31,519.84 L193.78,520.79 L195.26,521.28 L196.74,521.74 L198.22,522.29 L199.70,522.85 L201.17,523.29 L202.65,523.86 L204.13,524.28 L205.61,524.47 L207.09,524.73 L208.56,525.35 L210.04,525.63 L211.52,525.94 L213.00,526.02 L214.48,526.30 L215.95,526.85 L217.43,526.90 L218.91,527.17 L220.39,527.56 L221.87,527.49 L223.34,527.84 L224.82,527.81 L226.30,528.16 L227.78,528.38 L229.26,528.32 L230.73,528.68 L232.21,528.89 L233.69,528.96 L235.17,529.07 L236.65,529.24 L238.12,529.26 L239.60,529.30 L241.08,529.49" fill="none" stroke="#c31414" stroke-width="2.0" stroke-linejoin="round" stroke-linecap="round"/>
<path d="M56.70,538.47 L58.18,538.41 L59.66,538.42 L61.13,538.24 L62.61,538.30 L64.09,538.30 L65.57,538.49 L65.94,538.24 L66.31,537.84 L66.68,537.89 L67.05,537.37 L67.42,537.21 L67.78,537.17 L68.15,536.99 L68.52,537.24 L68.89,537.01 L69.26,537.04 L69.63,537.27 L70.00,537.25 L70.37,537.41 L70.74,537.50 L71.11,537.70 L71.48,538.08 L71.85,538.05 L72.22,538.37 L72.59,538.35 L72.96,538.23 L74.44,538.23 L75.91,538.36 L77.39,538.47 L77.76,537.29 L78.13,536.16 L78.50,535.52 L78.87,534.31 L79.24,533.71 L79.61,532.57 L79.98,531.98 L80.35,531.03 L80.72,530.34 L81.09,529.69 L81.46,529.13 L81.83,528.37 L82.20,527.75 L82.56,527.15 L82.93,526.62 L83.30,525.99 L83.67,525.71 L84.04,524.94 L84.41,524.44 L84.78,524.13 L85.15,523.62 L85.52,523.33 L85.89,522.68 L86.26,522.53 L86.63,522.04 L87.00,521.89 L87.37,521.33 L87.74,521.05 L88.11,520.69 L88.48,520.47 L88.85,520.09 L89.22,519.95 L89.59,519.59 L89.96,519.45 L90.32,519.05 L90.69,518.88 L91.06,518.69 L91.43,518.53 L91.80,518.30 L92.17,518.02 L92.54,517.71 L92.91,517.53 L93.28,517.37 L93.65,517.21 L94.02,517.05 L94.39,517.06 L94.76,516.80 L95.13,516.86 L95.50,516.47 L95.87,516.34 L97.34,515.83 L98.82,515.40 L100.30,515.23 L101.78,514.88 L103.26,514.49 L104.73,514.45 L106.21,514.19 L107.69,513.92 L109.17,513.82 L110.65,513.69 L112.12,513.48 L113.60,513.24 L115.08,513.23 L116.56,513.34 L118.04,513.04 L119.52,513.05 L120.99,512.78 L122.47,512.95 L123.95,512.92 L125.43,512.68 L126.91,512.62 L128.38,512.61 L129.86,512.46 L131.34,512.40 L132.82,512.32 L134.30,512.47 L135.77,512.37 L137.25,512.48 L138.73,512.44 L140.21,512.37 L141.69,512.36 L143.16,512.29 L144.64,511.96 L146.12,511.96 L147.60,512.23 L149.07,512.16 L150.55,512.04 L152.03,512.01 L153.51,511.92 L154.99,511.89 L156.47,511.76 L157.94,511.88 L159.42,511.75 L160.90,511.67 L162.38,511.92 L163.86,511.79 L165.33,511.88 L165.70,511.66 L166.07,511.76 L166.44,511.77 L166.81,512.27 L167.18,512.34 L167.55,512.79 L167.92,513.04 L168.29,513.24 L168.66,513.44 L169.03,513.86 L169.40,514.14 L169.77,514.51 L170.14,514.56 L170.51,514.81 L170.88,515.11 L171.25,515.54 L171.61,515.58 L171.98,515.97 L172.35,515.99 L172.72,516.25 L173.09,516.70 L173.46,516.86 L173.83,516.95 L174.20,517.30 L174.57,517.69 L174.94,517.70 L175.31,517.98 L175.68,518.14 L176.05,518.38 L176.42,518.41 L176.79,518.92 L177.16,519.00 L177.53,519.12 L177.90,519.28 L178.27,519.44 L178.63,519.89 L179.00,520.04 L179.37,520.06 L179.74,520.32 L180.11,520.47 L180.48,520.52 L180.85,520.63 L181.22,521.05 L181.59,521.01 L181.96,521.32 L182.33,521.28 L182.70,521.44 L183.07,521.65 L183.44,521.98 L183.81,522.11 L184.18,522.40 L184.55,522.42 L184.92,522.52 L186.39,522.89 L187.87,523.75 L189.35,524.08 L190.83,524.68 L192.31,524.82 L193.78,525.52 L195.26,525.78 L196.74,526.05 L198.22,526.46 L199.70,526.66 L201.17,527.15 L202.65,527.31 L204.13,527.75 L205.61,527.82 L207.09,528.24 L208.56,528.44 L210.04,528.69 L211.52,528.98 L213.00,528.93 L214.48,529.25 L215.95,529.31 L217.43,529.65 L218.91,529.77 L220.39,529.89 L221.87,529.96 L223.34,529.96 L224.82,530.31 L226.30,530.45 L227.78,530.54 L229.26,530.42 L230.73,530.69 L232.21,530.72 L233.69,530.86 L235.17,530.92 L236.65,530.87 L238.12,530.92 L239.60,531.13 L241.08,531.14" fill="none" stroke="#c31414" stroke-width="2.0" stroke-linejoin="round" stroke-linecap="round"/>
<path d="M56.70,538.37 L58.18,538.49 L59.66,538.19 L61.13,538.18 L62.61,538.35 L64.09,538.22 L65.57,538.48 L65.94,537.99 L66.31,538.05 L66.68,537.61 L67.05,537.39 L67.42,537.46 L67.78,537.30 L68.15,537.11 L68.52,537.11 L68.89,537.08 L69.26,537.24 L69.63,537.14 L70.00,537.25 L70.37,537.35 L70.74,537.49 L71.11,537.78 L71.48,537.78 L71.85,538.20 L72.22,538.51 L72.59,538.45 L72.96,538.38 L74.44,538.31 L75.91,538.22 L77.39,538.21 L77.76,537.72 L78.13,537.21 L78.50,536.60 L78.87,535.77 L79.24,535.42 L79.61,534.91 L79.98,534.28 L80.35,533.92 L80.72,533.20 L81.09,532.80 L81.46,532.43 L81.83,532.09 L82.20,531.59 L82.56,531.15 L82.93,530.98 L83.30,530.45 L83.67,530.12 L84.04,529.72 L84.41,529.50 L84.78,529.28 L85.15,528.86 L85.52,528.69 L85.89,528.36 L86.26,527.93 L86.63,528.02 L87.00,527.54 L87.37,527.40 L87.74,527.33 L88.11,526.85 L88.48,526.59 L88.85,526.45 L89.22,526.24 L89.59,526.31 L89.96,526.01 L90.32,525.67 L90.69,525.59 L91.06,525.52 L91.43,525.25 L91.80,525.16 L92.17,525.23 L92.54,524.93 L92.91,524.73 L93.28,524.74 L93.65,524.44 L94.02,524.47 L94.39,524.41 L94.76,524.10 L95.13,524.16 L95.50,523.98 L95.87,524.04 L97.34,523.64 L98.82,523.44 L100.30,523.07 L101.78,522.68 L103.26,522.48 L104.73,522.49 L106.21,522.36 L107.69,521.95 L109.17,521.96 L110.65,521.79 L112.12,521.76 L113.60,521.81 L115.08,521.62 L116.56,521.61 L118.04,521.54 L119.52,521.30 L120.99,521.36 L122.47,521.22 L123.95,521.20 L125.43,521.17 L126.91,521.18 L128.38,520.95 L129.86,521.15 L131.34,520.87 L132.82,520.89 L134.30,521.04 L135.77,521.06 L137.25,520.80 L138.73,520.98 L140.21,520.62 L141.69,520.92 L143.16,520.62 L144.64,520.53 L146.12,520.77 L147.60,520.53 L149.07,520.72 L150.55,520.43 L152.03,520.44 L153.51,520.51 L154.99,520.39 L156.47,520.51 L157.94,520.44 L159.42,520.56 L160.90,520.45 L162.38,520.61 L163.86,520.55 L165.33,520.29 L165.70,520.55 L166.07,520.54 L166.44,520.50 L166.81,520.68 L167.18,520.74 L167.55,520.99 L167.92,521.14 L168.29,521.31 L168.66,521.65 L169.03,521.72 L169.40,522.06 L169.77,522.16 L170.14,522.42 L170.51,522.33 L170.88,522.77 L171.25,522.81 L171.61,523.01 L171.98,523.03 L172.35,523.35 L172.72,523.40 L173.09,523.67 L173.46,523.77 L173.83,523.75 L174.20,523.96 L174.57,524.26 L174.94,524.14 L175.31,524.50 L175.68,524.60 L176.05,524.80 L176.42,524.79 L176.79,524.98 L177.16,525.11 L177.53,525.33 L177.90,525.21 L178.27,525.49 L178.63,525.52 L179.00,525.76 L179.37,525.76 L179.74,525.86 L180.11,525.98 L180.48,526.33 L180.85,526.25 L181.22,526.55 L181.59,526.60 L181.96,526.54 L182.33,526.75 L182.70,526.65 L183.07,527.09 L183.44,527.08 L183.81,526.99 L184.18,527.23 L184.55,527.32 L184.92,527.48 L186.39,527.70 L187.87,528.27 L189.35,528.48 L190.83,528.59 L192.31,529.14 L193.78,529.43 L195.26,529.48 L196.74,529.86 L198.22,530.14 L199.70,530.36 L201.17,530.26 L202.65,530.73 L204.13,530.69 L205.61,531.06 L207.09,531.17 L208.56,531.24 L210.04,531.54 L211.52,531.63 L213.00,531.82 L214.48,531.92 L215.95,531.90 L217.43,532.06 L218.91,532.13 L220.39,532.12 L221.87,532.24 L223.34,532.33 L224.82,532.30 L226.30,532.39 L227.78,532.67 L229.26,532.73 L230.73,532.74 L232.21,532.79 L233.69,532.78 L235.17,532.85 L236.65,532.93 L238.12,532.74 L239.60,532.94 L241.08,533.17" fill="none" stroke="#c31414" stroke-width="2.0" stroke-linejoin="round" stroke-linecap="round"/>
<path d="M56.70,538.25 L58.18,538.35 L59.66,538.21 L61.13,538.27 L62.61,538.48 L64.09,538.19 L65.57,538.47 L65.94,538.24 L66.31,538.05 L66.68,537.62 L67.05,537.68 L67.42,537.32 L67.78,537.22 L68.15,537.30 L68.52,537.10 L68.89,537.13 L69.26,536.94 L69.63,536.96 L70.00,537.15 L70.37,537.22 L70.74,537.64 L71.11,537.62 L71.48,538.08 L71.85,538.20 L72.22,538.25 L72.59,538.44 L72.96,538.29 L74.44,538.37 L75.91,538.21 L77.39,538.48 L77.76,538.05 L78.13,537.58 L78.50,537.24 L78.87,536.74 L79.24,536.31 L79.61,536.04 L79.98,535.87 L80.35,535.49 L80.72,535.03 L81.09,534.78 L81.46,534.58 L81.83,534.14 L82.20,533.89 L82.56,533.79 L82.93,533.43 L83.30,533.47 L83.67,532.97 L84.04,532.98 L84.41,532.79 L84.78,532.42 L85.15,532.30 L85.52,532.28 L85.89,531.97 L86.26,531.71 L86.63,531.76 L87.00,531.34 L87.37,531.43 L87.74,531.05 L88.11,530.95 L88.48,530.77 L88.85,530.76 L89.22,530.71 L89.59,530.52 L89.96,530.22 L90.32,530.39 L90.69,530.19 L91.06,530.00 L91.43,530.02 L91.80,529.65 L92.17,529.73 L92.54,529.71 L92.91,529.61 L93.28,529.49 L93.65,529.19 L94.02,529.25 L94.39,529.10 L94.76,529.15 L95.13,529.00 L95.50,528.95 L95.87,528.91 L97.34,528.67 L98.82,528.56 L100.30,528.15 L101.78,527.98 L103.26,527.79 L104.73,527.63 L106.21,527.78 L107.69,527.70 L109.17,527.32 L110.65,527.31 L112.12,527.43 L113.60,527.34 L115.08,527.32 L116.56,527.27 L118.04,526.96 L119.52,526.83 L120.99,526.85 L122.47,526.89 L123.95,526.68 L125.43,526.72 L126.91,526.77 L128.38,526.81 L129.86,526.59 L131.34,526.54 L132.82,526.59 L134.30,526.48 L135.77,526.46 L137.25,526.43 L138.73,526.65 L140.21,526.66 L141.69,526.34 L143.16,526.59 L144.64,526.58 L146.12,526.49 L147.60,526.35 L149.07,526.52 L150.55,526.23 L152.03,526.20 L153.51,526.51 L154.99,526.23 L156.47,526.47 L157.94,526.39 L159.42,526.12 L160.90,526.13 L162.38,526.31 L163.86,526.12 L165.33,526.29 L165.70,526.29 L166.07,526.13 L166.44,526.27 L166.81,526.30 L167.18,526.66 L167.55,526.70 L167.92,526.84 L168.29,526.94 L168.66,526.85 L169.03,527.27 L169.40,527.34 L169.77,527.36 L170.14,527.50 L170.51,527.57 L170.88,527.77 L171.25,527.80 L171.61,527.81 L171.98,528.00 L172.35,527.99 L172.72,528.02 L173.09,528.30 L173.46,528.53 L173.83,528.57 L174.20,528.48 L174.57,528.68 L174.94,528.80 L175.31,528.89 L175.68,528.93 L176.05,529.04 L176.42,529.19 L176.79,529.34 L177.16,529.29 L177.53,529.47 L177.90,529.52 L178.27,529.39 L178.63,529.52 L179.00,529.62 L179.37,529.71 L179.74,529.84 L180.11,529.84 L180.48,530.16 L180.85,530.14 L181.22,530.08 L181.59,530.27 L181.96,530.42 L182.33,530.21 L182.70,530.45 L183.07,530.63 L183.44,530.49 L183.81,530.73 L184.18,530.77 L184.55,530.66 L184.92,530.65 L186.39,531.13 L187.87,531.21 L189.35,531.39 L190.83,531.63 L192.31,531.91 L193.78,532.14 L195.26,532.31 L196.74,532.41 L198.22,532.35 L199.70,532.55 L201.17,532.55 L202.65,532.74 L204.13,532.91 L205.61,532.96 L207.09,533.17 L208.56,533.14 L210.04,533.41 L211.52,533.41 L213.00,533.43 L214.48,533.67 L215.95,533.61 L217.43,533.57 L218.91,533.92 L220.39,533.95 L221.87,534.05 L223.34,533.89 L224.82,533.93 L226.30,534.13 L227.78,533.98 L229.26,534.32 L230.73,534.24 L232.21,534.24 L233.69,534.10 L235.17,534.21 L236.65,534.29 L238.12,534.52 L239.60,534.25 L241.08,534.43" fill="none" stroke="#c31414" stroke-width="2.0" stroke-linejoin="round" stroke-linecap="round"/>
<path d="M56.70,538.21 L58.18,538.53 L59.66,538.45 L61.13,538.47 L62.61,538.45 L64.09,538.24 L65.57,538.27 L65.94,537.97 L66.31,537.93 L66.68,537.56 L67.05,537.41 L67.42,537.25 L67.78,537.39 L68.15,537.24 L68.52,537.00 L68.89,537.23 L69.26,536.96 L69.63,537.01 L70.00,537.19 L70.37,537.47 L70.74,537.38 L71.11,537.81 L71.48,537.93 L71.85,538.24 L72.22,538.30 L72.59,538.20 L72.96,538.22 L74.44,538.44 L75.91,538.36 L77.39,538.45 L77.76,537.99 L78.13,537.77 L78.50,537.50 L78.87,537.49 L79.24,537.22 L79.61,536.80 L79.98,536.80 L80.35,536.35 L80.72,536.31 L81.09,536.05 L81.46,536.05 L81.83,535.87 L82.20,535.69 L82.56,535.35 L82.93,535.14 L83.30,535.21 L83.67,535.09 L84.04,534.70 L84.41,534.87 L84.78,534.76 L85.15,534.45 L85.52,534.39 L85.89,534.32 L86.26,534.31 L86.63,534.10 L87.00,533.95 L87.37,533.95 L87.74,533.75 L88.11,533.49 L88.48,533.59 L88.85,533.46 L89.22,533.35 L89.59,533.29 L89.96,533.15 L90.32,533.11 L90.69,533.20 L91.06,533.18 L91.43,532.96 L91.80,533.03 L92.17,532.71 L92.54,532.79 L92.91,532.82 L93.28,532.78 L93.65,532.58 L94.02,532.45 L94.39,532.69 L94.76,532.51 L95.13,532.48 L95.50,532.32 L95.87,532.20 L97.34,532.20 L98.82,532.00 L100.30,532.05 L101.78,531.86 L103.26,531.80 L104.73,531.65 L106.21,531.64 L107.69,531.35 L109.17,531.60 L110.65,531.39 L112.12,531.35 L113.60,531.16 L115.08,531.08 L116.56,531.26 L118.04,531.23 L119.52,531.18 L120.99,531.00 L122.47,531.06 L123.95,531.13 L125.43,531.06 L126.91,531.14 L128.38,530.82 L129.86,531.05 L131.34,530.75 L132.82,530.95 L134.30,530.90 L135.77,530.72 L137.25,530.83 L138.73,530.90 L140.21,530.96 L141.69,530.66 L143.16,530.80 L144.64,530.89 L146.12,530.64 L147.60,530.90 L149.07,530.91 L150.55,530.68 L152.03,530.62 L153.51,530.59 L154.99,530.61 L156.47,530.67 L157.94,530.76 L159.42,530.83 L160.90,530.69 L162.38,530.82 L163.86,530.62 L165.33,530.70 L165.70,530.46 L166.07,530.61 L166.44,530.50 L166.81,530.62 L167.18,530.94 L167.55,530.77 L167.92,530.91 L168.29,531.06 L168.66,531.14 L169.03,531.03 L169.40,531.13 L169.77,531.41 L170.14,531.38 L170.51,531.33 L170.88,531.54 L171.25,531.57 L171.61,531.86 L171.98,531.58 L172.35,531.69 L172.72,531.72 L173.09,531.95 L173.46,532.16 L173.83,532.15 L174.20,531.97 L174.57,532.18 L174.94,532.17 L175.31,532.45 L175.68,532.41 L176.05,532.43 L176.42,532.36 L176.79,532.47 L177.16,532.56 L177.53,532.56 L177.90,532.67 L178.27,532.55 L178.63,532.72 L179.00,532.97 L179.37,532.81 L179.74,532.89 L180.11,533.03 L180.48,533.10 L180.85,533.11 L181.22,533.03 L181.59,533.19 L181.96,533.05 L182.33,533.24 L182.70,533.07 L183.07,533.17 L183.44,533.21 L183.81,533.31 L184.18,533.49 L184.55,533.27 L184.92,533.62 L186.39,533.48 L187.87,533.93 L189.35,534.06 L190.83,534.06 L192.31,534.25 L193.78,534.40 L195.26,534.32 L196.74,534.57 L198.22,534.36 L199.70,534.72 L201.17,534.75 L202.65,534.87 L204.13,534.72 L205.61,534.76 L207.09,534.98 L208.56,535.07 L210.04,535.16 L211.52,535.03 L213.00,535.22 L214.48,535.41 L215.95,535.19 L217.43,535.44 L218.91,535.53 L220.39,535.46 L221.87,535.41 L223.34,535.44 L224.82,535.49 L226.30,535.39 L227.78,535.40 L229.26,535.50 L230.73,535.49 L232.21,535.77 L233.69,535.60 L235.17,535.80 L236.65,535.71 L238.12,535.85 L239.60,535.87 L241.08,535.81" fill="none" stroke="#c31414" stroke-width="2.0" stroke-linejoin="round" stroke-linecap="round"/>
<path d="M56.70,538.34 L58.18,538.27 L59.66,538.38 L61.13,538.29 L62.61,538.48 L64.09,538.20 L65.57,538.41 L65.94,538.08 L66.31,537.89 L66.68,537.73 L67.05,537.70 L67.42,537.54 L67.78,537.18 L68.15,537.30 L68.52,537.24 L68.89,537.07 L69.26,537.10 L69.63,537.03 L70.00,537.34 L70.37,537.36 L70.74,537.62 L71.11,537.86 L71.48,537.96 L71.85,538.20 L72.22,538.38 L72.59,538.23 L72.96,538.35 L74.44,538.20 L75.91,538.25 L77.39,538.53 L77.76,538.13 L78.13,537.87 L78.50,537.80 L78.87,537.50 L79.24,537.54 L79.61,537.25 L79.98,537.10 L80.35,537.11 L80.72,537.08 L81.09,536.62 L81.46,536.75 L81.83,536.58 L82.20,536.43 L82.56,536.29 L82.93,536.03 L83.30,536.05 L83.67,536.01 L84.04,535.85 L84.41,535.99 L84.78,535.67 L85.15,535.76 L85.52,535.67 L85.89,535.58 L86.26,535.40 L86.63,535.32 L87.00,535.38 L87.37,535.05 L87.74,535.02 L88.11,534.88 L88.48,534.99 L88.85,534.91 L89.22,535.04 L89.59,534.97 L89.96,534.73 L90.32,534.71 L90.69,534.52 L91.06,534.70 L91.43,534.57 L91.80,534.40 L92.17,534.61 L92.54,534.27 L92.91,534.29 L93.28,534.35 L93.65,534.50 L94.02,534.15 L94.39,534.16 L94.76,534.32 L95.13,534.12 L95.50,534.30 L95.87,533.95 L97.34,533.91 L98.82,533.84 L100.30,533.95 L101.78,533.60 L103.26,533.74 L104.73,533.76 L106.21,533.73 L107.69,533.62 L109.17,533.31 L110.65,533.43 L112.12,533.30 L113.60,533.23 L115.08,533.24 L116.56,533.39 L118.04,533.31 L119.52,533.13 L120.99,533.16 L122.47,533.07 L123.95,533.36 L125.43,533.28 L126.91,533.16 L128.38,533.32 L129.86,533.31 L131.34,533.02 L132.82,533.03 L134.30,532.99 L135.77,533.14 L137.25,533.11 L138.73,533.07 L140.21,533.16 L141.69,533.06 L143.16,532.97 L144.64,533.09 L146.12,533.18 L147.60,532.85 L149.07,533.00 L150.55,532.86 L152.03,533.07 L153.51,532.95 L154.99,533.09 L156.47,533.03 L157.94,533.12 L159.42,532.98 L160.90,532.98 L162.38,533.11 L163.86,533.04 L165.33,532.87 L165.70,532.78 L166.07,533.08 L166.44,532.79 L166.81,533.15 L167.18,533.21 L167.55,533.17 L167.92,533.32 L168.29,533.25 L168.66,533.35 L169.03,533.35 L169.40,533.26 L169.77,533.26 L170.14,533.55 L170.51,533.49 L170.88,533.42 L171.25,533.62 L171.61,533.56 L171.98,533.60 L172.35,533.87 L172.72,533.82 L173.09,533.91 L173.46,533.97 L173.83,533.88 L174.20,533.92 L174.57,533.96 L174.94,533.97 L175.31,534.16 L175.68,534.23 L176.05,534.06 L176.42,534.25 L176.79,534.11 L177.16,534.07 L177.53,534.35 L177.90,534.41 L178.27,534.29 L178.63,534.56 L179.00,534.49 L179.37,534.38 L179.74,534.57 L180.11,534.64 L180.48,534.41 L180.85,534.72 L181.22,534.58 L181.59,534.55 L181.96,534.62 L182.33,534.71 L182.70,534.73 L183.07,534.68 L183.44,534.62 L183.81,534.85 L184.18,534.91 L184.55,534.93 L184.92,534.85 L186.39,535.12 L187.87,534.91 L189.35,535.04 L190.83,535.09 L192.31,535.36 L193.78,535.42 L195.26,535.39 L196.74,535.56 L198.22,535.43 L199.70,535.51 L201.17,535.89 L202.65,535.92 L204.13,535.67 L205.61,535.93 L207.09,535.92 L208.56,535.97 L210.04,536.12 L211.52,536.09 L213.00,536.23 L214.48,536.17 L215.95,536.28 L217.43,536.02 L218.91,536.30 L220.39,536.15 L221.87,536.39 L223.34,536.37 L224.82,536.45 L226.30,536.39 L227.78,536.28 L229.26,536.35 L230.73,536.46 L232.21,536.21 L233.69,536.40 L235.17,536.42 L236.65,536.49 L238.12,536.37 L239.60,536.48 L241.08,536.53" fill="none" stroke="#c31414" stroke-width="2.0" stroke-linejoin="round" stroke-linecap="round"/>
<path d="M56.70,538.32 L58.18,538.43 L59.66,538.51 L61.13,538.31 L62.61,538.37 L64.09,538.35 L65.57,538.48 L65.94,538.05 L66.31,537.84 L66.68,537.67 L67.05,537.58 L67.42,537.24 L67.78,537.41 L68.15,537.14 L68.52,537.16 L68.89,537.03 L69.26,536.91 L69.63,537.10 L70.00,537.26 L70.37,537.22 L70.74,537.70 L71.11,537.74 L71.48,537.90 L71.85,537.96 L72.22,538.27 L72.59,538.30 L72.96,538.41 L74.44,538.24 L75.91,538.35 L77.39,538.28 L77.76,538.26 L78.13,538.19 L78.50,538.02 L78.87,537.99 L79.24,537.85 L79.61,537.55 L79.98,537.66 L80.35,537.51 L80.72,537.52 L81.09,537.50 L81.46,537.20 L81.83,537.30 L82.20,537.01 L82.56,537.08 L82.93,536.78 L83.30,537.01 L83.67,536.81 L84.04,536.75 L84.41,536.70 L84.78,536.60 L85.15,536.49 L85.52,536.60 L85.89,536.53 L86.26,536.27 L86.63,536.30 L87.00,536.49 L87.37,536.21 L87.74,536.17 L88.11,536.23 L88.48,536.12 L88.85,536.28 L89.22,536.26 L89.59,535.92 L89.96,535.92 L90.32,535.86 L90.69,535.93 L91.06,535.84 L91.43,535.95 L91.80,536.00 L92.17,535.67 L92.54,535.63 L92.91,535.64 L93.28,535.68 L93.65,535.59 L94.02,535.68 L94.39,535.63 L94.76,535.74 L95.13,535.80 L95.50,535.79 L95.87,535.57 L97.34,535.57 L98.82,535.32 L100.30,535.44 L101.78,535.49 L103.26,535.44 L104.73,535.14 L106.21,535.11 L107.69,535.34 L109.17,535.24 L110.65,535.24 L112.12,534.97 L113.60,535.15 L115.08,534.91 L116.56,535.15 L118.04,535.16 L119.52,534.97 L120.99,534.84 L122.47,535.09 L123.95,535.18 L125.43,535.03 L126.91,534.93 L128.38,534.90 L129.86,535.07 L131.34,535.12 L132.82,534.89 L134.30,534.83 L135.77,535.10 L137.25,534.89 L138.73,534.89 L140.21,534.83 L141.69,534.98 L143.16,535.06 L144.64,534.87 L146.12,535.00 L147.60,534.84 L149.07,534.84 L150.55,534.97 L152.03,535.02 L153.51,534.94 L154.99,534.92 L156.47,534.96 L157.94,534.99 L159.42,535.00 L160.90,534.84 L162.38,534.78 L163.86,534.64 L165.33,534.83 L165.70,534.76 L166.07,534.63 L166.44,535.01 L166.81,534.79 L167.18,535.05 L167.55,534.76 L167.92,534.91 L168.29,535.10 L168.66,535.09 L169.03,535.12 L169.40,535.09 L169.77,534.98 L170.14,535.27 L170.51,535.28 L170.88,535.21 L171.25,535.27 L171.61,535.38 L171.98,535.30 L172.35,535.32 L172.72,535.35 L173.09,535.47 L173.46,535.50 L173.83,535.38 L174.20,535.56 L174.57,535.44 L174.94,535.58 L175.31,535.49 L175.68,535.71 L176.05,535.75 L176.42,535.71 L176.79,535.59 L177.16,535.60 L177.53,535.66 L177.90,535.74 L178.27,535.56 L178.63,535.76 L179.00,535.92 L179.37,535.63 L179.74,535.95 L180.11,535.86 L180.48,536.03 L180.85,535.95 L181.22,535.97 L181.59,536.00 L181.96,535.90 L182.33,535.81 L182.70,536.09 L183.07,536.12 L183.44,536.08 L183.81,535.92 L184.18,536.03 L184.55,536.06 L184.92,536.02 L186.39,536.13 L187.87,536.18 L189.35,536.42 L190.83,536.35 L192.31,536.53 L193.78,536.55 L195.26,536.33 L196.74,536.59 L198.22,536.49 L199.70,536.60 L201.17,536.63 L202.65,536.72 L204.13,536.60 L205.61,536.76 L207.09,536.68 L208.56,536.85 L210.04,536.78 L211.52,536.85 L213.00,537.00 L214.48,536.76 L215.95,536.68 L217.43,537.02 L218.91,536.91 L220.39,536.97 L221.87,537.05 L223.34,537.09 L224.82,536.92 L226.30,537.15 L227.78,536.94 L229.26,537.08 L230.73,537.12 L232.21,536.97 L233.69,537.00 L235.17,536.99 L236.65,536.99 L238.12,537.02 L239.60,537.18 L241.08,536.91" fill="none" stroke="#c31414" stroke-width="2.0" stroke-linejoin="round" stroke-linecap="round"/>
<path d="M56.70,538.54 L58.18,538.46 L59.66,538.38 L61.13,538.41 L62.61,538.29 L64.09,538.46 L65.57,538.49 L65.94,538.09 L66.31,537.92 L66.68,537.61 L67.05,537.43 L67.42,537.49 L67.78,537.29 L68.15,537.12 L68.52,537.13 L68.89,536.95 L69.26,536.90 L69.63,537.09 L70.00,537.26 L70.37,537.25 L70.74,537.54 L71.11,537.65 L71.48,537.83 L71.85,538.22 L72.22,538.31 L72.59,538.45 L72.96,538.45 L74.44,538.32 L75.91,538.19 L77.39,538.48 L77.76,538.32 L78.13,538.28 L78.50,538.26 L78.87,538.16 L79.24,538.25 L79.61,537.88 L79.98,538.18 L80.35,538.01 L80.72,537.89 L81.09,538.03 L81.46,537.99 L81.83,537.84 L82.20,537.60 L82.56,537.78 L82.93,537.67 L83.30,537.70 L83.67,537.76 L84.04,537.48 L84.41,537.71 L84.78,537.49 L85.15,537.44 L85.52,537.34 L85.89,537.34 L86.26,537.38 L86.63,537.45 L87.00,537.57 L87.37,537.28 L87.74,537.30 L88.11,537.31 L88.48,537.38 L88.85,537.26 L89.22,537.36 L89.59,537.16 L89.96,537.10 L90.32,537.28 L90.69,537.31 L91.06,537.09 L91.43,537.04 L91.80,537.25 L92.17,537.02 L92.54,537.32 L92.91,537.22 L93.28,537.02 L93.65,537.10 L94.02,536.96 L94.39,536.96 L94.76,537.04 L95.13,537.22 L95.50,537.23 L95.87,537.16 L97.34,537.08 L98.82,537.04 L100.30,536.98 L101.78,537.01 L103.26,536.93 L104.73,536.88 L106.21,537.02 L107.69,536.81 L109.17,536.84 L110.65,536.92 L112.12,537.02 L113.60,536.78 L115.08,536.81 L116.56,536.79 L118.04,536.71 L119.52,536.76 L120.99,536.91 L122.47,536.68 L123.95,536.78 L125.43,536.71 L126.91,536.81 L128.38,536.87 L129.86,536.63 L131.34,536.76 L132.82,536.65 L134.30,536.81 L135.77,536.82 L137.25,536.65 L138.73,536.65 L140.21,536.68 L141.69,536.68 L143.16,536.88 L144.64,536.87 L146.12,536.84 L147.60,536.69 L149.07,536.71 L150.55,536.62 L152.03,536.71 L153.51,536.88 L154.99,536.57 L156.47,536.68 L157.94,536.61 L159.42,536.84 L160.90,536.64 L162.38,536.71 L163.86,536.55 L165.33,536.77 L165.70,536.71 L166.07,536.81 L166.44,536.79 L166.81,536.81 L167.18,536.66 L167.55,536.67 L167.92,536.81 L168.29,536.62 L168.66,536.96 L169.03,536.89 L169.40,536.82 L169.77,536.79 L170.14,536.70 L170.51,536.89 L170.88,536.98 L171.25,536.75 L171.61,536.76 L171.98,536.98 L172.35,536.92 L172.72,537.05 L173.09,536.92 L173.46,537.14 L173.83,537.11 L174.20,536.92 L174.57,537.01 L174.94,537.04 L175.31,537.00 L175.68,537.14 L176.05,537.11 L176.42,537.17 L176.79,536.97 L177.16,537.07 L177.53,537.10 L177.90,537.12 L178.27,536.93 L178.63,537.22 L179.00,537.10 L179.37,537.00 L179.74,537.26 L180.11,537.17 L180.48,537.24 L180.85,537.25 L181.22,537.21 L181.59,537.33 L181.96,537.03 L182.33,537.14 L182.70,537.08 L183.07,537.26 L183.44,537.12 L183.81,537.06 L184.18,537.10 L184.55,537.12 L184.92,537.26 L186.39,537.26 L187.87,537.29 L189.35,537.15 L190.83,537.36 L192.31,537.28 L193.78,537.25 L195.26,537.25 L196.74,537.31 L198.22,537.41 L199.70,537.35 L201.17,537.47 L202.65,537.37 L204.13,537.59 L205.61,537.66 L207.09,537.47 L208.56,537.39 L210.04,537.72 L211.52,537.42 L213.00,537.63 L214.48,537.68 L215.95,537.59 L217.43,537.74 L218.91,537.48 L220.39,537.70 L221.87,537.77 L223.34,537.77 L224.82,537.76 L226.30,537.62 L227.78,537.65 L229.26,537.78 L230.73,537.61 L232.21,537.57 L233.69,537.49 L235.17,537.56 L236.65,537.54 L238.12,537.83 L239.60,537.61 L241.08,537.63" fill="none" stroke="#c31414" stroke-width="2.0" stroke-linejoin="round" stroke-linecap="round"/>
<line x1="56.70" y1="459.60" x2="56.70" y2="542.90" stroke="#151515" stroke-width="1.15"/>
<line x1="56.10" y1="542.30" x2="243.50" y2="542.30" stroke="#151515" stroke-width="1.15"/>
<line x1="53.10" y1="542.30" x2="56.70" y2="542.30" stroke="#151515" stroke-width="1.1"/>
<text x="50.30" y="545.50" font-size="9.0" fill="#151515" stroke="#151515" text-anchor="end">-50</text>
<line x1="53.10" y1="526.54" x2="56.70" y2="526.54" stroke="#151515" stroke-width="1.1"/>
<text x="50.30" y="529.74" font-size="9.0" fill="#151515" stroke="#151515" text-anchor="end">150</text>
<line x1="53.10" y1="510.78" x2="56.70" y2="510.78" stroke="#151515" stroke-width="1.1"/>
<text x="50.30" y="513.98" font-size="9.0" fill="#151515" stroke="#151515" text-anchor="end">350</text>
<line x1="53.10" y1="495.02" x2="56.70" y2="495.02" stroke="#151515" stroke-width="1.1"/>
<text x="50.30" y="498.22" font-size="9.0" fill="#151515" stroke="#151515" text-anchor="end">550</text>
<line x1="53.10" y1="479.26" x2="56.70" y2="479.26" stroke="#151515" stroke-width="1.1"/>
<text x="50.30" y="482.46" font-size="9.0" fill="#151515" stroke="#151515" text-anchor="end">750</text>
<line x1="53.10" y1="463.50" x2="56.70" y2="463.50" stroke="#151515" stroke-width="1.1"/>
<text x="50.30" y="466.70" font-size="9.0" fill="#151515" stroke="#151515" text-anchor="end">950</text>
<line x1="56.70" y1="542.30" x2="56.70" y2="545.90" stroke="#151515" stroke-width="1.1"/>
<text x="56.70" y="556.80" font-size="9.0" fill="#151515" stroke="#151515" text-anchor="middle">0</text>
<line x1="93.65" y1="542.30" x2="93.65" y2="545.90" stroke="#151515" stroke-width="1.1"/>
<text x="93.65" y="556.80" font-size="9.0" fill="#151515" stroke="#151515" text-anchor="middle">50</text>
<line x1="130.60" y1="542.30" x2="130.60" y2="545.90" stroke="#151515" stroke-width="1.1"/>
<text x="130.60" y="556.80" font-size="9.0" fill="#151515" stroke="#151515" text-anchor="middle">100</text>
<line x1="167.55" y1="542.30" x2="167.55" y2="545.90" stroke="#151515" stroke-width="1.1"/>
<text x="167.55" y="556.80" font-size="9.0" fill="#151515" stroke="#151515" text-anchor="middle">150</text>
<line x1="204.50" y1="542.30" x2="204.50" y2="545.90" stroke="#151515" stroke-width="1.1"/>
<text x="204.50" y="556.80" font-size="9.0" fill="#151515" stroke="#151515" text-anchor="middle">200</text>
<line x1="241.45" y1="542.30" x2="241.45" y2="545.90" stroke="#151515" stroke-width="1.1"/>
<text x="241.45" y="556.80" font-size="9.0" fill="#151515" stroke="#151515" text-anchor="middle">250</text>
<text transform="translate(30.1,498.50) rotate(-90)" font-size="10.6" text-anchor="middle" fill="#151515" stroke="#151515" textLength="55.2" lengthAdjust="spacingAndGlyphs">Response units</text>
<text x="104.2" y="454.6" font-size="10" fill="#151515" stroke="#151515" textLength="87.7" lengthAdjust="spacingAndGlyphs"><tspan fill="#c0283c" stroke="#c0283c">C5</tspan> binding to C4b</text>
<line x1="104.20" y1="456.00" x2="116.80" y2="456.00" stroke="#c0283c" stroke-width="0.9" opacity="0.75"/>
<line x1="116.80" y1="456.00" x2="191.90" y2="456.00" stroke="#666" stroke-width="0.9"/>
<path d="M338.57,113.85 L339.91,113.79 L341.25,113.72 L342.60,113.64 L343.94,113.57 L345.28,113.49 L346.62,113.40 L347.96,113.31 L349.30,113.22 L350.64,113.13 L351.98,113.03 L353.33,112.92 L354.67,112.81 L356.01,112.69 L357.35,112.57 L358.69,112.44 L360.03,112.31 L361.37,112.17 L362.71,112.02 L364.06,111.87 L365.40,111.71 L366.74,111.54 L368.08,111.37 L369.42,111.19 L370.76,111.00 L372.10,110.80 L373.44,110.59 L374.79,110.37 L376.13,110.14 L377.47,109.90 L378.82,109.66 L380.19,109.40 L381.57,109.13 L382.94,108.85 L384.32,108.55 L385.69,108.25 L387.07,107.93 L388.44,107.59 L389.82,107.25 L391.19,106.89 L392.57,106.51 L393.94,106.13 L395.32,105.72 L396.70,105.30 L398.07,104.86 L399.45,104.41 L400.82,103.94 L402.20,103.45 L403.57,102.95 L404.95,102.42 L406.32,101.88 L407.70,101.32 L409.07,100.74 L410.45,100.14 L411.82,99.52 L413.20,98.89 L414.57,98.23 L415.95,97.55 L417.32,96.85 L418.70,96.13 L420.07,95.40 L421.45,94.64 L422.82,93.86 L424.20,93.06 L425.57,92.24 L426.95,91.41 L428.32,90.55 L429.70,89.68 L431.07,88.79 L432.45,87.88 L433.83,86.95 L435.20,86.01 L436.58,85.05 L437.95,84.08 L439.33,83.09 L440.70,82.09 L442.08,81.08 L443.45,80.05 L444.85,79.02 L446.25,77.98 L447.65,76.93 L449.05,75.87 L450.44,74.81 L451.84,73.75 L453.24,72.68 L454.64,71.61 L456.04,70.54 L457.44,69.47 L458.84,68.40 L460.23,67.34 L461.63,66.28 L463.03,65.22 L464.43,64.18 L465.83,63.14 L467.23,62.11 L468.63,61.09 L470.02,60.09 L471.42,59.09 L472.82,58.11 L474.22,57.15 L475.62,56.20 L477.02,55.26 L478.41,54.34 L479.81,53.44 L481.21,52.56 L482.61,51.69 L484.01,50.84 L485.41,50.01 L486.81,49.21 L488.20,48.42 L489.60,47.65 L491.00,46.90 L492.40,46.17 L493.80,45.46" fill="none" stroke="#303030" stroke-width="1.8" stroke-linejoin="round" stroke-linecap="round"/>
<circle cx="338.10" cy="113.00" r="3.5" fill="#bd5812"/>
<circle cx="357.50" cy="111.80" r="3.5" fill="#bd5812"/>
<circle cx="377.20" cy="108.60" r="3.5" fill="#bd5812"/>
<circle cx="396.50" cy="103.50" r="3.5" fill="#bd5812"/>
<circle cx="415.75" cy="96.25" r="3.5" fill="#bd5812"/>
<circle cx="435.25" cy="86.50" r="3.5" fill="#bd5812"/>
<circle cx="454.25" cy="75.00" r="3.5" fill="#bd5812"/>
<circle cx="473.50" cy="61.00" r="3.5" fill="#bd5812"/>
<circle cx="493.00" cy="45.00" r="3.5" fill="#bd5812"/>
<circle cx="493.00" cy="46.80" r="3.5" fill="#bd5812"/>
<line x1="315.30" y1="33.00" x2="315.30" y2="115.80" stroke="#151515" stroke-width="1.15"/>
<line x1="314.70" y1="115.20" x2="510.40" y2="115.20" stroke="#151515" stroke-width="1.15"/>
<line x1="311.70" y1="115.20" x2="315.30" y2="115.20" stroke="#151515" stroke-width="1.1"/>
<text x="308.90" y="118.40" font-size="9.0" fill="#151515" stroke="#151515" text-anchor="end">0</text>
<line x1="311.70" y1="96.80" x2="315.30" y2="96.80" stroke="#151515" stroke-width="1.1"/>
<text x="308.90" y="100.00" font-size="9.0" fill="#151515" stroke="#151515" text-anchor="end">100</text>
<line x1="311.70" y1="78.40" x2="315.30" y2="78.40" stroke="#151515" stroke-width="1.1"/>
<text x="308.90" y="81.60" font-size="9.0" fill="#151515" stroke="#151515" text-anchor="end">200</text>
<line x1="311.70" y1="60.00" x2="315.30" y2="60.00" stroke="#151515" stroke-width="1.1"/>
<text x="308.90" y="63.20" font-size="9.0" fill="#151515" stroke="#151515" text-anchor="end">300</text>
<line x1="311.70" y1="41.60" x2="315.30" y2="41.60" stroke="#151515" stroke-width="1.1"/>
<text x="308.90" y="44.80" font-size="9.0" fill="#151515" stroke="#151515" text-anchor="end">400</text>
<line x1="315.20" y1="115.20" x2="315.20" y2="118.80" stroke="#151515" stroke-width="1.1"/>
<text x="315.20" y="129.40" font-size="9.0" fill="#151515" stroke="#151515" text-anchor="middle">0.01</text>
<line x1="334.26" y1="115.20" x2="334.26" y2="117.40" stroke="#151515" stroke-width="0.8"/>
<line x1="345.40" y1="115.20" x2="345.40" y2="117.40" stroke="#151515" stroke-width="0.8"/>
<line x1="353.31" y1="115.20" x2="353.31" y2="117.40" stroke="#151515" stroke-width="0.8"/>
<line x1="359.44" y1="115.20" x2="359.44" y2="117.40" stroke="#151515" stroke-width="0.8"/>
<line x1="364.46" y1="115.20" x2="364.46" y2="117.40" stroke="#151515" stroke-width="0.8"/>
<line x1="368.69" y1="115.20" x2="368.69" y2="117.40" stroke="#151515" stroke-width="0.8"/>
<line x1="372.37" y1="115.20" x2="372.37" y2="117.40" stroke="#151515" stroke-width="0.8"/>
<line x1="375.60" y1="115.20" x2="375.60" y2="117.40" stroke="#151515" stroke-width="0.8"/>
<line x1="378.50" y1="115.20" x2="378.50" y2="118.80" stroke="#151515" stroke-width="1.1"/>
<text x="378.50" y="129.40" font-size="9.0" fill="#151515" stroke="#151515" text-anchor="middle">0.1</text>
<line x1="398.04" y1="115.20" x2="398.04" y2="117.40" stroke="#151515" stroke-width="0.8"/>
<line x1="409.47" y1="115.20" x2="409.47" y2="117.40" stroke="#151515" stroke-width="0.8"/>
<line x1="417.57" y1="115.20" x2="417.57" y2="117.40" stroke="#151515" stroke-width="0.8"/>
<line x1="423.86" y1="115.20" x2="423.86" y2="117.40" stroke="#151515" stroke-width="0.8"/>
<line x1="429.00" y1="115.20" x2="429.00" y2="117.40" stroke="#151515" stroke-width="0.8"/>
<line x1="433.35" y1="115.20" x2="433.35" y2="117.40" stroke="#151515" stroke-width="0.8"/>
<line x1="437.11" y1="115.20" x2="437.11" y2="117.40" stroke="#151515" stroke-width="0.8"/>
<line x1="440.43" y1="115.20" x2="440.43" y2="117.40" stroke="#151515" stroke-width="0.8"/>
<line x1="443.40" y1="115.20" x2="443.40" y2="118.80" stroke="#151515" stroke-width="1.1"/>
<text x="443.40" y="129.40" font-size="9.0" fill="#151515" stroke="#151515" text-anchor="middle">1</text>
<line x1="463.27" y1="115.20" x2="463.27" y2="117.40" stroke="#151515" stroke-width="0.8"/>
<line x1="474.89" y1="115.20" x2="474.89" y2="117.40" stroke="#151515" stroke-width="0.8"/>
<line x1="483.14" y1="115.20" x2="483.14" y2="117.40" stroke="#151515" stroke-width="0.8"/>
<line x1="489.53" y1="115.20" x2="489.53" y2="117.40" stroke="#151515" stroke-width="0.8"/>
<line x1="494.76" y1="115.20" x2="494.76" y2="117.40" stroke="#151515" stroke-width="0.8"/>
<line x1="499.18" y1="115.20" x2="499.18" y2="117.40" stroke="#151515" stroke-width="0.8"/>
<line x1="503.00" y1="115.20" x2="503.00" y2="117.40" stroke="#151515" stroke-width="0.8"/>
<line x1="506.38" y1="115.20" x2="506.38" y2="117.40" stroke="#151515" stroke-width="0.8"/>
<line x1="509.40" y1="115.20" x2="509.40" y2="118.80" stroke="#151515" stroke-width="1.1"/>
<text x="509.40" y="129.40" font-size="9.0" fill="#151515" stroke="#151515" text-anchor="middle">10</text>
<text transform="translate(288.40,73.60) rotate(-90)" font-size="10.6" text-anchor="middle" fill="#151515" stroke="#151515" textLength="55.2" lengthAdjust="spacingAndGlyphs">Response units</text>
<text x="358.50" y="144.40" font-size="9.7" fill="#151515" stroke="#151515" textLength="82.5" lengthAdjust="spacingAndGlyphs">C3 concentration [µM]</text>
<text x="327.3" y="51.5" font-size="7.5" fill="#151515" stroke="#151515" textLength="77.3" lengthAdjust="spacingAndGlyphs"><tspan font-style="italic">K</tspan><tspan font-size="5.3" dy="1.7">D</tspan><tspan dy="-1.7"> (estimate): 1.5 µM</tspan></text>
<text x="378.70" y="61.00" font-size="7.5" fill="#151515" stroke="#151515" textLength="37.2" lengthAdjust="spacingAndGlyphs">(± 0.2 nM)</text>
<path d="M318.99,256.76 L320.30,256.73 L321.60,256.69 L322.90,256.66 L324.21,256.62 L325.51,256.58 L326.81,256.54 L328.12,256.50 L329.42,256.46 L330.72,256.41 L332.02,256.36 L333.33,256.31 L334.63,256.25 L335.93,256.20 L337.24,256.14 L338.54,256.08 L339.84,256.01 L341.15,255.94 L342.45,255.87 L343.75,255.79 L345.06,255.71 L346.36,255.63 L347.66,255.54 L348.97,255.45 L350.27,255.36 L351.57,255.26 L352.88,255.15 L354.18,255.04 L355.48,254.92 L356.78,254.80 L358.09,254.67 L359.39,254.54 L360.69,254.40 L362.00,254.26 L363.30,254.10 L364.60,253.94 L365.91,253.77 L367.21,253.60 L368.51,253.41 L369.82,253.22 L371.12,253.02 L372.42,252.80 L373.73,252.58 L375.03,252.35 L376.33,252.11 L377.67,251.85 L379.01,251.59 L380.34,251.31 L381.68,251.02 L383.02,250.72 L384.35,250.40 L385.69,250.07 L387.03,249.72 L388.37,249.36 L389.70,248.98 L391.04,248.59 L392.38,248.18 L393.71,247.75 L395.05,247.30 L396.39,246.84 L397.73,246.35 L399.06,245.84 L400.40,245.32 L401.74,244.77 L403.07,244.20 L404.41,243.60 L405.75,242.99 L407.08,242.34 L408.42,241.68 L409.76,240.99 L411.10,240.27 L412.43,239.52 L413.77,238.75 L415.11,237.95 L416.44,237.12 L417.78,236.26 L419.12,235.37 L420.45,234.46 L421.79,233.51 L423.13,232.53 L424.47,231.52 L425.80,230.48 L427.14,229.41 L428.48,228.30 L429.81,227.17 L431.15,226.00 L432.49,224.81 L433.83,223.58 L435.16,222.32 L436.50,221.03 L437.84,219.71 L439.17,218.36 L440.50,216.98 L441.82,215.57 L443.15,214.14 L444.47,212.68 L445.80,211.20 L447.12,209.69 L448.45,208.16 L449.77,206.61 L451.09,205.03 L452.42,203.44 L453.74,201.84 L455.07,200.21 L456.39,198.58 L457.72,196.93 L459.04,195.27 L460.37,193.61 L461.69,191.94 L463.01,190.26 L464.34,188.59 L465.66,186.91 L466.99,185.24 L468.31,183.57" fill="none" stroke="#303030" stroke-width="1.8" stroke-linejoin="round" stroke-linecap="round"/>
<circle cx="318.10" cy="256.70" r="3.5" fill="#c50f15"/>
<circle cx="337.30" cy="255.80" r="3.5" fill="#c50f15"/>
<circle cx="356.20" cy="253.50" r="3.5" fill="#c50f15"/>
<circle cx="375.40" cy="251.00" r="3.5" fill="#c50f15"/>
<circle cx="393.75" cy="246.25" r="3.5" fill="#c50f15"/>
<circle cx="412.50" cy="239.50" r="3.5" fill="#c50f15"/>
<circle cx="431.50" cy="224.00" r="3.5" fill="#c50f15"/>
<circle cx="450.00" cy="209.50" r="3.5" fill="#c50f15"/>
<circle cx="468.75" cy="181.25" r="3.5" fill="#c50f15"/>
<circle cx="468.75" cy="183.50" r="3.5" fill="#c50f15"/>
<line x1="315.10" y1="178.00" x2="315.10" y2="258.00" stroke="#151515" stroke-width="1.15"/>
<line x1="314.50" y1="257.40" x2="504.60" y2="257.40" stroke="#151515" stroke-width="1.15"/>
<line x1="311.50" y1="257.40" x2="315.10" y2="257.40" stroke="#151515" stroke-width="1.1"/>
<text x="308.70" y="260.60" font-size="9.0" fill="#151515" stroke="#151515" text-anchor="end">0</text>
<line x1="311.50" y1="239.80" x2="315.10" y2="239.80" stroke="#151515" stroke-width="1.1"/>
<text x="308.70" y="243.00" font-size="9.0" fill="#151515" stroke="#151515" text-anchor="end">100</text>
<line x1="311.50" y1="222.20" x2="315.10" y2="222.20" stroke="#151515" stroke-width="1.1"/>
<text x="308.70" y="225.40" font-size="9.0" fill="#151515" stroke="#151515" text-anchor="end">200</text>
<line x1="311.50" y1="204.60" x2="315.10" y2="204.60" stroke="#151515" stroke-width="1.1"/>
<text x="308.70" y="207.80" font-size="9.0" fill="#151515" stroke="#151515" text-anchor="end">300</text>
<line x1="311.50" y1="187.00" x2="315.10" y2="187.00" stroke="#151515" stroke-width="1.1"/>
<text x="308.70" y="190.20" font-size="9.0" fill="#151515" stroke="#151515" text-anchor="end">400</text>
<line x1="314.80" y1="257.40" x2="314.80" y2="261.00" stroke="#151515" stroke-width="1.1"/>
<text x="314.80" y="271.60" font-size="9.0" fill="#151515" stroke="#151515" text-anchor="middle">0.01</text>
<line x1="333.31" y1="257.40" x2="333.31" y2="259.60" stroke="#151515" stroke-width="0.8"/>
<line x1="344.14" y1="257.40" x2="344.14" y2="259.60" stroke="#151515" stroke-width="0.8"/>
<line x1="351.83" y1="257.40" x2="351.83" y2="259.60" stroke="#151515" stroke-width="0.8"/>
<line x1="357.79" y1="257.40" x2="357.79" y2="259.60" stroke="#151515" stroke-width="0.8"/>
<line x1="362.66" y1="257.40" x2="362.66" y2="259.60" stroke="#151515" stroke-width="0.8"/>
<line x1="366.77" y1="257.40" x2="366.77" y2="259.60" stroke="#151515" stroke-width="0.8"/>
<line x1="370.34" y1="257.40" x2="370.34" y2="259.60" stroke="#151515" stroke-width="0.8"/>
<line x1="373.49" y1="257.40" x2="373.49" y2="259.60" stroke="#151515" stroke-width="0.8"/>
<line x1="376.30" y1="257.40" x2="376.30" y2="261.00" stroke="#151515" stroke-width="1.1"/>
<text x="376.30" y="271.60" font-size="9.0" fill="#151515" stroke="#151515" text-anchor="middle">0.1</text>
<line x1="395.29" y1="257.40" x2="395.29" y2="259.60" stroke="#151515" stroke-width="0.8"/>
<line x1="406.41" y1="257.40" x2="406.41" y2="259.60" stroke="#151515" stroke-width="0.8"/>
<line x1="414.29" y1="257.40" x2="414.29" y2="259.60" stroke="#151515" stroke-width="0.8"/>
<line x1="420.41" y1="257.40" x2="420.41" y2="259.60" stroke="#151515" stroke-width="0.8"/>
<line x1="425.40" y1="257.40" x2="425.40" y2="259.60" stroke="#151515" stroke-width="0.8"/>
<line x1="429.63" y1="257.40" x2="429.63" y2="259.60" stroke="#151515" stroke-width="0.8"/>
<line x1="433.28" y1="257.40" x2="433.28" y2="259.60" stroke="#151515" stroke-width="0.8"/>
<line x1="436.51" y1="257.40" x2="436.51" y2="259.60" stroke="#151515" stroke-width="0.8"/>
<line x1="439.40" y1="257.40" x2="439.40" y2="261.00" stroke="#151515" stroke-width="1.1"/>
<text x="439.40" y="271.60" font-size="9.0" fill="#151515" stroke="#151515" text-anchor="middle">1</text>
<line x1="458.21" y1="257.40" x2="458.21" y2="259.60" stroke="#151515" stroke-width="0.8"/>
<line x1="469.22" y1="257.40" x2="469.22" y2="259.60" stroke="#151515" stroke-width="0.8"/>
<line x1="477.03" y1="257.40" x2="477.03" y2="259.60" stroke="#151515" stroke-width="0.8"/>
<line x1="483.09" y1="257.40" x2="483.09" y2="259.60" stroke="#151515" stroke-width="0.8"/>
<line x1="488.03" y1="257.40" x2="488.03" y2="259.60" stroke="#151515" stroke-width="0.8"/>
<line x1="492.22" y1="257.40" x2="492.22" y2="259.60" stroke="#151515" stroke-width="0.8"/>
<line x1="495.84" y1="257.40" x2="495.84" y2="259.60" stroke="#151515" stroke-width="0.8"/>
<line x1="499.04" y1="257.40" x2="499.04" y2="259.60" stroke="#151515" stroke-width="0.8"/>
<line x1="501.90" y1="257.40" x2="501.90" y2="261.00" stroke="#151515" stroke-width="1.1"/>
<text x="501.90" y="271.60" font-size="9.0" fill="#151515" stroke="#151515" text-anchor="middle">10</text>
<text transform="translate(287.90,217.40) rotate(-90)" font-size="10.6" text-anchor="middle" fill="#151515" stroke="#151515" textLength="55.2" lengthAdjust="spacingAndGlyphs">Response units</text>
<text x="368.60" y="286.40" font-size="9.7" fill="#151515" stroke="#151515" textLength="82.5" lengthAdjust="spacingAndGlyphs">C5 concentration [µM]</text>
<text x="327.3" y="193.1" font-size="7.5" fill="#151515" stroke="#151515" textLength="77.3" lengthAdjust="spacingAndGlyphs"><tspan font-style="italic">K</tspan><tspan font-size="5.3" dy="1.7">D</tspan><tspan dy="-1.7"> (estimate): 2.5 µM</tspan></text>
<text x="378.70" y="202.70" font-size="7.5" fill="#151515" stroke="#151515" textLength="37.2" lengthAdjust="spacingAndGlyphs">(± 0.3 pM)</text>
<path d="M314.20,399.93 L315.55,399.92 L316.89,399.91 L318.24,399.89 L319.58,399.88 L320.93,399.86 L322.27,399.84 L323.62,399.83 L324.96,399.81 L326.31,399.79 L327.66,399.77 L329.00,399.75 L330.35,399.72 L331.69,399.70 L333.04,399.68 L334.38,399.65 L335.73,399.62 L337.07,399.59 L338.42,399.56 L339.76,399.53 L341.11,399.50 L342.46,399.46 L343.80,399.43 L345.15,399.39 L346.49,399.35 L347.84,399.30 L349.18,399.26 L350.53,399.21 L351.87,399.16 L353.22,399.11 L354.57,399.06 L355.91,399.00 L357.26,398.94 L358.60,398.88 L359.95,398.82 L361.29,398.75 L362.64,398.67 L363.98,398.60 L365.33,398.52 L366.68,398.44 L368.02,398.35 L369.37,398.26 L370.71,398.16 L372.06,398.06 L373.40,397.96 L374.75,397.85 L376.09,397.73 L377.44,397.61 L378.81,397.48 L380.19,397.35 L381.57,397.21 L382.94,397.06 L384.32,396.91 L385.70,396.75 L387.07,396.58 L388.45,396.40 L389.83,396.22 L391.21,396.02 L392.58,395.82 L393.96,395.61 L395.34,395.39 L396.72,395.15 L398.09,394.91 L399.47,394.65 L400.85,394.39 L402.22,394.11 L403.60,393.82 L404.98,393.51 L406.36,393.19 L407.73,392.86 L409.11,392.51 L410.49,392.15 L411.87,391.76 L413.24,391.37 L414.62,390.95 L416.00,390.52 L417.38,390.07 L418.75,389.59 L420.13,389.10 L421.51,388.59 L422.88,388.05 L424.26,387.50 L425.64,386.92 L427.02,386.31 L428.39,385.68 L429.77,385.03 L431.15,384.35 L432.53,383.64 L433.90,382.91 L435.28,382.14 L436.66,381.35 L438.03,380.53 L439.41,379.67 L440.79,378.79 L442.17,377.87 L443.52,376.93 L444.87,375.95 L446.22,374.93 L447.56,373.88 L448.91,372.80 L450.25,371.68 L451.60,370.53 L452.94,369.35 L454.29,368.12 L455.63,366.87 L456.98,365.57 L458.33,364.25 L459.67,362.88 L461.02,361.49 L462.36,360.05 L463.71,358.59 L465.05,357.09 L466.40,355.56 L467.74,353.99 L469.09,352.40 L470.43,350.77 L471.78,349.12 L473.13,347.44 L474.47,345.73 L475.82,344.00 L477.16,342.25 L478.51,340.47 L479.85,338.68 L481.20,336.86 L482.54,335.03 L483.89,333.19 L485.24,331.34 L486.58,329.47 L487.93,327.60 L489.27,325.72 L490.62,323.84 L491.96,321.96" fill="none" stroke="#303030" stroke-width="1.8" stroke-linejoin="round" stroke-linecap="round"/>
<circle cx="337.90" cy="399.20" r="3.5" fill="#bd5812"/>
<circle cx="357.10" cy="398.40" r="3.5" fill="#bd5812"/>
<circle cx="376.30" cy="396.80" r="3.5" fill="#bd5812"/>
<circle cx="395.75" cy="394.50" r="3.5" fill="#bd5812"/>
<circle cx="415.25" cy="389.75" r="3.5" fill="#bd5812"/>
<circle cx="434.50" cy="382.50" r="3.5" fill="#bd5812"/>
<circle cx="453.75" cy="369.50" r="3.5" fill="#bd5812"/>
<circle cx="472.75" cy="350.00" r="3.5" fill="#bd5812"/>
<circle cx="492.25" cy="321.25" r="3.5" fill="#bd5812"/>
<circle cx="492.25" cy="326.25" r="3.5" fill="#bd5812"/>
<line x1="314.60" y1="314.20" x2="314.60" y2="400.80" stroke="#151515" stroke-width="1.15"/>
<line x1="314.00" y1="400.20" x2="507.50" y2="400.20" stroke="#151515" stroke-width="1.15"/>
<line x1="311.00" y1="400.20" x2="314.60" y2="400.20" stroke="#151515" stroke-width="1.1"/>
<text x="308.20" y="403.40" font-size="9.0" fill="#151515" stroke="#151515" text-anchor="end">0</text>
<line x1="311.00" y1="379.56" x2="314.60" y2="379.56" stroke="#151515" stroke-width="1.1"/>
<text x="308.20" y="382.76" font-size="9.0" fill="#151515" stroke="#151515" text-anchor="end">200</text>
<line x1="311.00" y1="358.92" x2="314.60" y2="358.92" stroke="#151515" stroke-width="1.1"/>
<text x="308.20" y="362.12" font-size="9.0" fill="#151515" stroke="#151515" text-anchor="end">400</text>
<line x1="311.00" y1="338.28" x2="314.60" y2="338.28" stroke="#151515" stroke-width="1.1"/>
<text x="308.20" y="341.48" font-size="9.0" fill="#151515" stroke="#151515" text-anchor="end">600</text>
<line x1="311.00" y1="317.64" x2="314.60" y2="317.64" stroke="#151515" stroke-width="1.1"/>
<text x="308.20" y="320.84" font-size="9.0" fill="#151515" stroke="#151515" text-anchor="end">800</text>
<line x1="314.20" y1="400.20" x2="314.20" y2="403.80" stroke="#151515" stroke-width="1.1"/>
<text x="314.20" y="414.40" font-size="9.0" fill="#151515" stroke="#151515" text-anchor="middle">0.01</text>
<line x1="333.32" y1="400.20" x2="333.32" y2="402.40" stroke="#151515" stroke-width="0.8"/>
<line x1="344.50" y1="400.20" x2="344.50" y2="402.40" stroke="#151515" stroke-width="0.8"/>
<line x1="352.43" y1="400.20" x2="352.43" y2="402.40" stroke="#151515" stroke-width="0.8"/>
<line x1="358.58" y1="400.20" x2="358.58" y2="402.40" stroke="#151515" stroke-width="0.8"/>
<line x1="363.61" y1="400.20" x2="363.61" y2="402.40" stroke="#151515" stroke-width="0.8"/>
<line x1="367.86" y1="400.20" x2="367.86" y2="402.40" stroke="#151515" stroke-width="0.8"/>
<line x1="371.55" y1="400.20" x2="371.55" y2="402.40" stroke="#151515" stroke-width="0.8"/>
<line x1="374.79" y1="400.20" x2="374.79" y2="402.40" stroke="#151515" stroke-width="0.8"/>
<line x1="377.70" y1="400.20" x2="377.70" y2="403.80" stroke="#151515" stroke-width="1.1"/>
<text x="377.70" y="414.40" font-size="9.0" fill="#151515" stroke="#151515" text-anchor="middle">0.1</text>
<line x1="397.27" y1="400.20" x2="397.27" y2="402.40" stroke="#151515" stroke-width="0.8"/>
<line x1="408.71" y1="400.20" x2="408.71" y2="402.40" stroke="#151515" stroke-width="0.8"/>
<line x1="416.83" y1="400.20" x2="416.83" y2="402.40" stroke="#151515" stroke-width="0.8"/>
<line x1="423.13" y1="400.20" x2="423.13" y2="402.40" stroke="#151515" stroke-width="0.8"/>
<line x1="428.28" y1="400.20" x2="428.28" y2="402.40" stroke="#151515" stroke-width="0.8"/>
<line x1="432.63" y1="400.20" x2="432.63" y2="402.40" stroke="#151515" stroke-width="0.8"/>
<line x1="436.40" y1="400.20" x2="436.40" y2="402.40" stroke="#151515" stroke-width="0.8"/>
<line x1="439.73" y1="400.20" x2="439.73" y2="402.40" stroke="#151515" stroke-width="0.8"/>
<line x1="442.70" y1="400.20" x2="442.70" y2="403.80" stroke="#151515" stroke-width="1.1"/>
<text x="442.70" y="414.40" font-size="9.0" fill="#151515" stroke="#151515" text-anchor="middle">1</text>
<line x1="461.82" y1="400.20" x2="461.82" y2="402.40" stroke="#151515" stroke-width="0.8"/>
<line x1="473.00" y1="400.20" x2="473.00" y2="402.40" stroke="#151515" stroke-width="0.8"/>
<line x1="480.93" y1="400.20" x2="480.93" y2="402.40" stroke="#151515" stroke-width="0.8"/>
<line x1="487.08" y1="400.20" x2="487.08" y2="402.40" stroke="#151515" stroke-width="0.8"/>
<line x1="492.11" y1="400.20" x2="492.11" y2="402.40" stroke="#151515" stroke-width="0.8"/>
<line x1="496.36" y1="400.20" x2="496.36" y2="402.40" stroke="#151515" stroke-width="0.8"/>
<line x1="500.05" y1="400.20" x2="500.05" y2="402.40" stroke="#151515" stroke-width="0.8"/>
<line x1="503.29" y1="400.20" x2="503.29" y2="402.40" stroke="#151515" stroke-width="0.8"/>
<line x1="506.20" y1="400.20" x2="506.20" y2="403.80" stroke="#151515" stroke-width="1.1"/>
<text x="506.20" y="414.40" font-size="9.0" fill="#151515" stroke="#151515" text-anchor="middle">10</text>
<text transform="translate(287.90,357.30) rotate(-90)" font-size="10.6" text-anchor="middle" fill="#151515" stroke="#151515" textLength="55.2" lengthAdjust="spacingAndGlyphs">Response units</text>
<text x="371.20" y="429.40" font-size="9.7" fill="#151515" stroke="#151515" textLength="82.5" lengthAdjust="spacingAndGlyphs">C3 concentration [µM]</text>
<text x="327.3" y="335.0" font-size="7.5" fill="#151515" stroke="#151515" textLength="77.3" lengthAdjust="spacingAndGlyphs"><tspan font-style="italic">K</tspan><tspan font-size="5.3" dy="1.7">D</tspan><tspan dy="-1.7"> (estimate): 5.8 µM</tspan></text>
<text x="378.70" y="344.00" font-size="7.5" fill="#151515" stroke="#151515" textLength="37.2" lengthAdjust="spacingAndGlyphs">(± 32 pM)</text>
<path d="M318.37,542.53 L319.67,542.47 L320.97,542.42 L322.26,542.36 L323.56,542.30 L324.86,542.23 L326.15,542.16 L327.45,542.09 L328.75,542.02 L330.04,541.94 L331.34,541.86 L332.64,541.77 L333.93,541.68 L335.23,541.59 L336.53,541.49 L337.82,541.39 L339.12,541.28 L340.42,541.17 L341.72,541.05 L343.01,540.92 L344.31,540.79 L345.61,540.66 L346.90,540.51 L348.20,540.36 L349.50,540.21 L350.79,540.04 L352.09,539.87 L353.39,539.69 L354.68,539.50 L355.98,539.31 L357.28,539.10 L358.57,538.88 L359.87,538.66 L361.17,538.42 L362.46,538.18 L363.76,537.92 L365.06,537.65 L366.35,537.37 L367.65,537.08 L368.95,536.77 L370.24,536.45 L371.54,536.12 L372.84,535.77 L374.13,535.41 L375.43,535.03 L376.78,534.64 L378.12,534.22 L379.46,533.80 L380.81,533.35 L382.15,532.89 L383.49,532.41 L384.84,531.91 L386.18,531.39 L387.52,530.85 L388.87,530.28 L390.21,529.70 L391.55,529.10 L392.90,528.47 L394.24,527.82 L395.58,527.15 L396.93,526.45 L398.27,525.73 L399.61,524.99 L400.96,524.22 L402.30,523.43 L403.64,522.61 L404.99,521.77 L406.33,520.90 L407.67,520.00 L409.02,519.08 L410.36,518.14 L411.70,517.17 L413.05,516.17 L414.39,515.15 L415.73,514.10 L417.08,513.03 L418.42,511.94 L419.76,510.82 L421.11,509.68 L422.45,508.52 L423.80,507.34 L425.14,506.14 L426.48,504.91 L427.83,503.67 L429.17,502.42 L430.51,501.14 L431.86,499.85 L433.20,498.55 L434.54,497.24 L435.89,495.91 L437.23,494.58 L438.57,493.24 L439.90,491.89 L441.22,490.54 L442.55,489.18 L443.87,487.82 L445.20,486.47 L446.52,485.11 L447.85,483.76 L449.17,482.41 L450.49,481.07 L451.82,479.74 L453.14,478.42 L454.47,477.10 L455.79,475.80 L457.12,474.52 L458.44,473.25 L459.77,471.99 L461.09,470.76 L462.41,469.54 L463.74,468.34 L465.06,467.16 L466.39,466.00 L467.71,464.87" fill="none" stroke="#303030" stroke-width="1.8" stroke-linejoin="round" stroke-linecap="round"/>
<circle cx="318.00" cy="541.25" r="3.5" fill="#c50f15"/>
<circle cx="336.50" cy="539.50" r="3.5" fill="#c50f15"/>
<circle cx="355.50" cy="537.00" r="3.5" fill="#c50f15"/>
<circle cx="374.50" cy="533.00" r="3.5" fill="#c50f15"/>
<circle cx="393.25" cy="524.50" r="3.5" fill="#c50f15"/>
<circle cx="412.00" cy="516.00" r="3.5" fill="#c50f15"/>
<circle cx="430.75" cy="503.00" r="3.5" fill="#c50f15"/>
<circle cx="449.75" cy="485.50" r="3.5" fill="#c50f15"/>
<circle cx="468.50" cy="464.00" r="3.5" fill="#c50f15"/>
<line x1="314.50" y1="457.50" x2="314.50" y2="544.20" stroke="#151515" stroke-width="1.15"/>
<line x1="313.90" y1="543.60" x2="504.20" y2="543.60" stroke="#151515" stroke-width="1.15"/>
<line x1="310.90" y1="543.60" x2="314.50" y2="543.60" stroke="#151515" stroke-width="1.1"/>
<text x="308.10" y="546.80" font-size="9.0" fill="#151515" stroke="#151515" text-anchor="end">0</text>
<line x1="310.90" y1="527.05" x2="314.50" y2="527.05" stroke="#151515" stroke-width="1.1"/>
<text x="308.10" y="530.25" font-size="9.0" fill="#151515" stroke="#151515" text-anchor="end">200</text>
<line x1="310.90" y1="510.50" x2="314.50" y2="510.50" stroke="#151515" stroke-width="1.1"/>
<text x="308.10" y="513.70" font-size="9.0" fill="#151515" stroke="#151515" text-anchor="end">400</text>
<line x1="310.90" y1="493.95" x2="314.50" y2="493.95" stroke="#151515" stroke-width="1.1"/>
<text x="308.10" y="497.15" font-size="9.0" fill="#151515" stroke="#151515" text-anchor="end">600</text>
<line x1="310.90" y1="477.40" x2="314.50" y2="477.40" stroke="#151515" stroke-width="1.1"/>
<text x="308.10" y="480.60" font-size="9.0" fill="#151515" stroke="#151515" text-anchor="end">800</text>
<line x1="310.90" y1="460.85" x2="314.50" y2="460.85" stroke="#151515" stroke-width="1.1"/>
<text x="308.10" y="464.05" font-size="9.0" fill="#151515" stroke="#151515" text-anchor="end">1000</text>
<line x1="314.20" y1="543.60" x2="314.20" y2="547.20" stroke="#151515" stroke-width="1.1"/>
<text x="314.20" y="557.80" font-size="9.0" fill="#151515" stroke="#151515" text-anchor="middle">0.01</text>
<line x1="332.62" y1="543.60" x2="332.62" y2="545.80" stroke="#151515" stroke-width="0.8"/>
<line x1="343.40" y1="543.60" x2="343.40" y2="545.80" stroke="#151515" stroke-width="0.8"/>
<line x1="351.05" y1="543.60" x2="351.05" y2="545.80" stroke="#151515" stroke-width="0.8"/>
<line x1="356.98" y1="543.60" x2="356.98" y2="545.80" stroke="#151515" stroke-width="0.8"/>
<line x1="361.82" y1="543.60" x2="361.82" y2="545.80" stroke="#151515" stroke-width="0.8"/>
<line x1="365.92" y1="543.60" x2="365.92" y2="545.80" stroke="#151515" stroke-width="0.8"/>
<line x1="369.47" y1="543.60" x2="369.47" y2="545.80" stroke="#151515" stroke-width="0.8"/>
<line x1="372.60" y1="543.60" x2="372.60" y2="545.80" stroke="#151515" stroke-width="0.8"/>
<line x1="375.40" y1="543.60" x2="375.40" y2="547.20" stroke="#151515" stroke-width="1.1"/>
<text x="375.40" y="557.80" font-size="9.0" fill="#151515" stroke="#151515" text-anchor="middle">0.1</text>
<line x1="394.49" y1="543.60" x2="394.49" y2="545.80" stroke="#151515" stroke-width="0.8"/>
<line x1="405.65" y1="543.60" x2="405.65" y2="545.80" stroke="#151515" stroke-width="0.8"/>
<line x1="413.57" y1="543.60" x2="413.57" y2="545.80" stroke="#151515" stroke-width="0.8"/>
<line x1="419.71" y1="543.60" x2="419.71" y2="545.80" stroke="#151515" stroke-width="0.8"/>
<line x1="424.73" y1="543.60" x2="424.73" y2="545.80" stroke="#151515" stroke-width="0.8"/>
<line x1="428.98" y1="543.60" x2="428.98" y2="545.80" stroke="#151515" stroke-width="0.8"/>
<line x1="432.66" y1="543.60" x2="432.66" y2="545.80" stroke="#151515" stroke-width="0.8"/>
<line x1="435.90" y1="543.60" x2="435.90" y2="545.80" stroke="#151515" stroke-width="0.8"/>
<line x1="438.80" y1="543.60" x2="438.80" y2="547.20" stroke="#151515" stroke-width="1.1"/>
<text x="438.80" y="557.80" font-size="9.0" fill="#151515" stroke="#151515" text-anchor="middle">1</text>
<line x1="457.61" y1="543.60" x2="457.61" y2="545.80" stroke="#151515" stroke-width="0.8"/>
<line x1="468.62" y1="543.60" x2="468.62" y2="545.80" stroke="#151515" stroke-width="0.8"/>
<line x1="476.43" y1="543.60" x2="476.43" y2="545.80" stroke="#151515" stroke-width="0.8"/>
<line x1="482.49" y1="543.60" x2="482.49" y2="545.80" stroke="#151515" stroke-width="0.8"/>
<line x1="487.43" y1="543.60" x2="487.43" y2="545.80" stroke="#151515" stroke-width="0.8"/>
<line x1="491.62" y1="543.60" x2="491.62" y2="545.80" stroke="#151515" stroke-width="0.8"/>
<line x1="495.24" y1="543.60" x2="495.24" y2="545.80" stroke="#151515" stroke-width="0.8"/>
<line x1="498.44" y1="543.60" x2="498.44" y2="545.80" stroke="#151515" stroke-width="0.8"/>
<line x1="501.30" y1="543.60" x2="501.30" y2="547.20" stroke="#151515" stroke-width="1.1"/>
<text x="501.30" y="557.80" font-size="9.0" fill="#151515" stroke="#151515" text-anchor="middle">10</text>
<text transform="translate(282.60,500.50) rotate(-90)" font-size="10.6" text-anchor="middle" fill="#151515" stroke="#151515" textLength="55.2" lengthAdjust="spacingAndGlyphs">Response units</text>
<text x="368.00" y="572.40" font-size="9.7" fill="#151515" stroke="#151515" textLength="83.1" lengthAdjust="spacingAndGlyphs">C5 concentration [µM]</text>
<text x="327.3" y="477.6" font-size="7.5" fill="#151515" stroke="#151515" textLength="77.3" lengthAdjust="spacingAndGlyphs"><tspan font-style="italic">K</tspan><tspan font-size="5.3" dy="1.7">D</tspan><tspan dy="-1.7"> (estimate): 1.2 µM</tspan></text>
<text x="378.70" y="487.00" font-size="7.5" fill="#151515" stroke="#151515" textLength="37.2" lengthAdjust="spacingAndGlyphs">(± 30 pM)</text>
<path d="M54.80,682.02 L55.53,681.88 L56.27,681.76 L57.00,681.57 L57.80,682.59 L58.60,683.24 L59.40,684.69 L60.05,683.44 L60.70,683.37 L61.35,681.92 L62.00,681.00 L62.67,682.44 L63.33,682.03 L64.00,683.32 L64.63,683.87 L65.27,684.30 L65.90,685.67 L66.63,682.32 L67.37,680.03 L68.10,676.66 L68.90,675.44 L69.70,673.77 L70.80,664.46 L71.80,670.21 L72.50,673.55 L73.11,673.53 L73.72,672.90 L74.34,673.69 L74.95,673.84 L75.56,673.28 L76.17,673.23 L76.79,673.26 L77.40,673.85 L78.01,673.43 L78.62,674.31 L79.24,673.89 L79.85,674.60 L80.46,674.37 L81.08,674.10 L81.69,673.89 L82.30,674.22 L82.91,674.43 L83.53,674.71 L84.14,674.76 L84.75,674.14 L85.37,673.82 L85.98,674.53 L86.59,674.56 L87.21,674.53 L87.82,674.71 L88.44,674.72 L89.05,674.53 L89.66,674.75 L90.28,673.99 L90.89,674.90 L91.50,674.60 L92.12,673.98 L92.73,674.07 L93.34,674.60 L93.96,674.24 L94.57,674.94 L95.18,674.23 L95.80,674.46 L96.41,674.49 L97.02,674.98 L97.64,674.29 L98.25,674.94 L98.86,674.76 L99.48,674.60 L100.09,675.03 L100.71,674.97 L101.32,674.83 L101.93,674.61 L102.55,674.07 L103.16,674.27 L103.77,674.75 L104.39,674.17 L105.00,674.76 L105.61,674.43 L106.23,674.48 L106.84,674.96 L107.46,674.97 L108.08,674.87 L108.69,674.54 L109.30,674.64 L109.92,675.13 L110.53,675.07 L111.15,674.72 L111.77,674.14 L112.38,675.04 L113.00,674.10 L113.61,674.18 L114.22,674.77 L114.84,674.27 L115.45,674.88 L116.07,674.81 L116.69,674.23 L117.30,675.05 L117.97,675.15 L118.64,674.77 L119.31,675.13 L119.99,674.93 L120.66,674.57 L121.33,674.96 L122.00,675.08 L122.62,674.88 L123.23,674.28 L123.85,674.67 L124.46,675.10 L125.08,674.80 L125.69,674.65 L126.31,675.04 L126.92,674.76 L127.54,675.19 L128.15,674.85 L128.77,675.61 L129.38,675.12 L130.00,675.98 L130.61,675.08 L131.21,675.67 L131.82,675.70 L132.42,675.23 L133.03,675.72 L133.64,675.65 L134.24,675.73 L134.85,675.27 L135.45,675.61 L136.06,676.02 L136.67,675.80 L137.27,675.40 L137.88,675.51 L138.48,676.13 L139.09,675.24 L139.70,675.72 L140.30,675.77 L140.91,675.70 L141.52,675.24 L142.12,675.37 L142.73,676.19 L143.33,675.78 L143.94,675.62 L144.55,675.81 L145.15,675.39 L145.76,675.43 L146.36,676.27 L146.97,676.21 L147.58,675.61 L148.18,675.75 L148.79,675.50 L149.39,675.78 L150.00,676.02 L150.61,676.28 L151.21,676.02 L151.82,676.40 L152.42,676.57 L153.03,676.10 L153.64,675.52 L154.24,675.63 L154.85,676.23 L155.45,675.63 L156.06,676.48 L156.67,675.56 L157.27,675.57 L157.88,676.60 L158.48,675.96 L159.09,676.13 L159.70,676.18 L160.30,675.66 L160.91,675.90 L161.52,675.94 L162.12,676.35 L162.73,676.41 L163.33,676.31 L163.94,675.75 L164.55,676.07 L165.15,676.57 L165.76,675.76 L166.36,675.96 L166.97,676.25 L167.58,676.68 L168.18,675.61 L168.79,676.35 L169.39,676.10 L170.00,676.18 L170.61,676.53 L171.21,675.71 L171.82,676.27 L172.42,675.97 L173.03,676.45 L173.64,676.41 L174.24,676.09 L174.85,675.80 L175.45,676.48 L176.06,676.42 L176.67,676.27 L177.27,676.47 L177.88,676.70 L178.48,675.93 L179.09,676.43 L179.70,676.56 L180.30,675.97 L180.91,676.68 L181.52,676.03 L182.12,676.74 L182.73,676.34 L183.33,676.77 L183.94,676.68 L184.55,676.57 L185.15,676.12 L185.76,676.22 L186.36,676.37 L186.97,676.61 L187.58,676.19 L188.18,676.73 L188.79,675.98 L189.39,676.32 L190.00,675.91 L190.65,675.91 L191.30,676.01 L191.95,675.71 L192.60,676.26 L193.25,676.28 L193.90,676.01 L194.55,676.42 L195.20,676.11 L195.85,676.23 L196.50,675.54 L197.50,669.41 L198.50,675.47 L199.10,675.64 L199.70,676.41 L200.30,675.64 L200.91,676.17 L201.51,675.94 L202.11,676.28 L202.71,676.51 L203.31,676.48 L203.91,676.65 L204.51,676.66 L205.11,676.05 L205.72,676.72 L206.32,676.48 L206.92,675.97 L207.52,676.04 L208.12,676.27 L208.72,676.63 L209.32,675.83 L209.92,676.72 L210.53,676.49 L211.13,676.42 L211.73,676.23 L212.33,676.21 L212.93,676.26 L213.53,676.61 L214.13,676.33 L214.73,676.64 L215.34,676.83 L215.94,675.98 L216.54,675.92 L217.14,676.95 L217.74,676.14 L218.34,676.84 L218.94,676.41 L219.54,676.22 L220.15,676.00 L220.75,676.48 L221.35,676.68 L221.95,676.09 L222.55,676.06 L223.15,676.38 L223.75,677.05 L224.35,676.92 L224.95,676.39 L225.56,676.57 L226.16,676.60 L226.76,676.93 L227.36,676.48 L227.96,676.58 L228.56,676.75 L229.16,676.48 L229.76,676.70 L230.37,677.07 L230.97,676.82 L231.57,676.34 L232.17,676.67 L232.77,676.93 L233.37,676.57 L233.97,676.76 L234.57,676.97 L235.18,676.77 L235.78,676.58 L236.38,677.36 L236.98,676.48 L237.58,677.42 L238.18,676.54 L238.78,677.06 L239.38,677.07 L239.99,676.94 L240.59,677.19 L241.19,677.49 L241.79,676.88 L242.39,676.61 L242.99,676.78 L243.59,677.54 L244.19,677.25 L244.80,677.43 L245.40,677.05 L246.00,676.99 L246.60,677.20" fill="none" stroke="#c99a1e" stroke-width="2.5" stroke-linejoin="round" stroke-linecap="round"/>
<path d="M54.80,677.91 L55.53,678.87 L56.27,680.35 L57.00,680.63 L57.62,681.08 L58.25,681.71 L58.88,682.20 L59.50,681.96 L60.12,681.57 L60.75,680.07 L61.38,679.90 L62.00,678.81 L62.67,680.05 L63.33,680.44 L64.00,681.16 L64.67,680.25 L65.33,679.75 L66.00,678.73 L66.70,678.32 L67.40,677.14 L68.10,676.12 L68.72,676.79 L69.34,676.03 L69.96,676.39 L70.59,675.99 L71.21,675.79 L71.83,675.18 L72.45,675.25 L73.07,675.67 L73.69,675.21 L74.31,675.52 L74.94,675.29 L75.56,674.84 L76.18,675.18 L76.80,673.95 L77.41,674.30 L78.02,674.35 L78.63,673.73 L79.24,674.53 L79.86,673.64 L80.47,674.02 L81.08,673.59 L81.69,673.61 L82.30,673.61 L82.91,673.32 L83.52,673.10 L84.13,673.55 L84.74,673.41 L85.36,672.72 L85.97,673.60 L86.58,672.56 L87.19,672.59 L87.80,672.56 L88.41,672.62 L89.03,672.73 L89.64,673.16 L90.26,672.25 L90.87,672.74 L91.49,672.77 L92.10,672.33 L92.71,672.41 L93.33,672.48 L93.94,672.94 L94.56,672.79 L95.17,672.43 L95.79,671.95 L96.40,672.24 L97.01,672.72 L97.63,672.27 L98.24,672.19 L98.86,672.44 L99.47,671.75 L100.09,672.39 L100.70,672.40 L101.31,671.75 L101.93,672.05 L102.54,672.51 L103.16,671.82 L103.77,672.09 L104.39,671.86 L105.00,672.06 L105.61,671.85 L106.22,671.76 L106.82,672.37 L107.43,672.08 L108.04,672.39 L108.65,671.63 L109.26,671.74 L109.86,671.60 L110.47,672.12 L111.08,671.53 L111.69,671.85 L112.30,671.26 L112.90,671.63 L113.51,671.30 L114.12,671.98 L114.73,671.34 L115.34,671.95 L115.94,671.50 L116.55,671.22 L117.16,671.42 L117.77,671.80 L118.38,671.51 L118.98,671.62 L119.59,671.31 L120.20,671.33 L121.10,671.95 L122.00,673.86 L122.67,674.49 L123.33,675.33 L124.00,675.78 L124.62,676.58 L125.24,676.61 L125.85,676.68 L126.47,677.70 L127.09,677.75 L127.71,677.94 L128.33,678.41 L128.95,678.54 L129.56,678.49 L130.18,679.41 L130.80,679.65 L131.42,679.48 L132.04,679.31 L132.66,679.47 L133.28,679.06 L133.90,680.08 L134.52,680.11 L135.14,679.94 L135.75,679.89 L136.37,680.35 L136.99,679.58 L137.61,680.08 L138.23,680.01 L138.85,680.49 L139.47,680.30 L140.09,680.67 L140.71,681.08 L141.33,680.64 L141.95,680.40 L142.57,680.38 L143.19,681.38 L143.81,681.06 L144.43,681.12 L145.05,680.76 L145.66,680.93 L146.28,680.91 L146.90,681.98 L147.52,681.14 L148.14,681.53 L148.76,681.79 L149.38,681.99 L150.00,681.69 L150.61,682.17 L151.21,682.18 L151.82,682.57 L152.42,681.60 L153.03,681.84 L153.64,681.64 L154.24,681.85 L154.85,681.78 L155.45,681.59 L156.06,682.46 L156.67,681.89 L157.27,682.41 L157.88,682.50 L158.48,682.50 L159.09,681.66 L159.70,682.29 L160.30,682.59 L160.91,682.36 L161.52,682.34 L162.12,682.16 L162.73,682.61 L163.33,682.30 L163.94,682.12 L164.55,682.29 L165.15,682.27 L165.76,681.97 L166.36,682.52 L166.97,682.71 L167.58,682.52 L168.18,681.83 L168.79,682.27 L169.39,682.68 L170.00,681.99 L170.61,682.42 L171.21,682.63 L171.82,682.47 L172.42,682.26 L173.03,681.93 L173.64,682.70 L174.24,682.12 L174.85,682.61 L175.45,682.54 L176.06,682.77 L176.67,682.11 L177.27,683.07 L177.88,682.83 L178.48,682.98 L179.09,682.23 L179.70,682.84 L180.30,682.47 L180.91,682.84 L181.52,682.85 L182.12,682.54 L182.73,683.15 L183.33,682.60 L183.94,682.64 L184.55,682.93 L185.15,682.32 L185.76,683.15 L186.36,682.54 L186.97,683.17 L187.58,682.36 L188.18,682.35 L188.79,682.88 L189.39,682.50 L190.00,682.73 L190.60,682.47 L191.20,683.05 L191.81,683.07 L192.41,683.01 L193.01,682.41 L193.61,682.31 L194.21,682.91 L194.82,682.36 L195.42,683.06 L196.02,682.87 L196.62,683.30 L197.23,683.18 L197.83,683.00 L198.43,683.19 L199.03,682.84 L199.63,682.60 L200.24,682.35 L200.84,683.06 L201.44,683.02 L202.04,682.99 L202.64,682.86 L203.25,682.80 L203.85,683.31 L204.45,682.72 L205.05,682.46 L205.66,683.35 L206.26,683.15 L206.86,683.30 L207.46,683.40 L208.06,682.79 L208.67,682.49 L209.27,682.86 L209.87,682.86 L210.47,682.75 L211.07,683.19 L211.68,682.60 L212.28,683.40 L212.88,682.56 L213.48,682.65 L214.09,683.25 L214.69,682.59 L215.29,683.14 L215.89,682.64 L216.49,682.79 L217.10,682.86 L217.70,682.62 L218.30,683.26 L218.90,683.39 L219.50,683.37 L220.11,682.53 L220.71,682.39 L221.31,682.84 L221.91,683.18 L222.51,682.97 L223.12,683.42 L223.72,683.46 L224.32,683.12 L224.92,682.66 L225.53,682.82 L226.13,682.45 L226.73,682.81 L227.33,683.21 L227.93,682.73 L228.54,682.59 L229.14,682.98 L229.74,683.38 L230.34,683.10 L230.94,682.52 L231.55,682.87 L232.15,682.65 L232.75,683.29 L233.35,682.86 L233.96,682.89 L234.56,683.37 L235.16,682.74 L235.76,682.91 L236.36,683.49 L236.97,682.75 L237.57,683.01 L238.17,683.13 L238.77,682.79 L239.37,683.12 L239.98,682.89 L240.58,683.34 L241.18,683.04 L241.78,683.23 L242.39,683.07 L242.99,683.20 L243.59,682.87 L244.19,682.60 L244.79,682.84 L245.40,682.80 L246.00,682.46 L246.60,683.00" fill="none" stroke="#6b2f0e" stroke-width="2.6" stroke-linejoin="round" stroke-linecap="round"/>
<path d="M54.80,681.30 L55.52,680.33 L56.25,679.58 L56.98,679.12 L57.70,677.72 L58.40,678.89 L59.10,680.64 L59.80,680.99 L60.50,683.01 L61.27,681.24 L62.03,680.38 L62.80,678.90 L63.45,679.27 L64.10,680.08 L64.75,681.05 L65.40,682.30 L66.08,680.06 L66.75,678.44 L67.42,676.84 L68.10,674.67 L68.83,676.25 L69.57,678.33 L70.30,679.89 L71.15,680.54 L72.00,680.91 L72.69,681.48 L73.37,681.54 L74.06,681.07 L74.74,681.06 L75.43,680.56 L76.11,681.07 L76.80,681.47 L77.40,680.73 L78.00,681.32 L78.60,680.76 L79.20,681.28 L79.80,680.81 L80.40,681.17 L81.00,681.38 L81.60,680.57 L82.20,681.47 L82.80,681.13 L83.40,680.84 L84.00,680.92 L84.60,681.20 L85.20,681.41 L85.80,680.81 L86.40,680.70 L87.00,680.89 L87.60,681.34 L88.20,681.10 L88.80,681.50 L89.40,681.47 L90.00,681.09 L90.60,681.34 L91.20,680.87 L91.80,681.39 L92.40,681.44 L93.00,681.00 L93.60,681.48 L94.20,680.91 L94.80,681.84 L95.40,681.38 L96.00,681.80 L96.60,681.54 L97.20,681.05 L97.80,681.63 L98.40,681.51 L99.00,681.26 L99.60,681.62 L100.20,681.70 L100.80,681.62 L101.40,681.13 L102.00,681.96 L102.60,681.91 L103.20,681.40 L103.80,681.95 L104.40,682.03 L105.00,681.33 L105.61,681.15 L106.22,681.19 L106.82,681.45 L107.43,681.06 L108.04,681.15 L108.65,681.68 L109.26,680.89 L109.86,681.53 L110.47,681.29 L111.08,681.61 L111.69,681.10 L112.30,681.33 L112.90,681.03 L113.51,680.80 L114.12,681.72 L114.73,681.16 L115.34,681.07 L115.94,681.76 L116.55,681.13 L117.16,681.31 L117.77,680.85 L118.38,681.14 L118.98,681.64 L119.59,681.57 L120.20,681.55 L121.10,683.31 L122.00,684.20 L122.67,683.17 L123.33,682.43 L124.00,682.17 L124.60,682.09 L125.21,681.93 L125.81,682.34 L126.42,681.83 L127.02,682.29 L127.63,682.12 L128.23,681.85 L128.84,682.58 L129.44,681.97 L130.05,682.68 L130.65,682.67 L131.26,682.35 L131.86,682.40 L132.47,682.16 L133.07,682.13 L133.67,682.77 L134.28,682.45 L134.88,682.70 L135.49,682.52 L136.09,682.44 L136.70,682.36 L137.30,683.06 L137.91,682.73 L138.51,682.46 L139.12,683.28 L139.72,682.53 L140.33,682.64 L140.93,682.60 L141.53,683.08 L142.14,683.35 L142.74,682.57 L143.35,683.58 L143.95,683.37 L144.56,683.55 L145.16,683.13 L145.77,683.19 L146.37,682.84 L146.98,683.06 L147.58,683.77 L148.19,683.16 L148.79,683.87 L149.40,683.83 L150.00,683.96 L150.60,683.10 L151.20,683.42 L151.80,683.87 L152.40,683.29 L153.00,683.22 L153.60,682.97 L154.20,683.54 L154.80,683.56 L155.40,683.18 L156.00,683.23 L156.60,683.65 L157.20,683.14 L157.80,683.81 L158.40,683.91 L159.00,683.41 L159.60,683.09 L160.20,683.58 L160.80,683.27 L161.40,683.07 L162.00,683.73 L162.60,683.57 L163.20,683.25 L163.80,683.22 L164.40,683.75 L165.00,683.96 L165.60,683.34 L166.20,683.59 L166.80,683.19 L167.40,683.46 L168.00,683.59 L168.60,683.29 L169.20,683.62 L169.80,683.55 L170.40,683.00 L171.00,683.08 L171.60,683.41 L172.20,683.11 L172.80,683.55 L173.40,683.60 L174.00,683.64 L174.60,683.92 L175.20,683.62 L175.80,683.80 L176.40,683.08 L177.00,683.91 L177.60,683.97 L178.20,683.60 L178.80,683.86 L179.40,683.56 L180.00,683.43 L180.60,683.13 L181.20,683.48 L181.80,683.73 L182.40,683.82 L183.00,683.93 L183.60,683.52 L184.20,683.99 L184.80,683.36 L185.40,682.97 L186.00,683.42 L186.70,677.24 L187.50,683.80 L188.10,683.22 L188.71,683.01 L189.31,683.79 L189.91,683.22 L190.52,683.96 L191.12,683.66 L191.72,683.21 L192.32,683.65 L192.93,683.94 L193.53,683.35 L194.13,684.17 L194.74,683.20 L195.34,683.31 L195.94,683.82 L196.55,683.92 L197.15,683.86 L197.75,684.23 L198.36,683.45 L198.96,683.29 L199.56,683.85 L200.16,683.66 L200.77,683.72 L201.37,683.74 L201.97,684.29 L202.58,683.65 L203.18,684.11 L203.78,683.99 L204.39,683.69 L204.99,684.40 L205.59,683.69 L206.19,683.76 L206.80,683.65 L207.40,684.23 L208.00,684.23 L208.61,683.89 L209.21,683.63 L209.81,684.17 L210.42,683.90 L211.02,684.15 L211.62,684.28 L212.23,683.58 L212.83,683.64 L213.43,684.51 L214.03,684.58 L214.64,683.73 L215.24,683.90 L215.84,684.14 L216.45,684.60 L217.05,684.04 L217.65,684.77 L218.26,683.83 L218.86,684.74 L219.46,683.82 L220.07,684.44 L220.67,684.86 L221.27,684.60 L221.87,684.83 L222.48,684.22 L223.08,684.90 L223.68,684.86 L224.29,684.19 L224.89,684.75 L225.49,684.92 L226.10,684.16 L226.70,684.38 L227.30,684.81 L227.91,684.61 L228.51,685.00 L229.11,684.48 L229.71,684.51 L230.32,684.22 L230.92,684.35 L231.52,685.03 L232.13,684.37 L232.73,685.08 L233.33,685.00 L233.94,684.76 L234.54,684.48 L235.14,684.16 L235.74,684.30 L236.35,685.10 L236.95,685.26 L237.55,685.28 L238.16,684.54 L238.76,685.28 L239.36,684.75 L239.97,684.69 L240.57,685.30 L241.17,685.21 L241.78,685.07 L242.38,684.66 L242.98,684.48 L243.58,684.57 L244.19,684.68 L244.79,684.62 L245.39,685.05 L246.00,684.78 L246.60,685.00" fill="none" stroke="#4d88cf" stroke-width="2.5" stroke-linejoin="round" stroke-linecap="round"/>
<path d="M54.80,680.77 L55.44,681.20 L56.08,680.69 L56.72,680.30 L57.36,680.21 L58.00,680.54 L58.70,680.18 L59.40,680.67 L60.10,680.30 L60.80,680.72 L61.50,680.90 L62.60,679.53 L63.33,675.04 L64.07,671.30 L64.80,667.18 L65.65,662.65 L66.50,658.35 L67.60,654.08 L68.27,651.67 L68.95,649.88 L69.62,647.86 L70.30,646.23 L70.96,644.21 L71.62,642.74 L72.28,641.40 L72.94,639.96 L73.60,638.79 L74.24,636.95 L74.88,635.36 L75.52,634.35 L76.16,633.42 L76.80,631.48 L77.41,631.09 L78.02,630.44 L78.63,629.90 L79.24,628.77 L79.86,628.27 L80.47,627.83 L81.08,627.12 L81.69,626.07 L82.30,625.17 L82.91,625.00 L83.52,624.64 L84.13,624.18 L84.74,623.75 L85.36,623.10 L85.97,622.94 L86.58,622.23 L87.19,621.71 L87.80,621.18 L88.43,621.31 L89.07,620.77 L89.70,620.63 L90.33,620.40 L90.97,620.23 L91.60,620.03 L92.23,620.25 L92.87,619.65 L93.50,619.44 L94.13,619.09 L94.77,618.97 L95.40,618.95 L96.04,618.61 L96.68,618.50 L97.32,618.26 L97.96,618.02 L98.60,617.94 L99.24,617.73 L99.88,617.78 L100.52,617.48 L101.16,617.67 L101.80,617.69 L102.44,617.22 L103.08,617.62 L103.72,617.27 L104.36,617.31 L105.00,617.04 L105.64,617.19 L106.27,616.95 L106.91,616.36 L107.55,616.56 L108.18,616.18 L108.82,616.42 L109.45,615.98 L110.09,615.72 L110.73,615.42 L111.36,616.03 L112.00,615.20 L112.63,615.15 L113.26,615.54 L113.89,614.69 L114.52,614.83 L115.15,614.70 L115.78,614.74 L116.41,614.68 L117.04,614.68 L117.67,614.00 L118.30,613.67 L118.93,614.11 L119.57,614.27 L120.20,614.82 L120.82,616.56 L121.44,618.24 L122.06,619.06 L122.68,620.65 L123.30,622.61 L124.10,626.47 L124.90,630.42 L125.53,631.18 L126.15,632.19 L126.78,633.35 L127.40,634.69 L128.06,635.89 L128.72,637.88 L129.38,639.77 L130.04,640.76 L130.70,642.63 L131.34,643.87 L131.98,645.17 L132.62,646.41 L133.26,647.50 L133.90,648.45 L134.53,649.20 L135.15,650.25 L135.78,650.94 L136.40,652.14 L137.01,652.24 L137.62,652.69 L138.24,653.17 L138.85,653.44 L139.46,653.86 L140.08,654.41 L140.69,654.77 L141.30,655.50 L141.92,655.19 L142.53,655.58 L143.15,656.20 L143.77,656.32 L144.38,656.35 L145.00,656.39 L145.62,656.53 L146.23,656.97 L146.85,657.22 L147.47,657.46 L148.08,657.56 L148.70,657.98 L149.33,658.20 L149.96,657.97 L150.58,658.56 L151.21,658.75 L151.84,658.48 L152.47,658.67 L153.09,658.64 L153.72,659.13 L154.35,659.44 L154.98,659.37 L155.61,659.66 L156.23,659.82 L156.86,659.51 L157.49,659.67 L158.12,660.17 L158.74,660.65 L159.37,660.62 L160.00,660.56 L160.62,660.55 L161.25,660.58 L161.88,661.13 L162.50,661.36 L163.12,661.20 L163.75,661.09 L164.38,661.38 L165.00,661.87 L165.62,662.05 L166.25,661.90 L166.88,662.42 L167.50,662.16 L168.12,662.01 L168.75,662.29 L169.38,662.97 L170.00,662.96 L170.61,662.57 L171.22,662.83 L171.84,663.02 L172.45,663.19 L173.06,662.92 L173.67,663.74 L174.28,663.52 L174.89,663.41 L175.51,663.33 L176.12,663.86 L176.73,664.25 L177.34,664.17 L177.95,664.39 L178.56,664.50 L179.18,664.43 L179.79,664.05 L180.40,664.35 L181.01,664.67 L181.62,664.63 L182.24,664.57 L182.85,664.55 L183.46,665.29 L184.07,665.23 L184.68,665.04 L185.29,665.28 L185.91,665.70 L186.52,665.22 L187.13,665.70 L187.74,665.49 L188.35,666.12 L188.96,666.14 L189.58,666.36 L190.19,666.01 L190.80,666.21 L191.41,666.13 L192.02,666.23 L192.63,666.78 L193.25,666.87 L193.86,666.96 L194.47,666.96 L195.08,666.70 L195.69,666.91 L196.30,667.18 L196.91,666.87 L197.53,667.34 L198.14,667.31 L198.75,666.97 L199.36,667.11 L199.97,667.44 L200.58,667.09 L201.19,667.24 L201.80,667.26 L202.42,667.27 L203.03,667.98 L203.64,668.13 L204.25,668.06 L204.86,667.88 L205.47,668.14 L206.08,668.17 L206.70,668.04 L207.31,668.18 L207.92,667.94 L208.53,668.10 L209.14,668.26 L209.75,668.34 L210.36,668.65 L210.97,668.39 L211.59,668.46 L212.20,669.05 L212.81,669.04 L213.42,669.24 L214.03,669.19 L214.64,668.79 L215.25,669.10 L215.87,669.45 L216.48,669.50 L217.09,669.11 L217.70,669.39 L218.30,669.50 L218.90,669.08 L219.51,669.29 L220.11,669.73 L220.71,669.70 L221.31,669.56 L221.91,669.69 L222.52,669.69 L223.12,669.58 L223.72,669.40 L224.32,669.96 L224.92,670.02 L225.53,669.78 L226.13,670.08 L226.73,670.16 L227.33,670.09 L227.94,670.21 L228.54,670.37 L229.14,669.67 L229.74,670.42 L230.34,670.06 L230.95,670.36 L231.55,670.36 L232.15,669.88 L232.75,670.30 L233.35,669.94 L233.96,670.49 L234.56,670.20 L235.16,670.27 L235.76,670.22 L236.36,670.68 L236.97,670.58 L237.57,670.34 L238.17,670.73 L238.77,670.31 L239.38,670.84 L239.98,670.72 L240.58,670.88 L241.18,670.79 L241.78,671.12 L242.39,670.92 L242.99,670.77 L243.59,670.91 L244.19,670.92 L244.79,670.73 L245.40,670.78 L246.00,671.21 L246.60,671.00" fill="none" stroke="#bf5a18" stroke-width="2.3" stroke-linejoin="round" stroke-linecap="round"/>
<line x1="54.80" y1="612.00" x2="54.80" y2="694.40" stroke="#1a1a1a" stroke-width="1.1"/>
<line x1="54.30" y1="693.90" x2="249.00" y2="693.90" stroke="#1a1a1a" stroke-width="1.1"/>
<line x1="51.30" y1="693.90" x2="54.80" y2="693.90" stroke="#1a1a1a" stroke-width="1.0"/>
<text x="48.80" y="697.10" font-size="9.0" fill="#151515" stroke="#151515" text-anchor="end">-10</text>
<line x1="51.30" y1="675.50" x2="54.80" y2="675.50" stroke="#1a1a1a" stroke-width="1.0"/>
<text x="48.80" y="678.70" font-size="9.0" fill="#151515" stroke="#151515" text-anchor="end">10</text>
<line x1="51.30" y1="657.10" x2="54.80" y2="657.10" stroke="#1a1a1a" stroke-width="1.0"/>
<text x="48.80" y="660.30" font-size="9.0" fill="#151515" stroke="#151515" text-anchor="end">30</text>
<line x1="51.30" y1="638.70" x2="54.80" y2="638.70" stroke="#1a1a1a" stroke-width="1.0"/>
<text x="48.80" y="641.90" font-size="9.0" fill="#151515" stroke="#151515" text-anchor="end">50</text>
<line x1="51.30" y1="620.30" x2="54.80" y2="620.30" stroke="#1a1a1a" stroke-width="1.0"/>
<text x="48.80" y="623.50" font-size="9.0" fill="#151515" stroke="#151515" text-anchor="end">70</text>
<line x1="54.80" y1="693.90" x2="54.80" y2="697.40" stroke="#1a1a1a" stroke-width="1.0"/>
<text x="54.80" y="709.00" font-size="9.0" fill="#151515" stroke="#151515" text-anchor="middle">0</text>
<line x1="102.75" y1="693.90" x2="102.75" y2="697.40" stroke="#1a1a1a" stroke-width="1.0"/>
<text x="102.75" y="709.00" font-size="9.0" fill="#151515" stroke="#151515" text-anchor="middle">100</text>
<line x1="150.70" y1="693.90" x2="150.70" y2="697.40" stroke="#1a1a1a" stroke-width="1.0"/>
<text x="150.70" y="709.00" font-size="9.0" fill="#151515" stroke="#151515" text-anchor="middle">200</text>
<line x1="198.65" y1="693.90" x2="198.65" y2="697.40" stroke="#1a1a1a" stroke-width="1.0"/>
<text x="198.65" y="709.00" font-size="9.0" fill="#151515" stroke="#151515" text-anchor="middle">300</text>
<line x1="246.60" y1="693.90" x2="246.60" y2="697.40" stroke="#1a1a1a" stroke-width="1.0"/>
<text x="246.60" y="709.00" font-size="9.0" fill="#151515" stroke="#151515" text-anchor="middle">400</text>
<text transform="translate(29.9,652) rotate(-90)" font-size="10.6" text-anchor="middle" fill="#151515" stroke="#151515" textLength="57.5" lengthAdjust="spacingAndGlyphs">Response units</text>
<text x="138.20" y="722.40" font-size="9.9" fill="#151515" stroke="#151515" textLength="28.5" lengthAdjust="spacingAndGlyphs">Time [s]</text>
<text x="53" y="600" font-size="10.5" fill="#1a1a1a" stroke="#1a1a1a" textLength="186" lengthAdjust="spacingAndGlyphs">C3 binding to C3b in presence of Cp40</text>
<line x1="53.00" y1="601.70" x2="239.20" y2="601.70" stroke="#555" stroke-width="1.0"/>
<text x="94.20" y="636.10" font-size="7.9" fill="#c27a45" stroke="#c27a45" textLength="9.6" lengthAdjust="spacingAndGlyphs">C3</text>
<text x="89.50" y="645.80" font-size="7.9" fill="#c9a035" stroke="#c9a035" textLength="19.4" lengthAdjust="spacingAndGlyphs">CP40</text>
<text x="73.50" y="655.50" font-size="7.9" fill="#7a4028" stroke="#7a4028" textLength="51.1" lengthAdjust="spacingAndGlyphs">C3 after Cp40</text>
<text x="79.20" y="665.00" font-size="7.9" fill="#5a8ad0" stroke="#5a8ad0" textLength="40" lengthAdjust="spacingAndGlyphs">C3 + Cp40</text>
<path d="M156.6,611 L125.5,666.3 M242.5,652.5 L127.5,687" stroke="#222" stroke-width="1.7" stroke-dasharray="6.8,5" fill="none"/>
<path d="M159.20,630.45 L159.66,631.41 L160.12,631.78 L160.58,632.29 L161.04,632.89 L161.50,634.09 L161.91,634.98 L162.33,636.36 L162.74,637.06 L163.16,637.52 L163.57,638.35 L163.99,638.99 L164.40,640.99 L164.88,638.80 L165.35,637.05 L165.83,634.87 L166.30,633.79 L166.70,631.68 L167.10,628.13 L167.50,626.10 L167.90,623.44 L168.30,620.62 L168.75,616.18 L169.20,611.35 L169.60,614.12 L170.00,616.17 L170.40,618.88 L170.80,620.42 L171.26,620.78 L171.72,622.13 L172.18,622.31 L172.64,622.50 L173.10,623.51 L173.51,622.95 L173.91,623.14 L174.32,624.24 L174.73,623.79 L175.14,624.40 L175.54,623.71 L175.95,624.21 L176.36,624.02 L176.76,624.94 L177.17,624.79 L177.58,624.64 L177.99,624.77 L178.39,624.66 L178.80,624.79 L179.20,625.51 L179.61,625.02 L180.01,624.77 L180.42,625.21 L180.82,625.34 L181.23,626.13 L181.63,625.33 L182.03,625.40 L182.44,626.24 L182.84,625.93 L183.25,625.60 L183.65,625.56 L184.05,625.36 L184.46,625.30 L184.86,625.79 L185.27,626.06 L185.67,625.36 L186.07,625.92 L186.48,625.53 L186.88,626.18 L187.29,625.86 L187.69,626.35 L188.10,626.55 L188.50,626.07 L188.90,626.06 L189.31,625.66 L189.71,625.87 L190.11,626.47 L190.51,626.75 L190.92,625.84 L191.32,627.03 L191.72,626.97 L192.12,626.23 L192.53,626.49 L192.93,626.70 L193.33,626.25 L193.73,626.32 L194.14,626.84 L194.54,626.53 L194.94,626.49 L195.34,626.69 L195.75,626.09 L196.15,626.61 L196.55,626.39 L196.96,626.23 L197.36,626.76 L197.76,627.03 L198.16,626.80 L198.57,626.79 L198.97,627.05 L199.37,626.73 L199.77,627.54 L200.18,626.49 L200.58,626.22 L200.98,627.03 L201.38,627.23 L201.79,626.82 L202.19,626.86 L202.59,626.81 L202.99,626.69 L203.40,627.48 L203.80,627.61 L204.23,626.86 L204.67,627.32 L205.10,627.24 L205.53,626.85 L205.97,627.76 L206.40,627.54 L206.83,628.25 L207.27,628.21 L207.70,628.26 L208.10,627.38 L208.50,627.19 L208.90,628.18 L209.30,627.22 L209.70,628.05 L210.10,627.35 L210.50,628.10 L210.90,627.21 L211.30,627.27 L211.70,628.38 L212.10,627.90 L212.50,627.83 L212.90,628.58 L213.30,628.33 L213.70,627.57 L214.10,628.26 L214.50,627.82 L214.90,627.95 L215.30,627.75 L215.70,627.65 L216.10,627.77 L216.50,627.75 L216.90,627.65 L217.30,628.62 L217.70,627.95 L218.10,628.22 L218.50,628.59 L218.90,628.42 L219.30,627.70 L219.70,628.83 L220.10,628.82 L220.50,628.71 L220.90,628.01 L221.30,628.73 L221.70,628.48 L222.10,627.64 L222.50,628.15 L222.90,628.61 L223.30,628.41 L223.70,628.99 L224.10,628.79 L224.50,628.87 L224.90,629.09 L225.30,628.21 L225.70,629.02 L226.10,627.77 L226.50,628.90 L226.90,627.92 L227.30,628.51 L227.70,628.44 L228.10,627.94 L228.50,628.74 L228.90,628.96 L229.30,628.19 L229.70,628.23 L230.10,628.98 L230.50,628.65 L230.90,627.95 L231.30,628.36 L231.70,629.27 L232.10,628.34 L232.50,628.38 L232.90,628.61 L233.30,629.24 L233.70,629.14 L234.10,628.56 L234.50,628.96 L234.90,628.08 L235.30,628.15 L235.70,628.59 L236.10,628.97 L236.50,628.29 L236.90,628.16 L237.30,629.31 L237.70,628.39 L238.10,628.22 L238.50,628.27 L238.90,628.28 L239.30,628.58 L239.70,629.00 L240.10,629.12 L240.50,628.61 L240.90,628.95 L241.30,628.70 L241.70,629.06 L242.10,628.42 L242.50,629.15 L242.90,628.29 L243.30,629.00" fill="none" stroke="#c99a1e" stroke-width="2.5" stroke-linejoin="round" stroke-linecap="round"/>
<path d="M159.60,629.59 L160.03,629.77 L160.47,631.43 L160.90,632.10 L161.33,633.63 L161.77,634.56 L162.20,636.26 L162.63,637.64 L163.07,638.90 L163.50,640.26 L163.90,638.99 L164.30,638.58 L164.70,637.76 L165.10,637.13 L165.50,636.90 L165.90,637.01 L166.30,635.18 L166.71,635.17 L167.13,633.61 L167.54,633.02 L167.96,631.59 L168.37,631.25 L168.79,629.97 L169.20,628.73 L169.61,628.58 L170.03,627.62 L170.44,627.41 L170.86,628.20 L171.27,626.70 L171.69,626.80 L172.10,626.84 L172.51,625.61 L172.93,626.52 L173.34,625.16 L173.76,625.88 L174.17,624.79 L174.59,624.66 L175.00,624.35 L175.41,623.54 L175.82,624.03 L176.23,624.29 L176.64,624.25 L177.05,624.09 L177.45,623.93 L177.86,623.06 L178.27,623.37 L178.68,623.42 L179.09,622.68 L179.50,623.61 L179.91,622.59 L180.32,623.15 L180.73,622.64 L181.14,622.41 L181.55,623.43 L181.95,622.87 L182.36,622.94 L182.77,622.68 L183.18,622.53 L183.59,622.88 L184.00,621.66 L184.41,622.01 L184.82,621.70 L185.23,622.14 L185.64,621.77 L186.05,622.42 L186.45,621.37 L186.86,621.33 L187.27,622.15 L187.68,621.79 L188.09,621.29 L188.50,621.12 L188.90,621.56 L189.31,620.68 L189.71,621.41 L190.11,620.65 L190.51,621.40 L190.92,620.31 L191.32,621.42 L191.72,621.28 L192.12,620.04 L192.53,620.17 L192.93,621.16 L193.33,620.96 L193.73,620.15 L194.14,620.80 L194.54,620.43 L194.94,619.89 L195.34,620.44 L195.75,620.00 L196.15,619.55 L196.55,620.48 L196.96,620.22 L197.36,619.49 L197.76,619.68 L198.16,619.98 L198.57,619.47 L198.97,619.25 L199.37,619.56 L199.77,620.09 L200.18,618.83 L200.58,618.98 L200.98,619.24 L201.38,619.87 L201.79,619.82 L202.19,618.37 L202.59,619.20 L202.99,618.43 L203.40,618.46 L203.80,618.29 L204.20,619.88 L204.60,621.65 L205.00,622.69 L205.40,622.93 L205.80,624.76 L206.21,625.44 L206.63,625.55 L207.04,627.68 L207.46,627.77 L207.87,629.73 L208.29,629.51 L208.70,631.56 L209.10,631.33 L209.50,631.65 L209.90,631.51 L210.30,632.25 L210.70,632.95 L211.10,632.98 L211.50,633.89 L211.90,633.58 L212.30,634.42 L212.70,633.65 L213.10,634.81 L213.50,634.94 L213.91,635.41 L214.31,634.72 L214.72,634.98 L215.12,635.54 L215.53,634.84 L215.94,635.07 L216.34,635.82 L216.75,635.61 L217.15,635.47 L217.56,634.88 L217.97,636.00 L218.37,635.59 L218.78,635.42 L219.18,635.70 L219.59,635.43 L220.00,636.49 L220.40,636.50 L220.81,636.82 L221.22,636.48 L221.62,635.84 L222.03,636.28 L222.43,637.16 L222.84,635.84 L223.25,636.40 L223.65,636.20 L224.06,636.31 L224.46,636.53 L224.87,637.09 L225.28,636.39 L225.68,637.59 L226.09,637.05 L226.49,636.77 L226.90,636.74 L227.30,637.38 L227.70,637.18 L228.10,637.44 L228.50,636.94 L228.90,637.33 L229.30,637.59 L229.70,637.04 L230.10,637.67 L230.50,638.19 L230.90,637.89 L231.30,637.29 L231.70,638.04 L232.10,637.32 L232.50,637.45 L232.90,637.31 L233.30,638.08 L233.70,637.64 L234.10,637.82 L234.50,637.65 L234.90,638.78 L235.30,637.78 L235.70,638.56 L236.10,638.79 L236.50,638.34 L236.90,638.57 L237.30,638.27 L237.70,639.00 L238.10,638.86 L238.50,638.05 L238.90,638.98 L239.30,638.23 L239.70,638.76 L240.10,638.39 L240.50,638.85 L240.90,639.14 L241.30,639.29 L241.70,638.77 L242.10,638.44 L242.50,639.04 L242.90,639.73 L243.30,639.20" fill="none" stroke="#6b2f0e" stroke-width="2.7" stroke-linejoin="round" stroke-linecap="round"/>
<path d="M159.20,633.87 L159.67,636.87 L160.13,639.97 L160.60,642.69 L161.07,640.95 L161.55,638.79 L162.03,636.31 L162.50,634.23 L162.97,635.22 L163.45,637.32 L163.93,639.87 L164.40,641.61 L164.81,639.76 L165.23,637.40 L165.64,634.54 L166.06,632.07 L166.47,630.51 L166.89,627.50 L167.30,625.79 L167.78,628.46 L168.25,631.61 L168.72,634.94 L169.20,637.89 L169.63,637.65 L170.07,636.66 L170.50,637.62 L170.93,637.14 L171.37,637.21 L171.80,636.59 L172.23,636.43 L172.67,636.55 L173.10,636.14 L173.50,635.97 L173.90,635.13 L174.30,635.09 L174.70,636.05 L175.10,636.22 L175.50,635.56 L175.90,635.30 L176.30,635.61 L176.70,636.15 L177.10,636.02 L177.50,635.13 L177.90,635.22 L178.30,635.21 L178.70,635.95 L179.10,635.24 L179.50,636.12 L179.90,635.44 L180.30,635.12 L180.70,635.42 L181.10,635.02 L181.50,636.04 L181.90,634.83 L182.30,635.36 L182.70,635.30 L183.10,634.81 L183.50,635.05 L183.90,636.11 L184.30,635.91 L184.70,635.29 L185.10,635.91 L185.50,635.94 L185.90,635.86 L186.30,635.66 L186.70,635.42 L187.10,635.33 L187.50,635.60 L187.90,635.43 L188.30,635.93 L188.70,634.81 L189.10,635.80 L189.50,635.59 L189.90,635.14 L190.30,635.69 L190.70,634.89 L191.10,635.02 L191.50,635.27 L191.90,635.81 L192.30,634.77 L192.70,635.61 L193.10,635.33 L193.50,635.68 L193.90,634.80 L194.30,635.29 L194.70,635.59 L195.10,635.57 L195.50,635.30 L195.90,635.48 L196.30,635.18 L196.70,635.05 L197.10,634.54 L197.50,634.98 L197.90,635.61 L198.30,635.55 L198.70,634.27 L199.10,634.62 L199.50,634.52 L199.90,635.35 L200.30,634.41 L200.70,635.21 L201.10,634.40 L201.50,634.59 L201.90,635.46 L202.31,634.69 L202.73,635.74 L203.14,635.73 L203.56,636.82 L203.97,636.27 L204.39,637.53 L204.80,637.36 L205.28,639.54 L205.75,639.86 L206.22,641.54 L206.70,641.84 L207.10,642.16 L207.50,640.77 L207.90,640.20 L208.30,639.00 L208.70,637.08 L209.10,638.37 L209.50,638.19 L209.90,638.27 L210.30,639.56 L210.70,639.57 L211.10,639.46 L211.50,639.40 L211.90,640.23 L212.31,639.42 L212.71,639.69 L213.11,639.44 L213.51,639.64 L213.92,640.46 L214.32,639.81 L214.72,640.83 L215.12,639.86 L215.53,640.61 L215.93,640.54 L216.33,640.43 L216.73,640.39 L217.14,639.76 L217.54,640.74 L217.94,640.90 L218.34,640.37 L218.75,639.90 L219.15,639.78 L219.55,640.04 L219.95,641.06 L220.36,640.16 L220.76,640.13 L221.16,640.49 L221.56,639.82 L221.97,640.90 L222.37,640.90 L222.77,640.26 L223.17,639.89 L223.58,641.13 L223.98,641.02 L224.38,640.98 L224.78,640.22 L225.19,641.28 L225.59,640.86 L225.99,640.03 L226.39,641.38 L226.80,641.00 L227.20,640.30 L227.60,641.31 L228.00,640.91 L228.41,640.99 L228.81,640.16 L229.21,640.43 L229.61,641.26 L230.02,640.19 L230.42,640.46 L230.82,640.31 L231.22,641.05 L231.63,640.44 L232.03,641.37 L232.43,640.92 L232.83,641.40 L233.24,641.60 L233.64,641.70 L234.04,640.63 L234.44,640.89 L234.85,641.51 L235.25,640.89 L235.65,641.75 L236.05,640.93 L236.46,641.35 L236.86,640.85 L237.26,641.53 L237.66,640.93 L238.07,641.14 L238.47,641.58 L238.87,641.75 L239.27,640.81 L239.68,640.87 L240.08,640.94 L240.48,641.74 L240.88,641.63 L241.29,641.71 L241.69,641.85 L242.09,641.07 L242.49,641.46 L242.90,640.79 L243.30,641.50" fill="none" stroke="#4d88cf" stroke-width="2.6" stroke-linejoin="round" stroke-linecap="round"/>
<path d="M158.1,611 L158.1,651.3 L243.8,651.3" stroke="#1a1a1a" stroke-width="1.2" fill="none"/>
<path d="M313.25,683.41 L314.09,683.56 L314.93,683.36 L315.77,683.68 L316.61,683.33 L317.45,683.47 L318.30,683.61 L319.14,683.33 L319.98,683.60 L320.82,683.44 L321.66,683.23 L322.50,683.26 L323.50,681.59 L324.50,679.69 L325.50,679.94 L326.50,680.38 L327.50,680.60 L328.33,681.08 L329.17,681.54 L330.00,681.81 L330.83,682.19 L331.67,682.38 L332.50,682.84 L333.47,682.92 L334.43,683.10 L335.40,683.44 L336.32,682.68 L337.24,682.14 L338.16,681.60 L339.08,680.56 L340.00,680.24 L341.10,677.95 L342.20,675.32 L343.50,673.85 L344.80,678.32 L345.50,683.24 L346.31,683.33 L347.13,683.32 L347.94,683.20 L348.76,683.22 L349.57,683.68 L350.39,683.72 L351.20,683.72 L352.01,683.24 L352.83,683.21 L353.64,683.71 L354.46,683.42 L355.27,683.41 L356.09,683.62 L356.90,683.52 L357.70,683.36 L358.51,683.21 L359.31,683.16 L360.12,683.48 L360.92,683.55 L361.73,683.00 L362.53,683.07 L363.34,683.21 L364.14,683.02 L364.95,683.11 L365.75,683.08 L366.55,682.90 L367.36,682.78 L368.16,682.92 L368.97,683.12 L369.77,682.68 L370.58,682.88 L371.38,683.00 L372.19,682.82 L372.99,682.65 L373.80,682.96 L374.60,682.84 L375.40,682.93 L376.21,682.47 L377.01,682.54 L377.82,682.49 L378.62,682.68 L379.43,682.51 L380.23,682.43 L381.04,682.37 L381.84,682.56 L382.65,682.20 L383.45,682.03 L384.25,682.02 L385.06,682.02 L385.86,681.89 L386.67,682.38 L387.47,682.09 L388.28,682.20 L389.08,681.96 L389.89,681.96 L390.69,681.74 L391.50,682.11 L392.30,681.79 L393.10,681.74 L393.91,681.90 L394.71,681.94 L395.52,681.98 L396.32,681.63 L397.13,681.56 L397.93,681.76 L398.74,681.49 L399.54,681.31 L400.35,681.44 L401.15,681.30 L401.95,681.23 L402.76,681.50 L403.56,681.21 L404.37,681.34 L405.17,681.11 L405.98,680.96 L406.78,681.32 L407.59,681.28 L408.39,681.20 L409.20,681.10 L410.00,680.80 L410.81,681.00 L411.63,681.20 L412.44,681.17 L413.26,681.05 L414.07,681.08 L414.89,680.80 L415.70,680.73 L416.52,681.21 L417.33,680.71 L418.15,680.85 L418.96,680.94 L419.78,681.12 L420.59,681.12 L421.41,681.22 L422.22,681.26 L423.04,680.86 L423.85,680.85 L424.67,680.77 L425.48,680.90 L426.30,680.76 L427.11,681.28 L427.93,681.04 L428.74,680.99 L429.56,680.73 L430.37,681.25 L431.19,680.85 L432.00,681.16 L432.83,682.09 L433.67,683.40 L434.50,684.58 L435.33,683.72 L436.17,682.47 L437.00,681.54 L437.80,681.63 L438.60,681.35 L439.40,681.30 L440.20,681.53 L441.00,681.47 L441.80,681.50 L442.60,681.46 L443.40,681.35 L444.20,681.33 L445.00,681.70 L445.80,681.65 L446.60,681.68 L447.40,681.66 L448.20,681.59 L449.00,681.41 L449.80,681.84 L450.60,681.62 L451.40,681.58 L452.20,681.47 L453.00,681.54 L453.80,681.91 L454.60,681.57 L455.40,681.82 L456.20,681.42 L457.00,681.71 L457.80,681.52 L458.60,681.50 L459.40,681.55 L460.20,681.61 L461.00,681.76 L461.80,681.63 L462.60,681.90 L463.40,681.49 L464.20,681.91 L465.00,681.67 L465.80,681.89 L466.60,681.65 L467.40,681.58 L468.20,681.97 L469.00,681.82 L469.80,681.87 L470.60,681.76 L471.40,681.88 L472.20,682.03 L473.00,681.91 L473.80,682.05 L474.60,681.69 L475.40,681.66 L476.20,682.02 L477.00,681.99 L477.80,682.03 L478.60,681.77 L479.40,681.76 L480.20,682.09 L481.00,681.65 L481.80,681.63 L482.60,681.64 L483.40,681.72 L484.20,681.80 L485.00,681.78 L485.80,681.83 L486.60,681.59 L487.40,681.78 L488.20,681.88 L489.00,681.61 L489.80,681.88 L490.60,682.14 L491.40,681.99 L492.20,682.17 L493.00,682.13 L493.80,681.91 L494.60,681.64 L495.40,681.67 L496.20,681.98 L497.00,682.15 L497.80,681.85 L498.60,681.73 L499.40,682.11 L500.20,681.99 L501.00,681.95 L501.80,681.75 L502.60,682.01 L503.40,682.03 L504.20,682.12 L505.00,682.00" fill="none" stroke="#5a98d8" stroke-width="1.9" stroke-linejoin="round" stroke-linecap="round"/>
<path d="M313.25,683.24 L314.09,682.75 L314.93,683.20 L315.77,682.89 L316.61,682.95 L317.45,682.91 L318.30,683.18 L319.14,682.96 L319.98,682.74 L320.82,682.98 L321.66,682.79 L322.50,682.71 L323.50,680.61 L324.50,678.68 L325.50,679.14 L326.50,679.28 L327.50,679.78 L328.33,680.66 L329.17,680.86 L330.00,681.54 L330.83,681.69 L331.67,682.36 L332.50,682.61 L333.47,682.50 L334.43,682.36 L335.40,682.49 L336.32,682.34 L337.24,681.72 L338.16,680.96 L339.08,680.34 L340.00,680.08 L341.10,678.26 L342.20,675.85 L343.50,674.90 L344.80,678.02 L345.50,682.32 L346.31,682.27 L347.13,682.56 L347.94,682.65 L348.76,682.18 L349.57,682.16 L350.39,682.07 L351.20,682.08 L352.01,682.05 L352.83,682.13 L353.64,681.99 L354.46,682.20 L355.27,681.92 L356.09,681.90 L356.90,681.95 L357.71,681.75 L358.53,681.63 L359.34,681.60 L360.15,681.50 L360.97,681.85 L361.78,681.42 L362.59,681.63 L363.41,681.83 L364.22,681.61 L365.03,681.37 L365.85,681.38 L366.66,681.35 L367.47,681.23 L368.28,681.02 L369.10,681.03 L369.91,680.97 L370.72,680.96 L371.54,680.98 L372.35,680.79 L373.16,681.05 L373.98,680.75 L374.79,680.89 L375.60,680.94 L376.42,680.78 L377.23,680.87 L378.04,680.84 L378.86,680.59 L379.67,680.40 L380.48,680.25 L381.30,680.59 L382.11,680.34 L382.92,680.24 L383.74,680.07 L384.55,680.08 L385.36,680.45 L386.18,680.15 L386.99,680.32 L387.80,680.27 L388.62,679.86 L389.43,679.80 L390.24,680.14 L391.05,679.70 L391.87,679.87 L392.68,680.02 L393.49,679.69 L394.31,679.61 L395.12,679.88 L395.93,679.77 L396.75,679.76 L397.56,679.58 L398.37,679.24 L399.19,679.08 L400.00,679.01 L400.81,679.56 L401.63,679.33 L402.44,679.54 L403.26,679.59 L404.07,679.17 L404.88,679.61 L405.70,679.20 L406.51,679.14 L407.33,679.21 L408.14,679.64 L408.95,679.61 L409.77,679.27 L410.58,679.35 L411.40,679.56 L412.21,679.55 L413.02,679.61 L413.84,679.30 L414.65,679.22 L415.47,679.40 L416.28,679.65 L417.09,679.47 L417.91,679.63 L418.72,679.22 L419.53,679.42 L420.35,679.67 L421.16,679.46 L421.98,679.60 L422.79,679.61 L423.60,679.40 L424.42,679.55 L425.23,679.56 L426.05,679.41 L426.86,679.47 L427.67,679.64 L428.49,679.69 L429.30,679.76 L430.12,679.39 L430.93,679.58 L431.74,679.51 L432.56,679.70 L433.37,679.33 L434.19,679.48 L435.00,679.35 L435.80,679.70 L436.61,679.67 L437.41,679.26 L438.22,679.35 L439.02,679.39 L439.83,679.68 L440.63,679.81 L441.44,679.57 L442.24,679.43 L443.05,679.75 L443.85,679.79 L444.66,679.70 L445.46,679.62 L446.26,679.69 L447.07,679.64 L447.87,680.01 L448.68,679.77 L449.48,679.99 L450.29,679.91 L451.09,679.74 L451.90,679.79 L452.70,680.04 L453.51,680.18 L454.31,680.23 L455.11,679.80 L455.92,679.88 L456.72,679.80 L457.53,679.88 L458.33,680.02 L459.14,680.23 L459.94,680.37 L460.75,680.20 L461.55,679.95 L462.36,680.11 L463.16,679.99 L463.97,680.09 L464.77,680.29 L465.57,680.27 L466.38,680.09 L467.18,680.17 L467.99,680.56 L468.79,680.42 L469.60,680.43 L470.40,680.28 L471.21,680.28 L472.01,680.58 L472.82,680.15 L473.62,680.56 L474.43,680.76 L475.23,680.59 L476.03,680.25 L476.84,680.27 L477.64,680.74 L478.45,680.40 L479.25,680.56 L480.06,680.72 L480.86,680.75 L481.67,680.54 L482.47,680.80 L483.28,680.96 L484.08,680.71 L484.89,680.68 L485.69,680.88 L486.49,681.01 L487.30,680.92 L488.10,681.08 L488.91,681.02 L489.71,681.14 L490.52,680.74 L491.32,681.01 L492.13,680.75 L492.93,680.72 L493.74,680.87 L494.54,681.26 L495.34,680.89 L496.15,680.91 L496.95,681.30 L497.76,681.36 L498.56,681.24 L499.37,681.02 L500.17,681.32 L500.98,680.89 L501.78,680.88 L502.59,680.93 L503.39,681.11 L504.20,681.07 L505.00,681.25" fill="none" stroke="#c99a1e" stroke-width="1.9" stroke-linejoin="round" stroke-linecap="round"/>
<path d="M313.25,683.22 L314.09,682.97 L314.93,683.21 L315.77,682.99 L316.61,682.92 L317.45,682.90 L318.30,682.73 L319.14,682.97 L319.98,683.27 L320.82,683.28 L321.66,683.26 L322.50,682.76 L323.50,680.97 L324.50,679.20 L325.50,679.29 L326.50,679.74 L327.50,680.32 L328.33,680.63 L329.17,681.41 L330.00,681.78 L330.83,682.33 L331.67,682.15 L332.50,682.92 L333.47,682.04 L334.43,680.74 L335.40,679.75 L336.32,678.29 L337.24,676.17 L338.16,673.74 L339.08,671.81 L340.00,670.10 L340.88,667.75 L341.75,665.86 L342.62,663.64 L343.50,661.55 L344.40,664.49 L345.30,667.23 L346.20,670.11 L347.00,669.20 L347.80,669.01 L348.60,668.44 L349.40,668.33 L350.20,667.70 L351.04,667.37 L351.88,667.33 L352.71,666.71 L353.55,666.30 L354.39,665.84 L355.22,665.17 L356.06,665.04 L356.90,664.78 L357.74,664.04 L358.59,664.28 L359.43,663.77 L360.27,663.47 L361.12,663.53 L361.96,663.44 L362.81,662.81 L363.65,662.62 L364.49,662.59 L365.34,662.20 L366.18,662.17 L367.02,662.24 L367.87,661.45 L368.71,661.48 L369.56,661.13 L370.40,660.90 L371.24,661.03 L372.07,661.12 L372.91,660.71 L373.75,660.64 L374.59,660.59 L375.43,660.57 L376.26,660.51 L377.10,660.00 L377.94,659.78 L378.77,660.10 L379.61,659.79 L380.45,659.83 L381.29,659.26 L382.12,659.52 L382.96,659.00 L383.80,658.88 L384.61,658.81 L385.42,658.89 L386.23,658.85 L387.04,658.93 L387.85,659.04 L388.66,658.67 L389.47,658.69 L390.28,658.53 L391.09,658.44 L391.90,658.31 L392.71,658.09 L393.52,658.17 L394.33,658.39 L395.14,658.37 L395.95,658.24 L396.76,658.02 L397.57,657.94 L398.38,657.74 L399.19,657.71 L400.00,658.10 L400.81,657.82 L401.61,657.68 L402.42,657.72 L403.23,657.67 L404.03,657.52 L404.84,657.56 L405.65,657.53 L406.45,657.78 L407.26,657.74 L408.06,657.35 L408.87,657.42 L409.68,657.25 L410.48,657.65 L411.29,657.13 L412.10,657.31 L412.90,656.99 L413.71,657.23 L414.52,657.20 L415.32,656.90 L416.13,656.95 L416.94,657.12 L417.74,657.07 L418.55,656.94 L419.35,656.76 L420.16,656.89 L420.97,656.87 L421.77,656.69 L422.58,656.96 L423.39,656.70 L424.19,656.85 L425.00,656.93 L425.83,657.16 L426.67,658.10 L427.50,658.83 L428.44,660.55 L429.38,661.99 L430.31,663.64 L431.25,665.10 L432.06,666.21 L432.88,667.94 L433.69,669.28 L434.50,670.49 L435.50,669.59 L436.50,667.90 L437.50,667.24 L438.33,667.39 L439.17,667.97 L440.00,668.59 L440.83,668.69 L441.67,669.36 L442.50,669.54 L443.33,670.03 L444.17,671.05 L445.00,671.08 L445.83,671.39 L446.67,671.38 L447.50,672.05 L448.33,671.98 L449.17,672.37 L450.00,672.20 L450.83,672.49 L451.67,672.54 L452.50,672.93 L453.33,673.18 L454.17,673.28 L455.00,673.47 L455.83,673.48 L456.67,674.05 L457.50,673.67 L458.33,673.94 L459.17,674.42 L460.00,674.78 L460.80,674.79 L461.60,674.51 L462.40,675.01 L463.20,674.79 L464.00,674.94 L464.80,675.07 L465.60,675.13 L466.40,675.37 L467.20,675.46 L468.00,675.19 L468.80,675.62 L469.60,675.35 L470.40,675.65 L471.20,675.41 L472.00,675.78 L472.80,675.66 L473.60,676.16 L474.40,676.04 L475.20,675.95 L476.00,676.38 L476.80,675.95 L477.60,676.41 L478.40,676.43 L479.20,676.13 L480.00,676.48 L480.81,676.30 L481.61,676.86 L482.42,676.36 L483.23,676.71 L484.03,676.69 L484.84,676.47 L485.65,676.99 L486.45,676.80 L487.26,676.86 L488.06,676.68 L488.87,676.65 L489.68,676.78 L490.48,676.64 L491.29,676.77 L492.10,676.98 L492.90,676.95 L493.71,677.20 L494.52,676.87 L495.32,676.94 L496.13,677.16 L496.94,677.29 L497.74,677.10 L498.55,677.07 L499.35,677.05 L500.16,677.22 L500.97,677.27 L501.77,677.55 L502.58,677.25 L503.39,677.34 L504.19,677.61 L505.00,677.50" fill="none" stroke="#4a4a4a" stroke-width="1.9" stroke-linejoin="round" stroke-linecap="round"/>
<path d="M313.25,682.82 L314.09,682.72 L314.93,683.28 L315.77,683.25 L316.61,682.89 L317.45,682.87 L318.30,682.98 L319.14,682.83 L319.98,683.17 L320.82,683.23 L321.66,683.13 L322.50,682.94 L323.50,681.45 L324.50,679.76 L325.50,679.64 L326.50,680.27 L327.50,680.30 L328.33,681.18 L329.17,681.44 L330.00,681.60 L330.83,682.18 L331.67,682.29 L332.50,682.54 L333.40,682.11 L334.30,681.15 L335.20,680.67 L336.10,680.21 L336.90,677.35 L337.70,674.46 L338.50,671.73 L339.30,669.23 L340.10,666.51 L340.95,662.37 L341.80,657.55 L342.65,653.35 L343.50,648.97 L344.40,650.49 L345.30,651.95 L346.20,653.63 L347.00,652.79 L347.80,651.64 L348.60,650.77 L349.40,649.96 L350.20,649.26 L351.04,647.65 L351.88,646.23 L352.71,644.71 L353.55,643.66 L354.39,642.22 L355.22,640.74 L356.06,639.62 L356.90,638.37 L357.74,637.45 L358.57,636.92 L359.41,636.09 L360.25,634.99 L361.09,634.22 L361.93,633.74 L362.76,633.03 L363.60,632.23 L364.45,631.45 L365.30,630.93 L366.15,630.57 L367.00,629.79 L367.85,629.28 L368.70,628.51 L369.55,628.16 L370.40,627.49 L371.24,626.78 L372.07,626.80 L372.91,626.41 L373.75,626.09 L374.59,625.64 L375.43,625.07 L376.26,624.51 L377.10,623.96 L377.94,623.93 L378.78,623.48 L379.61,623.13 L380.45,622.72 L381.29,622.73 L382.12,622.50 L382.96,622.25 L383.80,621.59 L384.65,621.41 L385.50,621.46 L386.35,620.94 L387.20,621.18 L388.05,620.99 L388.90,620.60 L389.75,620.17 L390.60,620.14 L391.45,620.12 L392.31,619.73 L393.16,619.78 L394.02,619.62 L394.87,619.66 L395.73,619.45 L396.58,619.25 L397.44,619.04 L398.29,619.11 L399.15,618.80 L400.00,618.71 L400.83,618.40 L401.67,618.19 L402.50,618.37 L403.33,618.08 L404.17,618.44 L405.00,617.90 L405.83,618.22 L406.67,617.79 L407.50,617.62 L408.33,617.76 L409.17,617.52 L410.00,617.83 L410.83,617.51 L411.67,617.12 L412.50,617.15 L413.33,616.94 L414.17,617.09 L415.00,617.02 L415.85,616.81 L416.69,616.95 L417.54,616.74 L418.38,616.88 L419.23,616.72 L420.08,616.39 L420.92,616.66 L421.77,616.10 L422.62,616.15 L423.46,615.95 L424.31,616.42 L425.15,616.10 L426.00,616.20 L427.00,619.29 L428.00,621.75 L429.50,628.24 L430.38,631.21 L431.25,635.12 L432.38,637.68 L433.50,639.93 L435.00,641.48 L435.83,641.83 L436.67,642.08 L437.50,642.37 L438.33,643.34 L439.17,644.33 L440.00,645.65 L440.83,646.68 L441.67,647.52 L442.50,648.77 L443.33,649.23 L444.17,650.09 L445.00,651.04 L445.83,651.46 L446.67,652.41 L447.50,652.91 L448.33,654.08 L449.17,654.41 L450.00,655.57 L450.83,656.29 L451.67,657.05 L452.50,657.37 L453.33,657.94 L454.17,657.91 L455.00,658.78 L455.83,658.95 L456.67,658.89 L457.50,659.28 L458.33,659.60 L459.17,660.08 L460.00,660.76 L460.83,661.01 L461.67,661.06 L462.50,661.69 L463.33,661.54 L464.17,662.19 L465.00,662.43 L465.81,662.37 L466.61,662.99 L467.42,662.96 L468.23,663.28 L469.03,663.19 L469.84,663.30 L470.65,663.12 L471.45,663.45 L472.26,663.83 L473.06,663.74 L473.87,663.91 L474.68,663.93 L475.48,663.99 L476.29,663.90 L477.10,664.15 L477.90,664.25 L478.71,664.31 L479.52,664.41 L480.32,664.95 L481.13,665.22 L481.94,665.16 L482.74,665.36 L483.55,665.11 L484.35,665.61 L485.16,665.45 L485.97,665.86 L486.77,665.61 L487.58,665.77 L488.39,666.02 L489.19,665.96 L490.00,666.11 L490.83,666.48 L491.67,666.62 L492.50,666.83 L493.33,666.73 L494.17,666.65 L495.00,666.81 L495.83,666.98 L496.67,667.08 L497.50,667.38 L498.33,667.26 L499.17,667.60 L500.00,667.40 L500.83,667.48 L501.67,667.33 L502.50,667.60 L503.33,667.80 L504.17,667.61 L505.00,668.00" fill="none" stroke="#bf5a18" stroke-width="2.0" stroke-linejoin="round" stroke-linecap="round"/>
<line x1="313.25" y1="607.00" x2="313.25" y2="693.50" stroke="#1a1a1a" stroke-width="1.1"/>
<line x1="312.70" y1="693.00" x2="508.00" y2="693.00" stroke="#1a1a1a" stroke-width="1.1"/>
<line x1="309.70" y1="693.00" x2="313.25" y2="693.00" stroke="#1a1a1a" stroke-width="1.0"/>
<text x="307.50" y="696.20" font-size="9.0" fill="#151515" stroke="#151515" text-anchor="end">-10</text>
<line x1="309.70" y1="672.20" x2="313.25" y2="672.20" stroke="#1a1a1a" stroke-width="1.0"/>
<text x="307.50" y="675.40" font-size="9.0" fill="#151515" stroke="#151515" text-anchor="end">10</text>
<line x1="309.70" y1="651.40" x2="313.25" y2="651.40" stroke="#1a1a1a" stroke-width="1.0"/>
<text x="307.50" y="654.60" font-size="9.0" fill="#151515" stroke="#151515" text-anchor="end">30</text>
<line x1="309.70" y1="630.60" x2="313.25" y2="630.60" stroke="#1a1a1a" stroke-width="1.0"/>
<text x="307.50" y="633.80" font-size="9.0" fill="#151515" stroke="#151515" text-anchor="end">50</text>
<line x1="309.70" y1="609.80" x2="313.25" y2="609.80" stroke="#1a1a1a" stroke-width="1.0"/>
<text x="307.50" y="613.00" font-size="9.0" fill="#151515" stroke="#151515" text-anchor="end">70</text>
<line x1="313.25" y1="693.00" x2="313.25" y2="696.50" stroke="#1a1a1a" stroke-width="1.0"/>
<text x="313.25" y="707.70" font-size="9.0" fill="#151515" stroke="#151515" text-anchor="middle">0</text>
<line x1="351.60" y1="693.00" x2="351.60" y2="696.50" stroke="#1a1a1a" stroke-width="1.0"/>
<text x="351.60" y="707.70" font-size="9.0" fill="#151515" stroke="#151515" text-anchor="middle">50</text>
<line x1="389.95" y1="693.00" x2="389.95" y2="696.50" stroke="#1a1a1a" stroke-width="1.0"/>
<text x="389.95" y="707.70" font-size="9.0" fill="#151515" stroke="#151515" text-anchor="middle">100</text>
<line x1="428.30" y1="693.00" x2="428.30" y2="696.50" stroke="#1a1a1a" stroke-width="1.0"/>
<text x="428.30" y="707.70" font-size="9.0" fill="#151515" stroke="#151515" text-anchor="middle">150</text>
<line x1="466.65" y1="693.00" x2="466.65" y2="696.50" stroke="#1a1a1a" stroke-width="1.0"/>
<text x="466.65" y="707.70" font-size="9.0" fill="#151515" stroke="#151515" text-anchor="middle">200</text>
<line x1="505.00" y1="693.00" x2="505.00" y2="696.50" stroke="#1a1a1a" stroke-width="1.0"/>
<text x="505.00" y="707.70" font-size="9.0" fill="#151515" stroke="#151515" text-anchor="middle">250</text>
<text transform="translate(288.7,649.5) rotate(-90)" font-size="10.6" text-anchor="middle" fill="#151515" stroke="#151515" textLength="54.7" lengthAdjust="spacingAndGlyphs">Response units</text>
<text x="397.10" y="721.30" font-size="9.9" fill="#151515" stroke="#151515" textLength="27.9" lengthAdjust="spacingAndGlyphs">Time [s]</text>
<text x="318" y="600" font-size="10.5" fill="#1a1a1a" stroke="#1a1a1a" textLength="186.3" lengthAdjust="spacingAndGlyphs">C3 binding to C4b in presence of Cp40</text>
<line x1="318.00" y1="601.70" x2="504.30" y2="601.70" stroke="#555" stroke-width="1.0"/>
<text x="498.10" y="613.60" font-size="8.0" fill="#c46a35" stroke="#c46a35" textLength="10.0" lengthAdjust="spacingAndGlyphs">C3</text>
<text x="467.90" y="623.30" font-size="8.0" fill="#555" stroke="#555" textLength="40.2" lengthAdjust="spacingAndGlyphs">C3 + Cp40</text>
<text x="488.60" y="633.20" font-size="8.0" fill="#c9a030" stroke="#c9a030" textLength="19.5" lengthAdjust="spacingAndGlyphs">Cp40</text>
<text x="487.00" y="642.70" font-size="8.0" fill="#5a98d8" stroke="#5a98d8" textLength="21.1" lengthAdjust="spacingAndGlyphs">buffer</text>
<text x="7.80" y="18.10" font-size="12.6" fill="#000" stroke="#000" textLength="9.4" lengthAdjust="spacingAndGlyphs" font-weight="bold">A</text>
<text x="9.50" y="160.70" font-size="12.6" fill="#000" stroke="#000" textLength="7.7" lengthAdjust="spacingAndGlyphs" font-weight="bold">B</text>
<text x="8.70" y="303.30" font-size="12.6" fill="#000" stroke="#000" textLength="8.2" lengthAdjust="spacingAndGlyphs" font-weight="bold">C</text>
<text x="9.40" y="445.40" font-size="12.6" fill="#000" stroke="#000" textLength="10.0" lengthAdjust="spacingAndGlyphs" font-weight="bold">D</text>
<text x="9.30" y="592.00" font-size="12.6" fill="#000" stroke="#000" textLength="7.8" lengthAdjust="spacingAndGlyphs" font-weight="bold">E</text>
<text x="279.50" y="592.00" font-size="12.6" fill="#000" stroke="#000" textLength="6.3" lengthAdjust="spacingAndGlyphs" font-weight="bold">F</text>
<rect x="0" y="0" width="520" height="1.1" fill="#000"/>
<rect x="0" y="0" width="1.25" height="733" fill="#000"/>
<rect x="518.75" y="0" width="1.25" height="733" fill="#000"/>
<rect x="0" y="731.5" width="520" height="1.5" fill="#000"/>
</svg>
</body></html>
